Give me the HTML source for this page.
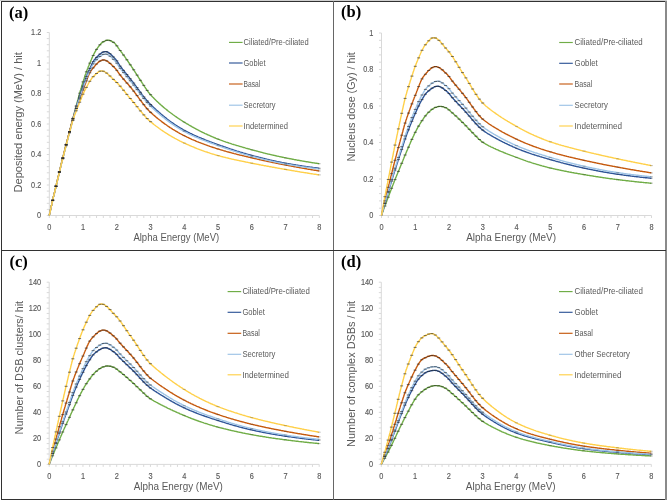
<!DOCTYPE html>
<html><head><meta charset="utf-8"><style>
html,body{margin:0;padding:0;background:#fff;}
svg{display:block;}
.t{font-family:"Liberation Sans",sans-serif;font-size:8.7px;fill:#595959;stroke:#595959;stroke-width:0.15px;}
.l{font-family:"Liberation Sans",sans-serif;font-size:9.2px;fill:#595959;}
.yt{font-family:"Liberation Sans",sans-serif;font-size:11.4px;fill:#595959;}
.xt{font-family:"Liberation Sans",sans-serif;font-size:11px;fill:#595959;}
.pl{font-family:"Liberation Serif",serif;font-weight:bold;font-size:16.5px;fill:#000;}
</style></head><body>
<svg width="667" height="501" viewBox="0 0 667 501">
<defs><filter id="bl" x="0" y="0" width="1" height="1"><feGaussianBlur stdDeviation="0.35"/></filter></defs>
<rect width="667" height="501" fill="#fff"/>
<g filter="url(#bl)">
<path d="M49.30 32.50V215.50H319.30" stroke="#D9D9D9" stroke-width="1" fill="none"/>
<path d="M46.80 215.50H49.30M46.80 209.40H49.30M46.80 203.30H49.30M46.80 197.20H49.30M46.80 191.10H49.30M46.80 185.00H49.30M46.80 178.90H49.30M46.80 172.80H49.30M46.80 166.70H49.30M46.80 160.60H49.30M46.80 154.50H49.30M46.80 148.40H49.30M46.80 142.30H49.30M46.80 136.20H49.30M46.80 130.10H49.30M46.80 124.00H49.30M46.80 117.90H49.30M46.80 111.80H49.30M46.80 105.70H49.30M46.80 99.60H49.30M46.80 93.50H49.30M46.80 87.40H49.30M46.80 81.30H49.30M46.80 75.20H49.30M46.80 69.10H49.30M46.80 63.00H49.30M46.80 56.90H49.30M46.80 50.80H49.30M46.80 44.70H49.30M46.80 38.60H49.30M46.80 32.50H49.30M49.30 215.50V218.00M56.05 215.50V218.00M62.80 215.50V218.00M69.55 215.50V218.00M76.30 215.50V218.00M83.05 215.50V218.00M89.80 215.50V218.00M96.55 215.50V218.00M103.30 215.50V218.00M110.05 215.50V218.00M116.80 215.50V218.00M123.55 215.50V218.00M130.30 215.50V218.00M137.05 215.50V218.00M143.80 215.50V218.00M150.55 215.50V218.00M157.30 215.50V218.00M164.05 215.50V218.00M170.80 215.50V218.00M177.55 215.50V218.00M184.30 215.50V218.00M191.05 215.50V218.00M197.80 215.50V218.00M204.55 215.50V218.00M211.30 215.50V218.00M218.05 215.50V218.00M224.80 215.50V218.00M231.55 215.50V218.00M238.30 215.50V218.00M245.05 215.50V218.00M251.80 215.50V218.00M258.55 215.50V218.00M265.30 215.50V218.00M272.05 215.50V218.00M278.80 215.50V218.00M285.55 215.50V218.00M292.30 215.50V218.00M299.05 215.50V218.00M305.80 215.50V218.00M312.55 215.50V218.00M319.30 215.50V218.00" stroke="#D9D9D9" stroke-width="1" fill="none"/>
<text x="37.10" y="218.30" class="t" textLength="4.1" lengthAdjust="spacingAndGlyphs">0</text>
<text x="31.10" y="187.80" class="t" textLength="10.1" lengthAdjust="spacingAndGlyphs">0.2</text>
<text x="31.10" y="157.30" class="t" textLength="10.1" lengthAdjust="spacingAndGlyphs">0.4</text>
<text x="31.10" y="126.80" class="t" textLength="10.1" lengthAdjust="spacingAndGlyphs">0.6</text>
<text x="31.10" y="96.30" class="t" textLength="10.1" lengthAdjust="spacingAndGlyphs">0.8</text>
<text x="37.10" y="65.80" class="t" textLength="4.1" lengthAdjust="spacingAndGlyphs">1</text>
<text x="31.10" y="35.30" class="t" textLength="10.1" lengthAdjust="spacingAndGlyphs">1.2</text>
<text x="47.25" y="229.80" class="t" textLength="4.1" lengthAdjust="spacingAndGlyphs">0</text>
<text x="81.00" y="229.80" class="t" textLength="4.1" lengthAdjust="spacingAndGlyphs">1</text>
<text x="114.75" y="229.80" class="t" textLength="4.1" lengthAdjust="spacingAndGlyphs">2</text>
<text x="148.50" y="229.80" class="t" textLength="4.1" lengthAdjust="spacingAndGlyphs">3</text>
<text x="182.25" y="229.80" class="t" textLength="4.1" lengthAdjust="spacingAndGlyphs">4</text>
<text x="216.00" y="229.80" class="t" textLength="4.1" lengthAdjust="spacingAndGlyphs">5</text>
<text x="249.75" y="229.80" class="t" textLength="4.1" lengthAdjust="spacingAndGlyphs">6</text>
<text x="283.50" y="229.80" class="t" textLength="4.1" lengthAdjust="spacingAndGlyphs">7</text>
<text x="317.25" y="229.80" class="t" textLength="4.1" lengthAdjust="spacingAndGlyphs">8</text>
<polyline points="49.3,215.5 49.6,213.9 50.0,212.4 50.3,210.8 50.6,209.3 51.0,207.7 51.3,206.2 51.7,204.7 52.0,203.2 52.3,201.7 52.7,200.2 53.0,198.8 53.3,197.3 53.7,195.9 54.0,194.5 54.4,193.1 54.7,191.7 55.0,190.3 55.4,188.9 55.7,187.5 56.0,186.1 56.4,184.7 56.7,183.2 57.1,181.8 57.4,180.4 57.7,179.0 58.1,177.5 58.4,176.1 58.8,174.7 59.1,173.2 59.4,171.8 59.8,170.4 60.1,169.0 60.4,167.6 60.8,166.2 61.1,164.8 61.4,163.4 61.8,162.0 62.1,160.6 62.5,159.2 62.8,157.9 63.1,156.5 63.5,155.2 63.8,153.8 64.1,152.5 64.5,151.2 64.8,149.9 65.2,148.5 65.5,147.2 65.8,145.9 66.2,144.6 66.5,143.3 66.8,142.0 67.2,140.8 67.5,139.5 67.9,138.2 68.2,136.9 68.5,135.6 68.9,134.3 69.2,132.9 69.5,131.6 69.9,130.3 70.2,129.0 70.6,127.6 70.9,126.3 71.2,125.0 71.6,123.6 71.9,122.3 72.2,121.0 72.6,119.7 72.9,118.4 73.3,117.1 73.6,115.8 73.9,114.5 74.3,113.3 74.6,112.0 74.9,110.8 75.3,109.5 75.6,108.3 76.0,107.0 76.3,105.8 76.6,104.5 77.0,103.2 77.3,101.9 77.6,100.6 78.0,99.4 78.3,98.1 78.7,96.8 79.0,95.6 79.3,94.4 79.7,93.2 80.0,92.0 80.3,90.8 80.7,89.7 81.0,88.5 81.4,87.4 81.7,86.3 82.0,85.2 82.4,84.1 82.7,83.0 83.0,81.9 83.4,80.8 83.7,79.7 84.1,78.7 84.4,77.6 84.7,76.6 85.1,75.6 85.4,74.6 85.8,73.7 86.1,72.7 86.4,71.8 86.8,70.9 87.1,70.0 87.4,69.1 87.8,68.3 88.1,67.4 88.4,66.6 88.8,65.7 89.1,64.9 89.5,64.0 89.8,63.2 90.1,62.4 90.5,61.6 90.8,60.8 91.2,60.0 91.5,59.2 91.8,58.4 92.2,57.7 92.5,56.9 92.8,56.2 93.2,55.5 93.5,54.8 93.8,54.1 94.2,53.4 94.5,52.8 94.9,52.2 95.2,51.6 95.5,51.0 95.9,50.5 96.2,49.9 96.6,49.4 96.9,48.9 97.2,48.4 97.6,48.0 97.9,47.5 98.2,47.0 98.6,46.6 98.9,46.1 99.2,45.7 99.6,45.2 99.9,44.8 100.3,44.4 100.6,44.1 100.9,43.7 101.3,43.4 101.6,43.0 101.9,42.7 102.3,42.5 102.6,42.2 103.0,42.0 103.3,41.8 103.6,41.6 104.0,41.4 104.3,41.3 104.7,41.1 105.0,40.9 105.3,40.8 105.7,40.6 106.0,40.5 106.3,40.4 106.7,40.3 107.0,40.2 107.3,40.2 107.7,40.1 108.0,40.1 108.4,40.1 108.7,40.2 109.0,40.3 109.4,40.3 109.7,40.4 110.0,40.6 110.4,40.7 110.7,40.8 111.1,41.0 111.4,41.1 111.7,41.3 112.1,41.5 112.4,41.7 112.8,41.9 113.1,42.1 113.4,42.3 113.8,42.5 114.1,42.7 114.4,43.0 114.8,43.3 115.1,43.7 115.5,44.1 115.8,44.5 116.1,44.9 116.5,45.3 116.8,45.8 117.1,46.2 117.5,46.7 117.8,47.2 118.1,47.7 118.5,48.2 118.8,48.6 119.2,49.1 119.5,49.6 119.8,50.0 120.2,50.5 120.5,50.9 120.8,51.4 121.2,51.8 121.5,52.3 121.9,52.7 122.2,53.2 122.5,53.6 122.9,54.1 123.2,54.6 123.5,55.0 123.9,55.5 124.2,56.0 124.6,56.5 124.9,56.9 125.2,57.4 125.6,57.9 125.9,58.4 126.2,58.9 126.6,59.3 126.9,59.8 127.3,60.3 127.6,60.8 127.9,61.3 128.3,61.8 128.6,62.3 128.9,62.8 129.3,63.3 129.6,63.8 130.0,64.3 130.3,64.8 130.6,65.2 131.0,65.7 131.3,66.2 131.6,66.7 132.0,67.3 132.3,67.8 132.7,68.3 133.0,68.8 133.3,69.3 133.7,69.8 134.0,70.4 134.3,70.9 134.7,71.4 135.0,71.9 135.4,72.5 135.7,73.0 136.0,73.5 136.4,74.1 136.7,74.6 137.1,75.1 137.4,75.6 137.7,76.2 138.1,76.7 138.4,77.2 138.7,77.7 139.1,78.3 139.4,78.8 139.8,79.3 140.1,79.8 140.4,80.3 140.8,80.8 141.1,81.3 141.4,81.8 141.8,82.3 142.1,82.8 142.4,83.3 142.8,83.9 143.1,84.4 143.5,84.9 143.8,85.4 144.1,85.9 144.5,86.5 144.8,87.0 145.1,87.5 145.5,88.0 145.8,88.5 146.2,89.0 146.5,89.5 146.8,90.0 147.2,90.4 147.5,90.9 147.8,91.4 148.2,91.8 148.5,92.3 148.9,92.7 149.2,93.1 149.5,93.6 149.9,94.0 150.2,94.3 150.6,94.7 151.2,95.5 151.9,96.2 152.6,96.9 153.2,97.6 153.9,98.3 154.6,99.0 155.3,99.6 155.9,100.3 156.6,101.0 157.3,101.6 158.0,102.3 158.7,102.9 159.3,103.5 160.0,104.1 160.7,104.7 161.3,105.3 162.0,105.9 162.7,106.5 163.4,107.1 164.1,107.7 164.7,108.2 165.4,108.8 166.1,109.3 166.8,109.9 167.4,110.4 168.1,111.0 168.8,111.5 169.4,112.0 170.1,112.5 170.8,113.0 171.5,113.5 172.2,114.0 172.8,114.5 173.5,115.0 174.2,115.5 174.9,116.0 175.5,116.4 176.2,116.9 176.9,117.4 177.6,117.8 178.2,118.3 178.9,118.7 179.6,119.2 180.2,119.6 180.9,120.0 181.6,120.5 182.3,120.9 182.9,121.3 183.6,121.7 184.3,122.2 185.0,122.6 185.6,123.0 186.3,123.4 187.0,123.8 187.7,124.2 188.4,124.6 189.0,125.0 189.7,125.4 190.4,125.8 191.1,126.2 191.7,126.6 192.4,127.0 193.1,127.3 193.8,127.7 194.4,128.1 195.1,128.4 195.8,128.8 196.4,129.2 197.1,129.5 197.8,129.9 198.5,130.2 199.1,130.6 199.8,130.9 200.5,131.3 201.2,131.6 201.8,132.0 202.5,132.3 203.2,132.6 203.9,132.9 204.6,133.3 205.2,133.6 205.9,133.9 206.6,134.2 207.2,134.5 207.9,134.8 208.6,135.1 209.3,135.4 209.9,135.7 210.6,136.0 211.3,136.3 212.0,136.6 212.6,136.9 213.3,137.2 214.0,137.5 214.7,137.8 215.4,138.0 216.0,138.3 216.7,138.6 217.4,138.8 218.1,139.1 218.7,139.4 219.4,139.6 220.1,139.9 220.8,140.1 221.4,140.4 222.1,140.6 222.8,140.9 223.4,141.1 224.1,141.4 224.8,141.6 225.5,141.8 226.1,142.1 226.8,142.3 227.5,142.5 228.2,142.7 228.9,143.0 229.5,143.2 230.2,143.4 230.9,143.6 231.6,143.9 232.2,144.1 232.9,144.3 233.6,144.5 234.2,144.7 234.9,144.9 235.6,145.1 236.3,145.3 236.9,145.5 237.6,145.7 238.3,145.9 239.0,146.1 239.7,146.3 240.3,146.5 241.0,146.7 241.7,146.9 242.4,147.1 243.0,147.3 243.7,147.5 244.4,147.7 245.1,147.9 245.7,148.1 246.4,148.3 247.1,148.5 247.8,148.7 248.4,148.8 249.1,149.0 249.8,149.2 250.4,149.4 251.1,149.6 251.8,149.8 252.5,150.0 253.1,150.1 253.8,150.3 254.5,150.5 255.2,150.7 255.9,150.9 256.5,151.0 257.2,151.2 257.9,151.4 258.6,151.6 259.2,151.8 259.9,151.9 260.6,152.1 261.2,152.3 261.9,152.4 262.6,152.6 263.3,152.8 263.9,153.0 264.6,153.1 265.3,153.3 266.0,153.5 266.6,153.6 267.3,153.8 268.0,154.0 268.7,154.1 269.3,154.3 270.0,154.4 270.7,154.6 271.4,154.8 272.1,154.9 272.7,155.1 273.4,155.2 274.1,155.4 274.8,155.5 275.4,155.7 276.1,155.8 276.8,156.0 277.4,156.1 278.1,156.3 278.8,156.4 279.5,156.6 280.1,156.7 280.8,156.9 281.5,157.0 282.2,157.2 282.9,157.3 283.5,157.4 284.2,157.6 284.9,157.7 285.6,157.9 286.2,158.0 286.9,158.1 287.6,158.3 288.2,158.4 288.9,158.5 289.6,158.7 290.3,158.8 290.9,158.9 291.6,159.0 292.3,159.2 293.0,159.3 293.6,159.4 294.3,159.6 295.0,159.7 295.7,159.8 296.4,159.9 297.0,160.1 297.7,160.2 298.4,160.3 299.1,160.4 299.7,160.5 300.4,160.7 301.1,160.8 301.8,160.9 302.4,161.0 303.1,161.1 303.8,161.2 304.4,161.4 305.1,161.5 305.8,161.6 306.5,161.7 307.2,161.8 307.8,161.9 308.5,162.0 309.2,162.1 309.9,162.2 310.5,162.4 311.2,162.5 311.9,162.6 312.6,162.7 313.2,162.8 313.9,162.9 314.6,163.0 315.3,163.1 315.9,163.2 316.6,163.3 317.3,163.4 318.0,163.5 318.6,163.6 319.3,163.7" fill="none" stroke="#70AD47" stroke-width="1.4" stroke-linejoin="round"/>
<polyline points="49.3,215.5 49.6,213.9 50.0,212.4 50.3,210.8 50.6,209.3 51.0,207.7 51.3,206.2 51.7,204.7 52.0,203.2 52.3,201.7 52.7,200.2 53.0,198.8 53.3,197.3 53.7,195.9 54.0,194.5 54.4,193.1 54.7,191.7 55.0,190.3 55.4,188.9 55.7,187.5 56.0,186.1 56.4,184.7 56.7,183.2 57.1,181.8 57.4,180.4 57.7,179.0 58.1,177.5 58.4,176.1 58.8,174.7 59.1,173.2 59.4,171.8 59.8,170.4 60.1,169.0 60.4,167.6 60.8,166.2 61.1,164.8 61.4,163.4 61.8,162.0 62.1,160.6 62.5,159.2 62.8,157.9 63.1,156.5 63.5,155.2 63.8,153.8 64.1,152.5 64.5,151.2 64.8,149.8 65.2,148.5 65.5,147.2 65.8,145.9 66.2,144.6 66.5,143.3 66.8,142.0 67.2,140.7 67.5,139.4 67.9,138.1 68.2,136.8 68.5,135.5 68.9,134.2 69.2,132.9 69.5,131.6 69.9,130.3 70.2,129.0 70.6,127.6 70.9,126.3 71.2,125.0 71.6,123.7 71.9,122.3 72.2,121.0 72.6,119.8 72.9,118.5 73.3,117.3 73.6,116.1 73.9,114.9 74.3,113.7 74.6,112.5 74.9,111.3 75.3,110.2 75.6,109.1 76.0,107.9 76.3,106.8 76.6,105.7 77.0,104.6 77.3,103.5 77.6,102.4 78.0,101.3 78.3,100.3 78.7,99.2 79.0,98.1 79.3,97.1 79.7,96.0 80.0,95.0 80.3,94.0 80.7,93.0 81.0,92.0 81.4,91.0 81.7,90.0 82.0,89.0 82.4,88.0 82.7,87.0 83.0,86.1 83.4,85.1 83.7,84.1 84.1,83.1 84.4,82.2 84.7,81.2 85.1,80.3 85.4,79.3 85.8,78.4 86.1,77.5 86.4,76.6 86.8,75.7 87.1,74.8 87.4,74.0 87.8,73.2 88.1,72.3 88.4,71.5 88.8,70.8 89.1,70.0 89.5,69.3 89.8,68.5 90.1,67.8 90.5,67.0 90.8,66.3 91.2,65.6 91.5,64.9 91.8,64.2 92.2,63.5 92.5,62.9 92.8,62.2 93.2,61.6 93.5,61.1 93.8,60.5 94.2,60.0 94.5,59.6 94.9,59.2 95.2,58.8 95.5,58.5 95.9,58.1 96.2,57.7 96.6,57.4 96.9,57.0 97.2,56.7 97.6,56.3 97.9,56.0 98.2,55.6 98.6,55.3 98.9,55.0 99.2,54.7 99.6,54.4 99.9,54.1 100.3,53.8 100.6,53.6 100.9,53.3 101.3,53.1 101.6,52.9 101.9,52.7 102.3,52.5 102.6,52.3 103.0,52.1 103.3,52.0 103.6,51.9 104.0,51.8 104.3,51.7 104.7,51.6 105.0,51.6 105.3,51.6 105.7,51.6 106.0,51.6 106.3,51.7 106.7,51.8 107.0,51.9 107.3,52.0 107.7,52.2 108.0,52.3 108.4,52.5 108.7,52.7 109.0,53.0 109.4,53.2 109.7,53.5 110.0,53.7 110.4,54.0 110.7,54.3 111.1,54.6 111.4,54.9 111.7,55.3 112.1,55.6 112.4,55.9 112.8,56.3 113.1,56.6 113.4,57.0 113.8,57.3 114.1,57.7 114.4,58.0 114.8,58.3 115.1,58.7 115.5,59.1 115.8,59.5 116.1,59.9 116.5,60.4 116.8,60.9 117.1,61.4 117.5,61.9 117.8,62.4 118.1,63.0 118.5,63.5 118.8,64.0 119.2,64.6 119.5,65.1 119.8,65.6 120.2,66.1 120.5,66.5 120.8,67.0 121.2,67.4 121.5,67.8 121.9,68.3 122.2,68.7 122.5,69.2 122.9,69.6 123.2,70.0 123.5,70.4 123.9,70.9 124.2,71.3 124.6,71.7 124.9,72.1 125.2,72.5 125.6,73.0 125.9,73.4 126.2,73.8 126.6,74.2 126.9,74.6 127.3,75.0 127.6,75.4 127.9,75.9 128.3,76.3 128.6,76.7 128.9,77.1 129.3,77.5 129.6,77.9 130.0,78.4 130.3,78.8 130.6,79.2 131.0,79.6 131.3,80.1 131.6,80.5 132.0,80.9 132.3,81.4 132.7,81.8 133.0,82.2 133.3,82.7 133.7,83.1 134.0,83.6 134.3,84.0 134.7,84.5 135.0,84.9 135.4,85.4 135.7,85.9 136.0,86.3 136.4,86.8 136.7,87.2 137.1,87.7 137.4,88.2 137.7,88.6 138.1,89.1 138.4,89.5 138.7,90.0 139.1,90.5 139.4,90.9 139.8,91.4 140.1,91.8 140.4,92.3 140.8,92.8 141.1,93.2 141.4,93.7 141.8,94.1 142.1,94.6 142.4,95.0 142.8,95.4 143.1,95.9 143.5,96.3 143.8,96.8 144.1,97.2 144.5,97.6 144.8,98.0 145.1,98.4 145.5,98.9 145.8,99.3 146.2,99.7 146.5,100.1 146.8,100.5 147.2,100.9 147.5,101.3 147.8,101.6 148.2,102.0 148.5,102.4 148.9,102.8 149.2,103.1 149.5,103.5 149.9,103.8 150.2,104.1 150.6,104.5 151.2,105.1 151.9,105.8 152.6,106.4 153.2,107.1 153.9,107.7 154.6,108.3 155.3,109.0 155.9,109.6 156.6,110.2 157.3,110.8 158.0,111.4 158.7,112.0 159.3,112.6 160.0,113.1 160.7,113.7 161.3,114.3 162.0,114.9 162.7,115.4 163.4,116.0 164.1,116.5 164.7,117.1 165.4,117.6 166.1,118.1 166.8,118.7 167.4,119.2 168.1,119.7 168.8,120.2 169.4,120.7 170.1,121.2 170.8,121.7 171.5,122.2 172.2,122.7 172.8,123.1 173.5,123.6 174.2,124.1 174.9,124.5 175.5,125.0 176.2,125.4 176.9,125.8 177.6,126.3 178.2,126.7 178.9,127.1 179.6,127.5 180.2,127.9 180.9,128.3 181.6,128.7 182.3,129.1 182.9,129.5 183.6,129.9 184.3,130.3 185.0,130.6 185.6,131.0 186.3,131.3 187.0,131.7 187.7,132.0 188.4,132.4 189.0,132.7 189.7,133.1 190.4,133.4 191.1,133.7 191.7,134.0 192.4,134.3 193.1,134.7 193.8,135.0 194.4,135.3 195.1,135.6 195.8,135.9 196.4,136.2 197.1,136.5 197.8,136.8 198.5,137.1 199.1,137.3 199.8,137.6 200.5,137.9 201.2,138.2 201.8,138.5 202.5,138.7 203.2,139.0 203.9,139.3 204.6,139.5 205.2,139.8 205.9,140.1 206.6,140.3 207.2,140.6 207.9,140.8 208.6,141.1 209.3,141.3 209.9,141.6 210.6,141.9 211.3,142.1 212.0,142.4 212.6,142.6 213.3,142.9 214.0,143.1 214.7,143.4 215.4,143.6 216.0,143.8 216.7,144.1 217.4,144.3 218.1,144.6 218.7,144.8 219.4,145.1 220.1,145.3 220.8,145.6 221.4,145.8 222.1,146.0 222.8,146.3 223.4,146.5 224.1,146.8 224.8,147.0 225.5,147.2 226.1,147.5 226.8,147.7 227.5,147.9 228.2,148.2 228.9,148.4 229.5,148.6 230.2,148.9 230.9,149.1 231.6,149.3 232.2,149.5 232.9,149.8 233.6,150.0 234.2,150.2 234.9,150.4 235.6,150.6 236.3,150.8 236.9,151.1 237.6,151.3 238.3,151.5 239.0,151.7 239.7,151.9 240.3,152.1 241.0,152.3 241.7,152.5 242.4,152.7 243.0,152.9 243.7,153.1 244.4,153.3 245.1,153.5 245.7,153.7 246.4,153.9 247.1,154.1 247.8,154.3 248.4,154.5 249.1,154.7 249.8,154.9 250.4,155.0 251.1,155.2 251.8,155.4 252.5,155.6 253.1,155.8 253.8,156.0 254.5,156.1 255.2,156.3 255.9,156.5 256.5,156.7 257.2,156.8 257.9,157.0 258.6,157.2 259.2,157.4 259.9,157.5 260.6,157.7 261.2,157.9 261.9,158.0 262.6,158.2 263.3,158.4 263.9,158.5 264.6,158.7 265.3,158.9 266.0,159.0 266.6,159.2 267.3,159.4 268.0,159.5 268.7,159.7 269.3,159.8 270.0,160.0 270.7,160.1 271.4,160.3 272.1,160.4 272.7,160.6 273.4,160.7 274.1,160.9 274.8,161.0 275.4,161.2 276.1,161.3 276.8,161.5 277.4,161.6 278.1,161.8 278.8,161.9 279.5,162.0 280.1,162.2 280.8,162.3 281.5,162.4 282.2,162.6 282.9,162.7 283.5,162.8 284.2,162.9 284.9,163.1 285.6,163.2 286.2,163.3 286.9,163.4 287.6,163.6 288.2,163.7 288.9,163.8 289.6,163.9 290.3,164.0 290.9,164.1 291.6,164.3 292.3,164.4 293.0,164.5 293.6,164.6 294.3,164.7 295.0,164.8 295.7,164.9 296.4,165.1 297.0,165.2 297.7,165.3 298.4,165.4 299.1,165.5 299.7,165.6 300.4,165.7 301.1,165.8 301.8,165.9 302.4,166.0 303.1,166.1 303.8,166.2 304.4,166.3 305.1,166.4 305.8,166.5 306.5,166.6 307.2,166.7 307.8,166.8 308.5,166.9 309.2,167.0 309.9,167.1 310.5,167.2 311.2,167.3 311.9,167.3 312.6,167.4 313.2,167.5 313.9,167.6 314.6,167.7 315.3,167.8 315.9,167.8 316.6,167.9 317.3,168.0 318.0,168.1 318.6,168.2 319.3,168.2" fill="none" stroke="#2F5597" stroke-width="1.4" stroke-linejoin="round"/>
<polyline points="49.3,215.5 49.6,213.9 50.0,212.4 50.3,210.8 50.6,209.3 51.0,207.7 51.3,206.2 51.7,204.7 52.0,203.2 52.3,201.7 52.7,200.2 53.0,198.8 53.3,197.3 53.7,195.9 54.0,194.5 54.4,193.1 54.7,191.7 55.0,190.3 55.4,188.9 55.7,187.5 56.0,186.1 56.4,184.7 56.7,183.2 57.1,181.8 57.4,180.4 57.7,179.0 58.1,177.5 58.4,176.1 58.8,174.7 59.1,173.2 59.4,171.8 59.8,170.4 60.1,169.0 60.4,167.6 60.8,166.2 61.1,164.8 61.4,163.4 61.8,162.0 62.1,160.6 62.5,159.2 62.8,157.9 63.1,156.5 63.5,155.1 63.8,153.8 64.1,152.5 64.5,151.1 64.8,149.8 65.2,148.5 65.5,147.2 65.8,145.9 66.2,144.6 66.5,143.3 66.8,142.0 67.2,140.7 67.5,139.4 67.9,138.1 68.2,136.8 68.5,135.5 68.9,134.2 69.2,132.9 69.5,131.6 69.9,130.3 70.2,129.0 70.6,127.7 70.9,126.4 71.2,125.1 71.6,123.8 71.9,122.6 72.2,121.3 72.6,120.1 72.9,119.0 73.3,117.8 73.6,116.7 73.9,115.7 74.3,114.6 74.6,113.6 74.9,112.5 75.3,111.5 75.6,110.5 76.0,109.5 76.3,108.5 76.6,107.5 77.0,106.6 77.3,105.6 77.6,104.6 78.0,103.7 78.3,102.7 78.7,101.7 79.0,100.8 79.3,99.9 79.7,98.9 80.0,98.0 80.3,97.1 80.7,96.2 81.0,95.3 81.4,94.4 81.7,93.5 82.0,92.6 82.4,91.7 82.7,90.9 83.0,90.0 83.4,89.1 83.7,88.2 84.1,87.3 84.4,86.4 84.7,85.5 85.1,84.6 85.4,83.7 85.8,82.7 86.1,81.8 86.4,80.9 86.8,80.0 87.1,79.1 87.4,78.2 87.8,77.4 88.1,76.5 88.4,75.7 88.8,74.9 89.1,74.2 89.5,73.5 89.8,72.8 90.1,72.1 90.5,71.5 90.8,71.0 91.2,70.5 91.5,70.0 91.8,69.6 92.2,69.2 92.5,68.7 92.8,68.3 93.2,67.9 93.5,67.5 93.8,67.1 94.2,66.7 94.5,66.3 94.9,65.9 95.2,65.5 95.5,65.1 95.9,64.7 96.2,64.4 96.6,64.0 96.9,63.7 97.2,63.3 97.6,63.0 97.9,62.7 98.2,62.4 98.6,62.1 98.9,61.9 99.2,61.6 99.6,61.4 99.9,61.1 100.3,60.9 100.6,60.8 100.9,60.6 101.3,60.4 101.6,60.3 101.9,60.2 102.3,60.1 102.6,60.0 103.0,60.0 103.3,60.0 103.6,60.0 104.0,60.0 104.3,60.0 104.7,60.1 105.0,60.2 105.3,60.3 105.7,60.4 106.0,60.5 106.3,60.7 106.7,60.9 107.0,61.1 107.3,61.3 107.7,61.5 108.0,61.7 108.4,62.0 108.7,62.2 109.0,62.5 109.4,62.8 109.7,63.1 110.0,63.4 110.4,63.7 110.7,64.0 111.1,64.3 111.4,64.6 111.7,64.9 112.1,65.3 112.4,65.6 112.8,65.9 113.1,66.3 113.4,66.6 113.8,67.0 114.1,67.3 114.4,67.6 114.8,68.0 115.1,68.3 115.5,68.6 115.8,69.0 116.1,69.4 116.5,69.9 116.8,70.3 117.1,70.8 117.5,71.3 117.8,71.7 118.1,72.2 118.5,72.7 118.8,73.2 119.2,73.7 119.5,74.2 119.8,74.6 120.2,75.0 120.5,75.5 120.8,75.9 121.2,76.3 121.5,76.7 121.9,77.1 122.2,77.5 122.5,77.9 122.9,78.3 123.2,78.7 123.5,79.1 123.9,79.5 124.2,79.9 124.6,80.3 124.9,80.7 125.2,81.1 125.6,81.4 125.9,81.8 126.2,82.2 126.6,82.6 126.9,83.0 127.3,83.4 127.6,83.8 127.9,84.1 128.3,84.5 128.6,84.9 128.9,85.3 129.3,85.7 129.6,86.1 130.0,86.5 130.3,86.9 130.6,87.3 131.0,87.7 131.3,88.1 131.6,88.5 132.0,88.9 132.3,89.4 132.7,89.8 133.0,90.2 133.3,90.7 133.7,91.1 134.0,91.5 134.3,92.0 134.7,92.4 135.0,92.9 135.4,93.3 135.7,93.8 136.0,94.3 136.4,94.7 136.7,95.2 137.1,95.6 137.4,96.1 137.7,96.5 138.1,97.0 138.4,97.5 138.7,97.9 139.1,98.4 139.4,98.9 139.8,99.3 140.1,99.8 140.4,100.2 140.8,100.7 141.1,101.1 141.4,101.6 141.8,102.0 142.1,102.5 142.4,102.9 142.8,103.4 143.1,103.8 143.5,104.3 143.8,104.7 144.1,105.1 144.5,105.5 144.8,106.0 145.1,106.4 145.5,106.8 145.8,107.2 146.2,107.6 146.5,108.0 146.8,108.4 147.2,108.8 147.5,109.2 147.8,109.5 148.2,109.9 148.5,110.3 148.9,110.6 149.2,111.0 149.5,111.3 149.9,111.6 150.2,111.9 150.6,112.3 151.2,112.9 151.9,113.5 152.6,114.1 153.2,114.7 153.9,115.3 154.6,115.9 155.3,116.4 155.9,117.0 156.6,117.6 157.3,118.1 158.0,118.7 158.7,119.2 159.3,119.8 160.0,120.3 160.7,120.8 161.3,121.3 162.0,121.9 162.7,122.4 163.4,122.9 164.1,123.4 164.7,123.9 165.4,124.3 166.1,124.8 166.8,125.3 167.4,125.8 168.1,126.2 168.8,126.7 169.4,127.1 170.1,127.6 170.8,128.0 171.5,128.4 172.2,128.9 172.8,129.3 173.5,129.7 174.2,130.1 174.9,130.5 175.5,130.9 176.2,131.3 176.9,131.7 177.6,132.1 178.2,132.5 178.9,132.9 179.6,133.3 180.2,133.6 180.9,134.0 181.6,134.4 182.3,134.7 182.9,135.1 183.6,135.4 184.3,135.7 185.0,136.1 185.6,136.4 186.3,136.7 187.0,137.1 187.7,137.4 188.4,137.7 189.0,138.0 189.7,138.3 190.4,138.6 191.1,139.0 191.7,139.3 192.4,139.6 193.1,139.8 193.8,140.1 194.4,140.4 195.1,140.7 195.8,141.0 196.4,141.3 197.1,141.6 197.8,141.8 198.5,142.1 199.1,142.4 199.8,142.6 200.5,142.9 201.2,143.2 201.8,143.4 202.5,143.7 203.2,143.9 203.9,144.2 204.6,144.4 205.2,144.7 205.9,144.9 206.6,145.2 207.2,145.4 207.9,145.7 208.6,145.9 209.3,146.1 209.9,146.4 210.6,146.6 211.3,146.8 212.0,147.0 212.6,147.3 213.3,147.5 214.0,147.7 214.7,147.9 215.4,148.1 216.0,148.4 216.7,148.6 217.4,148.8 218.1,149.0 218.7,149.2 219.4,149.4 220.1,149.6 220.8,149.8 221.4,150.0 222.1,150.2 222.8,150.4 223.4,150.6 224.1,150.8 224.8,151.0 225.5,151.2 226.1,151.4 226.8,151.6 227.5,151.8 228.2,152.0 228.9,152.2 229.5,152.3 230.2,152.5 230.9,152.7 231.6,152.9 232.2,153.1 232.9,153.2 233.6,153.4 234.2,153.6 234.9,153.8 235.6,153.9 236.3,154.1 236.9,154.3 237.6,154.5 238.3,154.6 239.0,154.8 239.7,155.0 240.3,155.1 241.0,155.3 241.7,155.4 242.4,155.6 243.0,155.8 243.7,155.9 244.4,156.1 245.1,156.3 245.7,156.4 246.4,156.6 247.1,156.7 247.8,156.9 248.4,157.1 249.1,157.2 249.8,157.4 250.4,157.5 251.1,157.7 251.8,157.9 252.5,158.0 253.1,158.2 253.8,158.3 254.5,158.5 255.2,158.6 255.9,158.8 256.5,158.9 257.2,159.1 257.9,159.3 258.6,159.4 259.2,159.6 259.9,159.7 260.6,159.9 261.2,160.0 261.9,160.2 262.6,160.3 263.3,160.5 263.9,160.6 264.6,160.7 265.3,160.9 266.0,161.0 266.6,161.2 267.3,161.3 268.0,161.5 268.7,161.6 269.3,161.8 270.0,161.9 270.7,162.0 271.4,162.2 272.1,162.3 272.7,162.5 273.4,162.6 274.1,162.7 274.8,162.9 275.4,163.0 276.1,163.2 276.8,163.3 277.4,163.4 278.1,163.6 278.8,163.7 279.5,163.8 280.1,164.0 280.8,164.1 281.5,164.2 282.2,164.4 282.9,164.5 283.5,164.6 284.2,164.8 284.9,164.9 285.6,165.0 286.2,165.2 286.9,165.3 287.6,165.4 288.2,165.5 288.9,165.7 289.6,165.8 290.3,165.9 290.9,166.0 291.6,166.2 292.3,166.3 293.0,166.4 293.6,166.6 294.3,166.7 295.0,166.8 295.7,166.9 296.4,167.1 297.0,167.2 297.7,167.3 298.4,167.4 299.1,167.5 299.7,167.7 300.4,167.8 301.1,167.9 301.8,168.0 302.4,168.1 303.1,168.3 303.8,168.4 304.4,168.5 305.1,168.6 305.8,168.7 306.5,168.8 307.2,169.0 307.8,169.1 308.5,169.2 309.2,169.3 309.9,169.4 310.5,169.5 311.2,169.7 311.9,169.8 312.6,169.9 313.2,170.0 313.9,170.1 314.6,170.2 315.3,170.3 315.9,170.4 316.6,170.5 317.3,170.6 318.0,170.8 318.6,170.9 319.3,171.0" fill="none" stroke="#C55A11" stroke-width="1.4" stroke-linejoin="round"/>
<polyline points="49.3,215.5 49.6,214.0 50.0,212.4 50.3,210.9 50.6,209.4 51.0,207.9 51.3,206.4 51.7,204.9 52.0,203.4 52.3,201.9 52.7,200.5 53.0,199.0 53.3,197.6 53.7,196.2 54.0,194.8 54.4,193.4 54.7,192.0 55.0,190.7 55.4,189.3 55.7,187.9 56.0,186.5 56.4,185.1 56.7,183.7 57.1,182.3 57.4,180.9 57.7,179.5 58.1,178.1 58.4,176.7 58.8,175.3 59.1,173.9 59.4,172.5 59.8,171.1 60.1,169.7 60.4,168.3 60.8,166.9 61.1,165.5 61.4,164.1 61.8,162.8 62.1,161.4 62.5,160.1 62.8,158.7 63.1,157.4 63.5,156.1 63.8,154.7 64.1,153.4 64.5,152.1 64.8,150.8 65.2,149.5 65.5,148.2 65.8,147.0 66.2,145.7 66.5,144.4 66.8,143.1 67.2,141.9 67.5,140.6 67.9,139.3 68.2,138.0 68.5,136.7 68.9,135.5 69.2,134.2 69.5,132.9 69.9,131.6 70.2,130.3 70.6,129.0 70.9,127.6 71.2,126.3 71.6,125.0 71.9,123.7 72.2,122.5 72.6,121.2 72.9,120.0 73.3,118.8 73.6,117.6 73.9,116.4 74.3,115.2 74.6,114.0 74.9,112.9 75.3,111.8 75.6,110.7 76.0,109.5 76.3,108.4 76.6,107.4 77.0,106.3 77.3,105.2 77.6,104.1 78.0,103.1 78.3,102.0 78.7,100.9 79.0,99.9 79.3,98.9 79.7,97.8 80.0,96.8 80.3,95.8 80.7,94.8 81.0,93.8 81.4,92.8 81.7,91.9 82.0,90.9 82.4,89.9 82.7,89.0 83.0,88.0 83.4,87.0 83.7,86.1 84.1,85.1 84.4,84.2 84.7,83.2 85.1,82.3 85.4,81.4 85.8,80.5 86.1,79.6 86.4,78.7 86.8,77.8 87.1,77.0 87.4,76.1 87.8,75.3 88.1,74.5 88.4,73.7 88.8,72.9 89.1,72.2 89.5,71.5 89.8,70.7 90.1,70.0 90.5,69.3 90.8,68.6 91.2,67.8 91.5,67.1 91.8,66.5 92.2,65.8 92.5,65.1 92.8,64.5 93.2,63.9 93.5,63.4 93.8,62.9 94.2,62.4 94.5,61.9 94.9,61.5 95.2,61.2 95.5,60.8 95.9,60.4 96.2,60.1 96.6,59.7 96.9,59.4 97.2,59.0 97.6,58.7 97.9,58.4 98.2,58.0 98.6,57.7 98.9,57.4 99.2,57.1 99.6,56.8 99.9,56.5 100.3,56.3 100.6,56.0 100.9,55.8 101.3,55.5 101.6,55.3 101.9,55.1 102.3,54.9 102.6,54.7 103.0,54.6 103.3,54.4 103.6,54.3 104.0,54.2 104.3,54.1 104.7,54.1 105.0,54.0 105.3,54.0 105.7,54.0 106.0,54.1 106.3,54.1 106.7,54.2 107.0,54.3 107.3,54.5 107.7,54.6 108.0,54.8 108.4,55.0 108.7,55.2 109.0,55.4 109.4,55.6 109.7,55.9 110.0,56.2 110.4,56.4 110.7,56.7 111.1,57.0 111.4,57.3 111.7,57.7 112.1,58.0 112.4,58.3 112.8,58.7 113.1,59.0 113.4,59.3 113.8,59.7 114.1,60.0 114.4,60.4 114.8,60.7 115.1,61.0 115.5,61.4 115.8,61.8 116.1,62.2 116.5,62.7 116.8,63.2 117.1,63.7 117.5,64.2 117.8,64.7 118.1,65.3 118.5,65.8 118.8,66.3 119.2,66.8 119.5,67.3 119.8,67.8 120.2,68.3 120.5,68.7 120.8,69.2 121.2,69.6 121.5,70.1 121.9,70.5 122.2,70.9 122.5,71.4 122.9,71.8 123.2,72.2 123.5,72.6 123.9,73.0 124.2,73.5 124.6,73.9 124.9,74.3 125.2,74.7 125.6,75.1 125.9,75.5 126.2,75.9 126.6,76.3 126.9,76.7 127.3,77.1 127.6,77.5 127.9,78.0 128.3,78.4 128.6,78.8 128.9,79.2 129.3,79.6 129.6,80.0 130.0,80.4 130.3,80.8 130.6,81.2 131.0,81.7 131.3,82.1 131.6,82.5 132.0,82.9 132.3,83.4 132.7,83.8 133.0,84.2 133.3,84.7 133.7,85.1 134.0,85.6 134.3,86.0 134.7,86.5 135.0,86.9 135.4,87.4 135.7,87.8 136.0,88.3 136.4,88.7 136.7,89.2 137.1,89.6 137.4,90.1 137.7,90.5 138.1,91.0 138.4,91.4 138.7,91.9 139.1,92.3 139.4,92.8 139.8,93.2 140.1,93.7 140.4,94.1 140.8,94.6 141.1,95.0 141.4,95.5 141.8,95.9 142.1,96.4 142.4,96.8 142.8,97.2 143.1,97.7 143.5,98.1 143.8,98.5 144.1,99.0 144.5,99.4 144.8,99.8 145.1,100.2 145.5,100.6 145.8,101.0 146.2,101.4 146.5,101.8 146.8,102.2 147.2,102.6 147.5,103.0 147.8,103.3 148.2,103.7 148.5,104.1 148.9,104.4 149.2,104.8 149.5,105.1 149.9,105.5 150.2,105.8 150.6,106.1 151.2,106.8 151.9,107.4 152.6,108.1 153.2,108.7 153.9,109.3 154.6,109.9 155.3,110.5 155.9,111.2 156.6,111.8 157.3,112.4 158.0,112.9 158.7,113.5 159.3,114.1 160.0,114.7 160.7,115.3 161.3,115.8 162.0,116.4 162.7,116.9 163.4,117.5 164.1,118.0 164.7,118.5 165.4,119.1 166.1,119.6 166.8,120.1 167.4,120.6 168.1,121.1 168.8,121.6 169.4,122.1 170.1,122.6 170.8,123.1 171.5,123.6 172.2,124.0 172.8,124.5 173.5,125.0 174.2,125.4 174.9,125.9 175.5,126.3 176.2,126.8 176.9,127.2 177.6,127.6 178.2,128.0 178.9,128.4 179.6,128.8 180.2,129.2 180.9,129.6 181.6,130.0 182.3,130.4 182.9,130.8 183.6,131.2 184.3,131.5 185.0,131.9 185.6,132.2 186.3,132.6 187.0,132.9 187.7,133.3 188.4,133.6 189.0,134.0 189.7,134.3 190.4,134.6 191.1,134.9 191.7,135.3 192.4,135.6 193.1,135.9 193.8,136.2 194.4,136.5 195.1,136.8 195.8,137.1 196.4,137.4 197.1,137.7 197.8,137.9 198.5,138.2 199.1,138.5 199.8,138.8 200.5,139.1 201.2,139.3 201.8,139.6 202.5,139.9 203.2,140.1 203.9,140.4 204.6,140.7 205.2,140.9 205.9,141.2 206.6,141.4 207.2,141.7 207.9,142.0 208.6,142.2 209.3,142.5 209.9,142.7 210.6,143.0 211.3,143.2 212.0,143.5 212.6,143.7 213.3,143.9 214.0,144.2 214.7,144.4 215.4,144.7 216.0,144.9 216.7,145.2 217.4,145.4 218.1,145.7 218.7,145.9 219.4,146.1 220.1,146.4 220.8,146.6 221.4,146.9 222.1,147.1 222.8,147.3 223.4,147.6 224.1,147.8 224.8,148.0 225.5,148.3 226.1,148.5 226.8,148.7 227.5,149.0 228.2,149.2 228.9,149.4 229.5,149.6 230.2,149.9 230.9,150.1 231.6,150.3 232.2,150.5 232.9,150.7 233.6,151.0 234.2,151.2 234.9,151.4 235.6,151.6 236.3,151.8 236.9,152.0 237.6,152.2 238.3,152.4 239.0,152.7 239.7,152.9 240.3,153.1 241.0,153.3 241.7,153.5 242.4,153.7 243.0,153.9 243.7,154.1 244.4,154.3 245.1,154.5 245.7,154.6 246.4,154.8 247.1,155.0 247.8,155.2 248.4,155.4 249.1,155.6 249.8,155.8 250.4,156.0 251.1,156.1 251.8,156.3 252.5,156.5 253.1,156.7 253.8,156.8 254.5,157.0 255.2,157.2 255.9,157.4 256.5,157.5 257.2,157.7 257.9,157.9 258.6,158.1 259.2,158.2 259.9,158.4 260.6,158.6 261.2,158.7 261.9,158.9 262.6,159.1 263.3,159.2 263.9,159.4 264.6,159.6 265.3,159.7 266.0,159.9 266.6,160.0 267.3,160.2 268.0,160.4 268.7,160.5 269.3,160.7 270.0,160.8 270.7,161.0 271.4,161.1 272.1,161.3 272.7,161.4 273.4,161.6 274.1,161.7 274.8,161.9 275.4,162.0 276.1,162.1 276.8,162.3 277.4,162.4 278.1,162.6 278.8,162.7 279.5,162.8 280.1,163.0 280.8,163.1 281.5,163.2 282.2,163.4 282.9,163.5 283.5,163.6 284.2,163.7 284.9,163.9 285.6,164.0 286.2,164.1 286.9,164.2 287.6,164.3 288.2,164.5 288.9,164.6 289.6,164.7 290.3,164.8 290.9,164.9 291.6,165.0 292.3,165.1 293.0,165.3 293.6,165.4 294.3,165.5 295.0,165.6 295.7,165.7 296.4,165.8 297.0,165.9 297.7,166.0 298.4,166.1 299.1,166.2 299.7,166.3 300.4,166.5 301.1,166.6 301.8,166.7 302.4,166.8 303.1,166.9 303.8,167.0 304.4,167.1 305.1,167.2 305.8,167.2 306.5,167.3 307.2,167.4 307.8,167.5 308.5,167.6 309.2,167.7 309.9,167.8 310.5,167.9 311.2,168.0 311.9,168.1 312.6,168.1 313.2,168.2 313.9,168.3 314.6,168.4 315.3,168.5 315.9,168.6 316.6,168.6 317.3,168.7 318.0,168.8 318.6,168.9 319.3,168.9" fill="none" stroke="#9DC3E6" stroke-width="1.4" stroke-linejoin="round"/>
<polyline points="49.3,215.5 49.6,213.9 50.0,212.4 50.3,210.8 50.6,209.3 51.0,207.7 51.3,206.2 51.7,204.7 52.0,203.2 52.3,201.7 52.7,200.2 53.0,198.8 53.3,197.4 53.7,196.0 54.0,194.6 54.4,193.2 54.7,191.8 55.0,190.4 55.4,189.0 55.7,187.6 56.0,186.2 56.4,184.8 56.7,183.4 57.1,182.0 57.4,180.6 57.7,179.2 58.1,177.8 58.4,176.4 58.8,174.9 59.1,173.5 59.4,172.1 59.8,170.7 60.1,169.3 60.4,167.9 60.8,166.5 61.1,165.1 61.4,163.8 61.8,162.4 62.1,161.0 62.5,159.7 62.8,158.3 63.1,157.0 63.5,155.6 63.8,154.3 64.1,153.0 64.5,151.6 64.8,150.3 65.2,149.0 65.5,147.7 65.8,146.4 66.2,145.1 66.5,143.8 66.8,142.5 67.2,141.2 67.5,140.0 67.9,138.7 68.2,137.4 68.5,136.1 68.9,134.9 69.2,133.6 69.5,132.4 69.9,131.1 70.2,129.9 70.6,128.6 70.9,127.4 71.2,126.1 71.6,124.9 71.9,123.7 72.2,122.6 72.6,121.4 72.9,120.3 73.3,119.3 73.6,118.3 73.9,117.3 74.3,116.3 74.6,115.3 74.9,114.4 75.3,113.5 75.6,112.6 76.0,111.7 76.3,110.8 76.6,109.9 77.0,109.1 77.3,108.2 77.6,107.3 78.0,106.5 78.3,105.6 78.7,104.7 79.0,103.9 79.3,103.0 79.7,102.2 80.0,101.3 80.3,100.5 80.7,99.7 81.0,98.9 81.4,98.1 81.7,97.3 82.0,96.5 82.4,95.7 82.7,94.9 83.0,94.2 83.4,93.5 83.7,92.7 84.1,92.0 84.4,91.3 84.7,90.7 85.1,90.0 85.4,89.3 85.8,88.7 86.1,88.0 86.4,87.4 86.8,86.7 87.1,86.1 87.4,85.5 87.8,84.8 88.1,84.2 88.4,83.6 88.8,83.0 89.1,82.4 89.5,81.8 89.8,81.3 90.1,80.7 90.5,80.2 90.8,79.7 91.2,79.2 91.5,78.7 91.8,78.3 92.2,77.8 92.5,77.4 92.8,77.1 93.2,76.7 93.5,76.4 93.8,76.1 94.2,75.7 94.5,75.4 94.9,75.1 95.2,74.7 95.5,74.4 95.9,74.1 96.2,73.8 96.6,73.5 96.9,73.2 97.2,72.9 97.6,72.6 97.9,72.4 98.2,72.1 98.6,71.9 98.9,71.7 99.2,71.5 99.6,71.4 99.9,71.2 100.3,71.1 100.6,71.0 100.9,71.0 101.3,70.9 101.6,70.9 101.9,70.9 102.3,71.0 102.6,71.0 103.0,71.1 103.3,71.2 103.6,71.3 104.0,71.5 104.3,71.6 104.7,71.8 105.0,72.0 105.3,72.2 105.7,72.4 106.0,72.6 106.3,72.8 106.7,73.1 107.0,73.3 107.3,73.6 107.7,73.9 108.0,74.2 108.4,74.5 108.7,74.8 109.0,75.1 109.4,75.4 109.7,75.7 110.0,76.0 110.4,76.4 110.7,76.7 111.1,77.0 111.4,77.4 111.7,77.7 112.1,78.0 112.4,78.4 112.8,78.7 113.1,79.0 113.4,79.4 113.8,79.7 114.1,80.0 114.4,80.3 114.8,80.6 115.1,80.9 115.5,81.2 115.8,81.6 116.1,81.9 116.5,82.2 116.8,82.5 117.1,82.9 117.5,83.2 117.8,83.6 118.1,83.9 118.5,84.3 118.8,84.7 119.2,85.0 119.5,85.4 119.8,85.8 120.2,86.2 120.5,86.6 120.8,87.0 121.2,87.4 121.5,87.8 121.9,88.2 122.2,88.6 122.5,89.0 122.9,89.4 123.2,89.8 123.5,90.2 123.9,90.7 124.2,91.1 124.6,91.5 124.9,91.9 125.2,92.3 125.6,92.7 125.9,93.2 126.2,93.6 126.6,94.0 126.9,94.4 127.3,94.8 127.6,95.3 127.9,95.7 128.3,96.1 128.6,96.5 128.9,96.9 129.3,97.3 129.6,97.7 130.0,98.1 130.3,98.5 130.6,98.9 131.0,99.3 131.3,99.7 131.6,100.1 132.0,100.5 132.3,100.9 132.7,101.3 133.0,101.7 133.3,102.1 133.7,102.5 134.0,102.9 134.3,103.3 134.7,103.7 135.0,104.2 135.4,104.6 135.7,105.0 136.0,105.4 136.4,105.8 136.7,106.2 137.1,106.7 137.4,107.1 137.7,107.5 138.1,107.9 138.4,108.4 138.7,108.8 139.1,109.2 139.4,109.6 139.8,110.0 140.1,110.4 140.4,110.9 140.8,111.3 141.1,111.7 141.4,112.1 141.8,112.5 142.1,112.9 142.4,113.3 142.8,113.7 143.1,114.1 143.5,114.5 143.8,114.9 144.1,115.3 144.5,115.7 144.8,116.0 145.1,116.4 145.5,116.8 145.8,117.1 146.2,117.5 146.5,117.9 146.8,118.2 147.2,118.6 147.5,118.9 147.8,119.2 148.2,119.6 148.5,119.9 148.9,120.2 149.2,120.5 149.5,120.8 149.9,121.1 150.2,121.4 150.6,121.7 151.2,122.3 151.9,122.8 152.6,123.4 153.2,123.9 153.9,124.5 154.6,125.0 155.3,125.5 155.9,126.0 156.6,126.5 157.3,127.0 158.0,127.5 158.7,128.0 159.3,128.5 160.0,129.0 160.7,129.5 161.3,130.0 162.0,130.4 162.7,130.9 163.4,131.3 164.1,131.8 164.7,132.2 165.4,132.7 166.1,133.1 166.8,133.5 167.4,133.9 168.1,134.4 168.8,134.8 169.4,135.2 170.1,135.6 170.8,136.0 171.5,136.4 172.2,136.8 172.8,137.2 173.5,137.5 174.2,137.9 174.9,138.3 175.5,138.6 176.2,139.0 176.9,139.4 177.6,139.7 178.2,140.1 178.9,140.4 179.6,140.8 180.2,141.1 180.9,141.4 181.6,141.8 182.3,142.1 182.9,142.4 183.6,142.7 184.3,143.1 185.0,143.4 185.6,143.7 186.3,144.0 187.0,144.3 187.7,144.6 188.4,144.9 189.0,145.2 189.7,145.5 190.4,145.8 191.1,146.1 191.7,146.4 192.4,146.6 193.1,146.9 193.8,147.2 194.4,147.5 195.1,147.8 195.8,148.0 196.4,148.3 197.1,148.6 197.8,148.8 198.5,149.1 199.1,149.3 199.8,149.6 200.5,149.9 201.2,150.1 201.8,150.3 202.5,150.6 203.2,150.8 203.9,151.1 204.6,151.3 205.2,151.6 205.9,151.8 206.6,152.0 207.2,152.2 207.9,152.5 208.6,152.7 209.3,152.9 209.9,153.1 210.6,153.3 211.3,153.6 212.0,153.8 212.6,154.0 213.3,154.2 214.0,154.4 214.7,154.6 215.4,154.8 216.0,155.0 216.7,155.2 217.4,155.4 218.1,155.6 218.7,155.8 219.4,155.9 220.1,156.1 220.8,156.3 221.4,156.5 222.1,156.7 222.8,156.8 223.4,157.0 224.1,157.2 224.8,157.4 225.5,157.5 226.1,157.7 226.8,157.9 227.5,158.0 228.2,158.2 228.9,158.3 229.5,158.5 230.2,158.6 230.9,158.8 231.6,159.0 232.2,159.1 232.9,159.3 233.6,159.4 234.2,159.6 234.9,159.7 235.6,159.9 236.3,160.0 236.9,160.1 237.6,160.3 238.3,160.4 239.0,160.6 239.7,160.7 240.3,160.9 241.0,161.0 241.7,161.1 242.4,161.3 243.0,161.4 243.7,161.5 244.4,161.7 245.1,161.8 245.7,162.0 246.4,162.1 247.1,162.2 247.8,162.4 248.4,162.5 249.1,162.6 249.8,162.8 250.4,162.9 251.1,163.1 251.8,163.2 252.5,163.3 253.1,163.5 253.8,163.6 254.5,163.7 255.2,163.9 255.9,164.0 256.5,164.1 257.2,164.3 257.9,164.4 258.6,164.5 259.2,164.7 259.9,164.8 260.6,164.9 261.2,165.1 261.9,165.2 262.6,165.3 263.3,165.4 263.9,165.6 264.6,165.7 265.3,165.8 266.0,165.9 266.6,166.1 267.3,166.2 268.0,166.3 268.7,166.4 269.3,166.6 270.0,166.7 270.7,166.8 271.4,166.9 272.1,167.1 272.7,167.2 273.4,167.3 274.1,167.4 274.8,167.5 275.4,167.7 276.1,167.8 276.8,167.9 277.4,168.0 278.1,168.1 278.8,168.3 279.5,168.4 280.1,168.5 280.8,168.6 281.5,168.7 282.2,168.9 282.9,169.0 283.5,169.1 284.2,169.2 284.9,169.3 285.6,169.4 286.2,169.6 286.9,169.7 287.6,169.8 288.2,169.9 288.9,170.0 289.6,170.1 290.3,170.3 290.9,170.4 291.6,170.5 292.3,170.6 293.0,170.7 293.6,170.8 294.3,170.9 295.0,171.1 295.7,171.2 296.4,171.3 297.0,171.4 297.7,171.5 298.4,171.6 299.1,171.7 299.7,171.8 300.4,172.0 301.1,172.1 301.8,172.2 302.4,172.3 303.1,172.4 303.8,172.5 304.4,172.6 305.1,172.7 305.8,172.8 306.5,172.9 307.2,173.0 307.8,173.2 308.5,173.3 309.2,173.4 309.9,173.5 310.5,173.6 311.2,173.7 311.9,173.8 312.6,173.9 313.2,174.0 313.9,174.1 314.6,174.2 315.3,174.3 315.9,174.4 316.6,174.5 317.3,174.6 318.0,174.7 318.6,174.8 319.3,174.9" fill="none" stroke="#FFD04A" stroke-width="1.4" stroke-linejoin="round"/>
<path d="M51.2 200.2h3M54.5 186.1h3M57.9 171.8h3M61.3 157.9h3M64.7 144.6h3M68.0 131.6h3M71.4 118.4h3M74.8 105.8h3M78.2 93.2h3M81.5 81.9h3M84.9 71.8h3M88.3 63.2h3M91.7 55.5h3M95.0 49.4h3M98.4 44.8h3M101.8 41.8h3M105.2 40.3h3M108.5 40.6h3M111.9 42.3h3M115.3 45.8h3M118.7 50.5h3M122.0 55.0h3M125.4 59.8h3M128.8 64.8h3M132.2 69.8h3M135.6 75.1h3M138.9 80.3h3M142.3 85.4h3M145.7 90.4h3M149.1 94.7h3M51.2 200.2h3M54.5 186.1h3M57.9 171.8h3M61.3 157.9h3M64.7 144.6h3M68.0 131.6h3M71.4 118.5h3M74.8 106.8h3M78.2 96.0h3M81.5 86.1h3M84.9 76.6h3M88.3 68.5h3M91.7 61.6h3M95.0 57.4h3M98.4 54.1h3M101.8 52.0h3M105.2 51.8h3M108.5 53.7h3M111.9 57.0h3M115.3 60.9h3M118.7 66.1h3M122.0 70.4h3M125.4 74.6h3M128.8 78.8h3M132.2 83.1h3M135.6 87.7h3M138.9 92.3h3M142.3 96.8h3M145.7 100.9h3M149.1 104.5h3M51.2 200.2h3M54.5 186.1h3M57.9 171.8h3M61.3 157.9h3M64.7 144.6h3M68.0 131.6h3M71.4 119.0h3M74.8 108.5h3M78.2 98.9h3M81.5 90.0h3M84.9 80.9h3M88.3 72.8h3M91.7 67.9h3M95.0 64.0h3M98.4 61.1h3M101.8 60.0h3M105.2 60.9h3M108.5 63.4h3M111.9 66.6h3M115.3 70.3h3M118.7 75.0h3M122.0 79.1h3M125.4 83.0h3M128.8 86.9h3M132.2 91.1h3M135.6 95.6h3M138.9 100.2h3M142.3 104.7h3M145.7 108.8h3M149.1 112.3h3M51.2 200.5h3M54.5 186.5h3M57.9 172.5h3M61.3 158.7h3M64.7 145.7h3M68.0 132.9h3M71.4 120.0h3M74.8 108.4h3M78.2 97.8h3M81.5 88.0h3M84.9 78.7h3M88.3 70.7h3M91.7 63.9h3M95.0 59.7h3M98.4 56.5h3M101.8 54.4h3M105.2 54.2h3M108.5 56.2h3M111.9 59.3h3M115.3 63.2h3M118.7 68.3h3M122.0 72.6h3M125.4 76.7h3M128.8 80.8h3M132.2 85.1h3M135.6 89.6h3M138.9 94.1h3M142.3 98.5h3M145.7 102.6h3M149.1 106.1h3M51.2 200.2h3M54.5 186.2h3M57.9 172.1h3M61.3 158.3h3M64.7 145.1h3M68.0 132.4h3M71.4 120.3h3M74.8 110.8h3M78.2 102.2h3M81.5 94.2h3M84.9 87.4h3M88.3 81.3h3M91.7 76.7h3M95.0 73.5h3M98.4 71.2h3M101.8 71.2h3M105.2 73.1h3M108.5 76.0h3M111.9 79.4h3M115.3 82.5h3M118.7 86.2h3M122.0 90.2h3M125.4 94.4h3M128.8 98.5h3M132.2 102.5h3M135.6 106.7h3M138.9 110.9h3M142.3 114.9h3M145.7 118.6h3M149.1 121.7h3" stroke="#222" stroke-opacity="0.62" stroke-width="1" fill="none"/>
<path d="M182.8 122.2h3M216.6 139.1h3M250.3 149.8h3M284.1 157.9h3M317.8 163.7h3M182.8 130.3h3M216.6 144.6h3M250.3 155.4h3M284.1 163.2h3M317.8 168.2h3M182.8 135.7h3M216.6 149.0h3M250.3 157.9h3M284.1 165.0h3M317.8 171.0h3M182.8 131.5h3M216.6 145.7h3M250.3 156.3h3M284.1 164.0h3M317.8 168.9h3M182.8 143.1h3M216.6 155.6h3M250.3 163.2h3M284.1 169.4h3M317.8 174.9h3" stroke="#222" stroke-opacity="0.25" stroke-width="1" fill="none"/>
<path d="M229.00 42.40H242.60" stroke="#70AD47" stroke-width="1.15"/>
<text x="243.60" y="45.20" class="l" textLength="65.2" lengthAdjust="spacingAndGlyphs">Ciliated/Pre-ciliated</text>
<path d="M229.00 63.00H242.60" stroke="#2F5597" stroke-width="1.15"/>
<text x="243.60" y="65.80" class="l" textLength="21.9" lengthAdjust="spacingAndGlyphs">Goblet</text>
<path d="M229.00 84.00H242.60" stroke="#C55A11" stroke-width="1.15"/>
<text x="243.60" y="86.80" class="l" textLength="16.7" lengthAdjust="spacingAndGlyphs">Basal</text>
<path d="M229.00 105.20H242.60" stroke="#9DC3E6" stroke-width="1.15"/>
<text x="243.60" y="108.00" class="l" textLength="31.9" lengthAdjust="spacingAndGlyphs">Secretory</text>
<path d="M229.00 126.00H242.60" stroke="#FFD04A" stroke-width="1.15"/>
<text x="243.60" y="128.80" class="l" textLength="44.3" lengthAdjust="spacingAndGlyphs">Indetermined</text>
<text transform="translate(22.00,192.40) rotate(-90)" x="0" y="0" class="yt" textLength="140.2" lengthAdjust="spacingAndGlyphs">Deposited energy (MeV) / hit</text>
<text x="133.40" y="240.60" class="xt" textLength="85.8" lengthAdjust="spacingAndGlyphs">Alpha Energy (MeV)</text>
<text x="9.00" y="17.50" class="pl">(a)</text>
<path d="M381.50 33.00V215.50H651.50" stroke="#D9D9D9" stroke-width="1" fill="none"/>
<path d="M379.00 215.50H381.50M379.00 208.20H381.50M379.00 200.90H381.50M379.00 193.60H381.50M379.00 186.30H381.50M379.00 179.00H381.50M379.00 171.70H381.50M379.00 164.40H381.50M379.00 157.10H381.50M379.00 149.80H381.50M379.00 142.50H381.50M379.00 135.20H381.50M379.00 127.90H381.50M379.00 120.60H381.50M379.00 113.30H381.50M379.00 106.00H381.50M379.00 98.70H381.50M379.00 91.40H381.50M379.00 84.10H381.50M379.00 76.80H381.50M379.00 69.50H381.50M379.00 62.20H381.50M379.00 54.90H381.50M379.00 47.60H381.50M379.00 40.30H381.50M379.00 33.00H381.50M381.50 215.50V218.00M388.25 215.50V218.00M395.00 215.50V218.00M401.75 215.50V218.00M408.50 215.50V218.00M415.25 215.50V218.00M422.00 215.50V218.00M428.75 215.50V218.00M435.50 215.50V218.00M442.25 215.50V218.00M449.00 215.50V218.00M455.75 215.50V218.00M462.50 215.50V218.00M469.25 215.50V218.00M476.00 215.50V218.00M482.75 215.50V218.00M489.50 215.50V218.00M496.25 215.50V218.00M503.00 215.50V218.00M509.75 215.50V218.00M516.50 215.50V218.00M523.25 215.50V218.00M530.00 215.50V218.00M536.75 215.50V218.00M543.50 215.50V218.00M550.25 215.50V218.00M557.00 215.50V218.00M563.75 215.50V218.00M570.50 215.50V218.00M577.25 215.50V218.00M584.00 215.50V218.00M590.75 215.50V218.00M597.50 215.50V218.00M604.25 215.50V218.00M611.00 215.50V218.00M617.75 215.50V218.00M624.50 215.50V218.00M631.25 215.50V218.00M638.00 215.50V218.00M644.75 215.50V218.00M651.50 215.50V218.00" stroke="#D9D9D9" stroke-width="1" fill="none"/>
<text x="369.30" y="218.30" class="t" textLength="4.1" lengthAdjust="spacingAndGlyphs">0</text>
<text x="363.30" y="181.80" class="t" textLength="10.1" lengthAdjust="spacingAndGlyphs">0.2</text>
<text x="363.30" y="145.30" class="t" textLength="10.1" lengthAdjust="spacingAndGlyphs">0.4</text>
<text x="363.30" y="108.80" class="t" textLength="10.1" lengthAdjust="spacingAndGlyphs">0.6</text>
<text x="363.30" y="72.30" class="t" textLength="10.1" lengthAdjust="spacingAndGlyphs">0.8</text>
<text x="369.30" y="35.80" class="t" textLength="4.1" lengthAdjust="spacingAndGlyphs">1</text>
<text x="379.45" y="229.80" class="t" textLength="4.1" lengthAdjust="spacingAndGlyphs">0</text>
<text x="413.20" y="229.80" class="t" textLength="4.1" lengthAdjust="spacingAndGlyphs">1</text>
<text x="446.95" y="229.80" class="t" textLength="4.1" lengthAdjust="spacingAndGlyphs">2</text>
<text x="480.70" y="229.80" class="t" textLength="4.1" lengthAdjust="spacingAndGlyphs">3</text>
<text x="514.45" y="229.80" class="t" textLength="4.1" lengthAdjust="spacingAndGlyphs">4</text>
<text x="548.20" y="229.80" class="t" textLength="4.1" lengthAdjust="spacingAndGlyphs">5</text>
<text x="581.95" y="229.80" class="t" textLength="4.1" lengthAdjust="spacingAndGlyphs">6</text>
<text x="615.70" y="229.80" class="t" textLength="4.1" lengthAdjust="spacingAndGlyphs">7</text>
<text x="649.45" y="229.80" class="t" textLength="4.1" lengthAdjust="spacingAndGlyphs">8</text>
<polyline points="381.5,215.5 381.8,214.5 382.2,213.5 382.5,212.6 382.9,211.6 383.2,210.7 383.5,209.7 383.9,208.8 384.2,207.9 384.5,206.9 384.9,206.0 385.2,205.1 385.6,204.2 385.9,203.3 386.2,202.4 386.6,201.6 386.9,200.7 387.2,199.8 387.6,198.9 387.9,198.1 388.2,197.2 388.6,196.3 388.9,195.4 389.3,194.5 389.6,193.6 389.9,192.8 390.3,191.9 390.6,191.0 390.9,190.1 391.3,189.2 391.6,188.3 392.0,187.4 392.3,186.6 392.6,185.7 393.0,184.8 393.3,183.9 393.6,183.1 394.0,182.2 394.3,181.3 394.7,180.5 395.0,179.6 395.3,178.8 395.7,177.9 396.0,177.1 396.4,176.3 396.7,175.5 397.0,174.7 397.4,173.8 397.7,173.0 398.0,172.2 398.4,171.4 398.7,170.6 399.1,169.8 399.4,169.0 399.7,168.2 400.1,167.4 400.4,166.6 400.7,165.8 401.1,164.9 401.4,164.1 401.8,163.3 402.1,162.5 402.4,161.7 402.8,160.8 403.1,160.0 403.4,159.2 403.8,158.3 404.1,157.5 404.4,156.7 404.8,155.9 405.1,155.0 405.5,154.3 405.8,153.5 406.1,152.7 406.5,151.9 406.8,151.1 407.1,150.3 407.5,149.6 407.8,148.8 408.2,148.0 408.5,147.2 408.8,146.4 409.2,145.6 409.5,144.8 409.9,144.0 410.2,143.2 410.5,142.4 410.9,141.7 411.2,140.9 411.5,140.1 411.9,139.4 412.2,138.6 412.6,137.9 412.9,137.2 413.2,136.5 413.6,135.8 413.9,135.1 414.2,134.4 414.6,133.7 414.9,133.0 415.2,132.3 415.6,131.7 415.9,131.0 416.3,130.4 416.6,129.7 416.9,129.1 417.3,128.5 417.6,127.8 417.9,127.2 418.3,126.7 418.6,126.1 419.0,125.5 419.3,125.0 419.6,124.4 420.0,123.9 420.3,123.4 420.6,122.8 421.0,122.3 421.3,121.8 421.7,121.2 422.0,120.7 422.3,120.2 422.7,119.7 423.0,119.2 423.4,118.7 423.7,118.2 424.0,117.7 424.4,117.3 424.7,116.8 425.0,116.4 425.4,115.9 425.7,115.5 426.1,115.1 426.4,114.7 426.7,114.3 427.1,113.9 427.4,113.5 427.7,113.1 428.1,112.8 428.4,112.5 428.8,112.2 429.1,111.8 429.4,111.5 429.8,111.2 430.1,110.9 430.4,110.7 430.8,110.4 431.1,110.1 431.4,109.8 431.8,109.6 432.1,109.3 432.5,109.0 432.8,108.8 433.1,108.6 433.5,108.4 433.8,108.2 434.1,108.0 434.5,107.8 434.8,107.7 435.2,107.5 435.5,107.4 435.8,107.3 436.2,107.2 436.5,107.1 436.9,107.0 437.2,106.9 437.5,106.8 437.9,106.7 438.2,106.6 438.5,106.5 438.9,106.5 439.2,106.4 439.6,106.4 439.9,106.4 440.2,106.4 440.6,106.4 440.9,106.4 441.2,106.4 441.6,106.5 441.9,106.6 442.2,106.6 442.6,106.7 442.9,106.8 443.3,106.9 443.6,107.0 443.9,107.1 444.3,107.2 444.6,107.3 444.9,107.5 445.3,107.6 445.6,107.7 446.0,107.8 446.3,108.0 446.6,108.2 447.0,108.4 447.3,108.6 447.6,108.8 448.0,109.1 448.3,109.3 448.7,109.6 449.0,109.9 449.3,110.2 449.7,110.5 450.0,110.8 450.4,111.1 450.7,111.4 451.0,111.7 451.4,112.0 451.7,112.3 452.0,112.6 452.4,112.9 452.7,113.2 453.1,113.5 453.4,113.8 453.7,114.1 454.1,114.4 454.4,114.7 454.7,115.0 455.1,115.3 455.4,115.6 455.8,115.9 456.1,116.2 456.4,116.5 456.8,116.8 457.1,117.1 457.4,117.5 457.8,117.8 458.1,118.1 458.4,118.4 458.8,118.8 459.1,119.1 459.5,119.4 459.8,119.7 460.1,120.1 460.5,120.4 460.8,120.7 461.1,121.1 461.5,121.4 461.8,121.7 462.2,122.1 462.5,122.4 462.8,122.7 463.2,123.0 463.5,123.4 463.9,123.7 464.2,124.1 464.5,124.4 464.9,124.7 465.2,125.1 465.5,125.4 465.9,125.8 466.2,126.1 466.6,126.5 466.9,126.8 467.2,127.2 467.6,127.5 467.9,127.9 468.2,128.2 468.6,128.6 468.9,128.9 469.2,129.3 469.6,129.6 469.9,130.0 470.3,130.4 470.6,130.7 470.9,131.1 471.3,131.4 471.6,131.8 471.9,132.1 472.3,132.4 472.6,132.8 473.0,133.1 473.3,133.5 473.6,133.8 474.0,134.2 474.3,134.5 474.6,134.9 475.0,135.2 475.3,135.5 475.7,135.9 476.0,136.2 476.3,136.6 476.7,136.9 477.0,137.3 477.4,137.6 477.7,137.9 478.0,138.3 478.4,138.6 478.7,138.9 479.0,139.2 479.4,139.5 479.7,139.8 480.1,140.1 480.4,140.4 480.7,140.7 481.1,141.0 481.4,141.2 481.7,141.5 482.1,141.8 482.4,142.0 482.8,142.2 483.4,142.7 484.1,143.1 484.8,143.5 485.4,143.9 486.1,144.3 486.8,144.7 487.5,145.0 488.1,145.4 488.8,145.8 489.5,146.1 490.2,146.4 490.9,146.8 491.5,147.1 492.2,147.4 492.9,147.7 493.6,148.1 494.2,148.4 494.9,148.7 495.6,149.0 496.2,149.3 496.9,149.6 497.6,149.9 498.3,150.2 498.9,150.5 499.6,150.8 500.3,151.1 501.0,151.4 501.6,151.6 502.3,151.9 503.0,152.2 503.7,152.5 504.4,152.8 505.0,153.0 505.7,153.3 506.4,153.6 507.1,153.8 507.7,154.1 508.4,154.3 509.1,154.6 509.8,154.9 510.4,155.1 511.1,155.4 511.8,155.6 512.5,155.9 513.1,156.1 513.8,156.4 514.5,156.6 515.1,156.9 515.8,157.2 516.5,157.4 517.2,157.7 517.9,157.9 518.5,158.2 519.2,158.4 519.9,158.7 520.5,158.9 521.2,159.2 521.9,159.4 522.6,159.7 523.2,159.9 523.9,160.2 524.6,160.4 525.3,160.6 526.0,160.9 526.6,161.1 527.3,161.3 528.0,161.6 528.6,161.8 529.3,162.0 530.0,162.2 530.7,162.4 531.4,162.7 532.0,162.9 532.7,163.1 533.4,163.3 534.0,163.5 534.7,163.7 535.4,163.9 536.1,164.1 536.8,164.3 537.4,164.5 538.1,164.7 538.8,164.9 539.5,165.1 540.1,165.3 540.8,165.5 541.5,165.7 542.1,165.9 542.8,166.1 543.5,166.2 544.2,166.4 544.9,166.6 545.5,166.8 546.2,166.9 546.9,167.1 547.5,167.3 548.2,167.5 548.9,167.6 549.6,167.8 550.2,168.0 550.9,168.1 551.6,168.3 552.3,168.4 553.0,168.6 553.6,168.7 554.3,168.9 555.0,169.1 555.6,169.2 556.3,169.4 557.0,169.5 557.7,169.7 558.4,169.8 559.0,169.9 559.7,170.1 560.4,170.2 561.0,170.4 561.7,170.5 562.4,170.6 563.1,170.8 563.8,170.9 564.4,171.1 565.1,171.2 565.8,171.3 566.5,171.4 567.1,171.6 567.8,171.7 568.5,171.8 569.1,172.0 569.8,172.1 570.5,172.2 571.2,172.3 571.9,172.5 572.5,172.6 573.2,172.7 573.9,172.8 574.5,173.0 575.2,173.1 575.9,173.2 576.6,173.3 577.2,173.4 577.9,173.6 578.6,173.7 579.3,173.8 580.0,173.9 580.6,174.0 581.3,174.1 582.0,174.3 582.6,174.4 583.3,174.5 584.0,174.6 584.7,174.7 585.4,174.8 586.0,174.9 586.7,175.1 587.4,175.2 588.0,175.3 588.7,175.4 589.4,175.5 590.1,175.6 590.8,175.7 591.4,175.8 592.1,175.9 592.8,176.0 593.5,176.2 594.1,176.3 594.8,176.4 595.5,176.5 596.1,176.6 596.8,176.7 597.5,176.8 598.2,176.9 598.9,177.0 599.5,177.1 600.2,177.2 600.9,177.3 601.5,177.4 602.2,177.5 602.9,177.6 603.6,177.7 604.2,177.8 604.9,177.9 605.6,178.0 606.3,178.1 607.0,178.2 607.6,178.3 608.3,178.4 609.0,178.5 609.6,178.6 610.3,178.7 611.0,178.8 611.7,178.8 612.4,178.9 613.0,179.0 613.7,179.1 614.4,179.2 615.0,179.3 615.7,179.4 616.4,179.5 617.1,179.5 617.8,179.6 618.4,179.7 619.1,179.8 619.8,179.9 620.5,180.0 621.1,180.0 621.8,180.1 622.5,180.2 623.1,180.3 623.8,180.4 624.5,180.4 625.2,180.5 625.9,180.6 626.5,180.7 627.2,180.8 627.9,180.8 628.5,180.9 629.2,181.0 629.9,181.1 630.6,181.1 631.2,181.2 631.9,181.3 632.6,181.4 633.3,181.4 634.0,181.5 634.6,181.6 635.3,181.7 636.0,181.7 636.6,181.8 637.3,181.9 638.0,182.0 638.7,182.0 639.4,182.1 640.0,182.2 640.7,182.2 641.4,182.3 642.0,182.4 642.7,182.4 643.4,182.5 644.1,182.6 644.8,182.6 645.4,182.7 646.1,182.8 646.8,182.8 647.5,182.9 648.1,182.9 648.8,183.0 649.5,183.1 650.2,183.1 650.8,183.2 651.5,183.2" fill="none" stroke="#70AD47" stroke-width="1.4" stroke-linejoin="round"/>
<polyline points="381.5,215.5 381.8,214.3 382.2,213.0 382.5,211.8 382.9,210.6 383.2,209.4 383.5,208.2 383.9,207.0 384.2,205.8 384.5,204.6 384.9,203.5 385.2,202.3 385.6,201.2 385.9,200.1 386.2,198.9 386.6,197.8 386.9,196.7 387.2,195.6 387.6,194.5 387.9,193.4 388.2,192.3 388.6,191.2 388.9,190.1 389.3,188.9 389.6,187.8 389.9,186.7 390.3,185.6 390.6,184.4 390.9,183.3 391.3,182.2 391.6,181.1 392.0,179.9 392.3,178.8 392.6,177.7 393.0,176.6 393.3,175.5 393.6,174.4 394.0,173.3 394.3,172.2 394.7,171.1 395.0,170.0 395.3,169.0 395.7,167.9 396.0,166.9 396.4,165.8 396.7,164.8 397.0,163.7 397.4,162.7 397.7,161.7 398.0,160.6 398.4,159.6 398.7,158.6 399.1,157.6 399.4,156.5 399.7,155.5 400.1,154.5 400.4,153.5 400.7,152.4 401.1,151.4 401.4,150.4 401.8,149.4 402.1,148.3 402.4,147.3 402.8,146.2 403.1,145.2 403.4,144.1 403.8,143.1 404.1,142.0 404.4,141.0 404.8,140.0 405.1,139.0 405.5,138.0 405.8,137.1 406.1,136.1 406.5,135.2 406.8,134.3 407.1,133.3 407.5,132.4 407.8,131.6 408.2,130.7 408.5,129.8 408.8,128.9 409.2,128.0 409.5,127.2 409.9,126.3 410.2,125.5 410.5,124.6 410.9,123.8 411.2,122.9 411.5,122.1 411.9,121.3 412.2,120.5 412.6,119.7 412.9,118.9 413.2,118.1 413.6,117.3 413.9,116.5 414.2,115.7 414.6,115.0 414.9,114.2 415.2,113.4 415.6,112.7 415.9,111.9 416.3,111.1 416.6,110.4 416.9,109.6 417.3,108.9 417.6,108.1 417.9,107.4 418.3,106.7 418.6,106.0 419.0,105.3 419.3,104.6 419.6,103.9 420.0,103.2 420.3,102.6 420.6,102.0 421.0,101.4 421.3,100.8 421.7,100.2 422.0,99.6 422.3,99.0 422.7,98.4 423.0,97.8 423.4,97.3 423.7,96.7 424.0,96.2 424.4,95.6 424.7,95.1 425.0,94.6 425.4,94.2 425.7,93.7 426.1,93.3 426.4,92.9 426.7,92.5 427.1,92.2 427.4,91.9 427.7,91.6 428.1,91.4 428.4,91.1 428.8,90.8 429.1,90.5 429.4,90.2 429.8,90.0 430.1,89.7 430.4,89.4 430.8,89.2 431.1,88.9 431.4,88.7 431.8,88.5 432.1,88.2 432.5,88.0 432.8,87.8 433.1,87.6 433.5,87.4 433.8,87.2 434.1,87.1 434.5,86.9 434.8,86.8 435.2,86.7 435.5,86.5 435.8,86.4 436.2,86.4 436.5,86.3 436.9,86.3 437.2,86.2 437.5,86.2 437.9,86.2 438.2,86.2 438.5,86.3 438.9,86.4 439.2,86.5 439.6,86.6 439.9,86.7 440.2,86.8 440.6,87.0 440.9,87.1 441.2,87.3 441.6,87.5 441.9,87.7 442.2,87.9 442.6,88.2 442.9,88.4 443.3,88.6 443.6,88.9 443.9,89.1 444.3,89.4 444.6,89.7 444.9,89.9 445.3,90.2 445.6,90.5 446.0,90.7 446.3,91.0 446.6,91.3 447.0,91.6 447.3,91.8 447.6,92.1 448.0,92.4 448.3,92.8 448.7,93.2 449.0,93.5 449.3,94.0 449.7,94.4 450.0,94.8 450.4,95.2 450.7,95.7 451.0,96.1 451.4,96.5 451.7,96.9 452.0,97.3 452.4,97.7 452.7,98.1 453.1,98.5 453.4,98.8 453.7,99.2 454.1,99.6 454.4,99.9 454.7,100.3 455.1,100.7 455.4,101.0 455.8,101.4 456.1,101.7 456.4,102.1 456.8,102.4 457.1,102.8 457.4,103.2 457.8,103.5 458.1,103.9 458.4,104.2 458.8,104.6 459.1,104.9 459.5,105.3 459.8,105.6 460.1,106.0 460.5,106.3 460.8,106.7 461.1,107.0 461.5,107.4 461.8,107.8 462.2,108.1 462.5,108.5 462.8,108.8 463.2,109.2 463.5,109.6 463.9,109.9 464.2,110.3 464.5,110.7 464.9,111.0 465.2,111.4 465.5,111.8 465.9,112.2 466.2,112.5 466.6,112.9 466.9,113.3 467.2,113.7 467.6,114.1 467.9,114.5 468.2,114.8 468.6,115.2 468.9,115.6 469.2,116.0 469.6,116.4 469.9,116.8 470.3,117.2 470.6,117.6 470.9,118.0 471.3,118.4 471.6,118.8 471.9,119.2 472.3,119.6 472.6,120.0 473.0,120.4 473.3,120.8 473.6,121.2 474.0,121.5 474.3,121.9 474.6,122.3 475.0,122.7 475.3,123.1 475.7,123.4 476.0,123.8 476.3,124.2 476.7,124.5 477.0,124.9 477.4,125.2 477.7,125.6 478.0,125.9 478.4,126.3 478.7,126.6 479.0,126.9 479.4,127.3 479.7,127.6 480.1,127.9 480.4,128.2 480.7,128.5 481.1,128.8 481.4,129.1 481.7,129.3 482.1,129.6 482.4,129.9 482.8,130.1 483.4,130.6 484.1,131.1 484.8,131.6 485.4,132.1 486.1,132.5 486.8,133.0 487.5,133.4 488.1,133.8 488.8,134.2 489.5,134.6 490.2,135.0 490.9,135.4 491.5,135.8 492.2,136.2 492.9,136.6 493.6,137.0 494.2,137.4 494.9,137.7 495.6,138.1 496.2,138.5 496.9,138.8 497.6,139.2 498.3,139.6 498.9,139.9 499.6,140.3 500.3,140.7 501.0,141.0 501.6,141.4 502.3,141.7 503.0,142.1 503.7,142.4 504.4,142.7 505.0,143.1 505.7,143.4 506.4,143.7 507.1,144.0 507.7,144.4 508.4,144.7 509.1,145.0 509.8,145.3 510.4,145.6 511.1,145.9 511.8,146.2 512.5,146.5 513.1,146.8 513.8,147.1 514.5,147.4 515.1,147.7 515.8,148.0 516.5,148.3 517.2,148.6 517.9,148.8 518.5,149.1 519.2,149.4 519.9,149.7 520.5,149.9 521.2,150.2 521.9,150.5 522.6,150.7 523.2,151.0 523.9,151.2 524.6,151.5 525.3,151.7 526.0,152.0 526.6,152.2 527.3,152.5 528.0,152.7 528.6,152.9 529.3,153.2 530.0,153.4 530.7,153.6 531.4,153.9 532.0,154.1 532.7,154.3 533.4,154.5 534.0,154.7 534.7,155.0 535.4,155.2 536.1,155.4 536.8,155.6 537.4,155.8 538.1,156.0 538.8,156.2 539.5,156.4 540.1,156.6 540.8,156.8 541.5,157.0 542.1,157.2 542.8,157.4 543.5,157.6 544.2,157.8 544.9,158.0 545.5,158.2 546.2,158.4 546.9,158.6 547.5,158.8 548.2,159.0 548.9,159.2 549.6,159.4 550.2,159.6 550.9,159.8 551.6,160.0 552.3,160.2 553.0,160.3 553.6,160.5 554.3,160.7 555.0,160.9 555.6,161.1 556.3,161.3 557.0,161.5 557.7,161.7 558.4,161.9 559.0,162.0 559.7,162.2 560.4,162.4 561.0,162.6 561.7,162.8 562.4,162.9 563.1,163.1 563.8,163.3 564.4,163.5 565.1,163.6 565.8,163.8 566.5,164.0 567.1,164.2 567.8,164.3 568.5,164.5 569.1,164.7 569.8,164.8 570.5,165.0 571.2,165.2 571.9,165.3 572.5,165.5 573.2,165.7 573.9,165.8 574.5,166.0 575.2,166.2 575.9,166.3 576.6,166.5 577.2,166.6 577.9,166.8 578.6,166.9 579.3,167.1 580.0,167.2 580.6,167.4 581.3,167.5 582.0,167.7 582.6,167.8 583.3,168.0 584.0,168.1 584.7,168.3 585.4,168.4 586.0,168.5 586.7,168.7 587.4,168.8 588.0,169.0 588.7,169.1 589.4,169.2 590.1,169.4 590.8,169.5 591.4,169.6 592.1,169.8 592.8,169.9 593.5,170.1 594.1,170.2 594.8,170.3 595.5,170.4 596.1,170.6 596.8,170.7 597.5,170.8 598.2,171.0 598.9,171.1 599.5,171.2 600.2,171.3 600.9,171.5 601.5,171.6 602.2,171.7 602.9,171.8 603.6,172.0 604.2,172.1 604.9,172.2 605.6,172.3 606.3,172.4 607.0,172.5 607.6,172.7 608.3,172.8 609.0,172.9 609.6,173.0 610.3,173.1 611.0,173.2 611.7,173.3 612.4,173.4 613.0,173.5 613.7,173.6 614.4,173.8 615.0,173.9 615.7,174.0 616.4,174.1 617.1,174.2 617.8,174.2 618.4,174.3 619.1,174.4 619.8,174.5 620.5,174.6 621.1,174.7 621.8,174.8 622.5,174.9 623.1,175.0 623.8,175.1 624.5,175.2 625.2,175.3 625.9,175.4 626.5,175.5 627.2,175.5 627.9,175.6 628.5,175.7 629.2,175.8 629.9,175.9 630.6,176.0 631.2,176.1 631.9,176.1 632.6,176.2 633.3,176.3 634.0,176.4 634.6,176.5 635.3,176.6 636.0,176.6 636.6,176.7 637.3,176.8 638.0,176.9 638.7,176.9 639.4,177.0 640.0,177.1 640.7,177.2 641.4,177.2 642.0,177.3 642.7,177.4 643.4,177.5 644.1,177.5 644.8,177.6 645.4,177.7 646.1,177.7 646.8,177.8 647.5,177.9 648.1,177.9 648.8,178.0 649.5,178.0 650.2,178.1 650.8,178.2 651.5,178.2" fill="none" stroke="#2F5597" stroke-width="1.4" stroke-linejoin="round"/>
<polyline points="381.5,215.5 381.8,214.0 382.2,212.5 382.5,211.0 382.9,209.5 383.2,208.1 383.5,206.6 383.9,205.2 384.2,203.7 384.5,202.3 384.9,200.9 385.2,199.5 385.6,198.1 385.9,196.8 386.2,195.4 386.6,194.0 386.9,192.7 387.2,191.4 387.6,190.0 387.9,188.7 388.2,187.3 388.6,186.0 388.9,184.6 389.3,183.2 389.6,181.9 389.9,180.5 390.3,179.1 390.6,177.8 390.9,176.4 391.3,175.0 391.6,173.7 392.0,172.3 392.3,171.0 392.6,169.6 393.0,168.3 393.3,166.9 393.6,165.6 394.0,164.3 394.3,162.9 394.7,161.6 395.0,160.3 395.3,159.0 395.7,157.7 396.0,156.4 396.4,155.2 396.7,153.9 397.0,152.6 397.4,151.3 397.7,150.1 398.0,148.8 398.4,147.6 398.7,146.3 399.1,145.1 399.4,143.8 399.7,142.6 400.1,141.4 400.4,140.1 400.7,138.9 401.1,137.7 401.4,136.4 401.8,135.2 402.1,134.0 402.4,132.7 402.8,131.5 403.1,130.2 403.4,129.0 403.8,127.7 404.1,126.5 404.4,125.4 404.8,124.2 405.1,123.1 405.5,122.0 405.8,120.9 406.1,119.9 406.5,118.9 406.8,117.9 407.1,116.9 407.5,115.9 407.8,115.0 408.2,114.0 408.5,113.1 408.8,112.1 409.2,111.2 409.5,110.3 409.9,109.3 410.2,108.4 410.5,107.5 410.9,106.6 411.2,105.7 411.5,104.8 411.9,103.9 412.2,103.0 412.6,102.1 412.9,101.3 413.2,100.4 413.6,99.5 413.9,98.7 414.2,97.8 414.6,97.0 414.9,96.2 415.2,95.3 415.6,94.5 415.9,93.7 416.3,92.8 416.6,91.9 416.9,91.0 417.3,90.2 417.6,89.3 417.9,88.4 418.3,87.5 418.6,86.6 419.0,85.8 419.3,84.9 419.6,84.1 420.0,83.2 420.3,82.5 420.6,81.7 421.0,80.9 421.3,80.2 421.7,79.5 422.0,78.9 422.3,78.2 422.7,77.7 423.0,77.1 423.4,76.7 423.7,76.2 424.0,75.8 424.4,75.4 424.7,75.0 425.0,74.6 425.4,74.2 425.7,73.8 426.1,73.4 426.4,73.0 426.7,72.6 427.1,72.2 427.4,71.9 427.7,71.5 428.1,71.1 428.4,70.8 428.8,70.5 429.1,70.1 429.4,69.8 429.8,69.5 430.1,69.2 430.4,68.9 430.8,68.7 431.1,68.4 431.4,68.2 431.8,67.9 432.1,67.7 432.5,67.5 432.8,67.3 433.1,67.2 433.5,67.0 433.8,66.9 434.1,66.8 434.5,66.7 434.8,66.7 435.2,66.6 435.5,66.6 435.8,66.6 436.2,66.6 436.5,66.6 436.9,66.7 437.2,66.8 437.5,66.9 437.9,67.0 438.2,67.1 438.5,67.3 438.9,67.5 439.2,67.6 439.6,67.8 439.9,68.1 440.2,68.3 440.6,68.5 440.9,68.8 441.2,69.0 441.6,69.3 441.9,69.6 442.2,69.8 442.6,70.1 442.9,70.4 443.3,70.7 443.6,71.0 443.9,71.4 444.3,71.7 444.6,72.0 444.9,72.3 445.3,72.6 445.6,73.0 446.0,73.3 446.3,73.6 446.6,73.9 447.0,74.2 447.3,74.6 447.6,74.9 448.0,75.3 448.3,75.7 448.7,76.1 449.0,76.5 449.3,77.0 449.7,77.4 450.0,77.9 450.4,78.4 450.7,78.8 451.0,79.3 451.4,79.8 451.7,80.2 452.0,80.7 452.4,81.1 452.7,81.5 453.1,82.0 453.4,82.4 453.7,82.8 454.1,83.2 454.4,83.6 454.7,84.0 455.1,84.4 455.4,84.8 455.8,85.2 456.1,85.6 456.4,86.0 456.8,86.4 457.1,86.8 457.4,87.2 457.8,87.6 458.1,88.0 458.4,88.4 458.8,88.8 459.1,89.2 459.5,89.6 459.8,90.0 460.1,90.4 460.5,90.8 460.8,91.2 461.1,91.6 461.5,92.1 461.8,92.5 462.2,92.9 462.5,93.3 462.8,93.7 463.2,94.1 463.5,94.5 463.9,95.0 464.2,95.4 464.5,95.8 464.9,96.3 465.2,96.7 465.5,97.2 465.9,97.6 466.2,98.0 466.6,98.5 466.9,99.0 467.2,99.4 467.6,99.9 467.9,100.3 468.2,100.8 468.6,101.3 468.9,101.8 469.2,102.2 469.6,102.7 469.9,103.2 470.3,103.7 470.6,104.2 470.9,104.6 471.3,105.1 471.6,105.6 471.9,106.1 472.3,106.5 472.6,107.0 473.0,107.5 473.3,108.0 473.6,108.4 474.0,108.9 474.3,109.4 474.6,109.8 475.0,110.3 475.3,110.7 475.7,111.2 476.0,111.6 476.3,112.1 476.7,112.5 477.0,112.9 477.4,113.4 477.7,113.8 478.0,114.2 478.4,114.6 478.7,115.0 479.0,115.4 479.4,115.8 479.7,116.1 480.1,116.5 480.4,116.9 480.7,117.2 481.1,117.6 481.4,117.9 481.7,118.2 482.1,118.5 482.4,118.8 482.8,119.1 483.4,119.7 484.1,120.3 484.8,120.8 485.4,121.3 486.1,121.8 486.8,122.3 487.5,122.8 488.1,123.3 488.8,123.8 489.5,124.2 490.2,124.7 490.9,125.1 491.5,125.5 492.2,126.0 492.9,126.4 493.6,126.8 494.2,127.2 494.9,127.6 495.6,128.0 496.2,128.4 496.9,128.8 497.6,129.2 498.3,129.6 498.9,130.0 499.6,130.4 500.3,130.8 501.0,131.2 501.6,131.6 502.3,132.0 503.0,132.4 503.7,132.7 504.4,133.1 505.0,133.5 505.7,133.8 506.4,134.2 507.1,134.5 507.7,134.8 508.4,135.2 509.1,135.5 509.8,135.9 510.4,136.2 511.1,136.5 511.8,136.9 512.5,137.2 513.1,137.5 513.8,137.8 514.5,138.2 515.1,138.5 515.8,138.8 516.5,139.1 517.2,139.5 517.9,139.8 518.5,140.1 519.2,140.4 519.9,140.7 520.5,141.0 521.2,141.3 521.9,141.6 522.6,141.9 523.2,142.2 523.9,142.5 524.6,142.8 525.3,143.1 526.0,143.4 526.6,143.6 527.3,143.9 528.0,144.2 528.6,144.4 529.3,144.7 530.0,145.0 530.7,145.2 531.4,145.5 532.0,145.7 532.7,146.0 533.4,146.3 534.0,146.5 534.7,146.7 535.4,147.0 536.1,147.2 536.8,147.5 537.4,147.7 538.1,147.9 538.8,148.2 539.5,148.4 540.1,148.6 540.8,148.9 541.5,149.1 542.1,149.3 542.8,149.5 543.5,149.7 544.2,150.0 544.9,150.2 545.5,150.4 546.2,150.6 546.9,150.8 547.5,151.0 548.2,151.2 548.9,151.4 549.6,151.6 550.2,151.8 550.9,152.0 551.6,152.2 552.3,152.4 553.0,152.6 553.6,152.8 554.3,153.0 555.0,153.2 555.6,153.4 556.3,153.6 557.0,153.8 557.7,154.0 558.4,154.1 559.0,154.3 559.7,154.5 560.4,154.7 561.0,154.9 561.7,155.0 562.4,155.2 563.1,155.4 563.8,155.6 564.4,155.7 565.1,155.9 565.8,156.1 566.5,156.2 567.1,156.4 567.8,156.6 568.5,156.7 569.1,156.9 569.8,157.1 570.5,157.2 571.2,157.4 571.9,157.5 572.5,157.7 573.2,157.9 573.9,158.0 574.5,158.2 575.2,158.3 575.9,158.5 576.6,158.6 577.2,158.8 577.9,158.9 578.6,159.1 579.3,159.2 580.0,159.4 580.6,159.6 581.3,159.7 582.0,159.9 582.6,160.0 583.3,160.2 584.0,160.3 584.7,160.5 585.4,160.6 586.0,160.8 586.7,160.9 587.4,161.1 588.0,161.2 588.7,161.4 589.4,161.5 590.1,161.7 590.8,161.8 591.4,161.9 592.1,162.1 592.8,162.2 593.5,162.4 594.1,162.5 594.8,162.7 595.5,162.8 596.1,162.9 596.8,163.1 597.5,163.2 598.2,163.4 598.9,163.5 599.5,163.6 600.2,163.8 600.9,163.9 601.5,164.0 602.2,164.2 602.9,164.3 603.6,164.5 604.2,164.6 604.9,164.7 605.6,164.9 606.3,165.0 607.0,165.1 607.6,165.3 608.3,165.4 609.0,165.5 609.6,165.6 610.3,165.8 611.0,165.9 611.7,166.0 612.4,166.2 613.0,166.3 613.7,166.4 614.4,166.5 615.0,166.7 615.7,166.8 616.4,166.9 617.1,167.0 617.8,167.2 618.4,167.3 619.1,167.4 619.8,167.5 620.5,167.7 621.1,167.8 621.8,167.9 622.5,168.0 623.1,168.2 623.8,168.3 624.5,168.4 625.2,168.5 625.9,168.6 626.5,168.8 627.2,168.9 627.9,169.0 628.5,169.1 629.2,169.2 629.9,169.4 630.6,169.5 631.2,169.6 631.9,169.7 632.6,169.8 633.3,169.9 634.0,170.0 634.6,170.2 635.3,170.3 636.0,170.4 636.6,170.5 637.3,170.6 638.0,170.7 638.7,170.8 639.4,170.9 640.0,171.1 640.7,171.2 641.4,171.3 642.0,171.4 642.7,171.5 643.4,171.6 644.1,171.7 644.8,171.8 645.4,171.9 646.1,172.0 646.8,172.1 647.5,172.2 648.1,172.4 648.8,172.5 649.5,172.6 650.2,172.7 650.8,172.8 651.5,172.9" fill="none" stroke="#C55A11" stroke-width="1.4" stroke-linejoin="round"/>
<polyline points="381.5,215.5 381.8,214.2 382.2,212.9 382.5,211.7 382.9,210.4 383.2,209.1 383.5,207.9 383.9,206.7 384.2,205.4 384.5,204.2 384.9,203.0 385.2,201.8 385.6,200.6 385.9,199.4 386.2,198.3 386.6,197.1 386.9,196.0 387.2,194.8 387.6,193.7 387.9,192.5 388.2,191.4 388.6,190.2 388.9,189.0 389.3,187.9 389.6,186.7 389.9,185.5 390.3,184.4 390.6,183.2 390.9,182.0 391.3,180.9 391.6,179.7 392.0,178.5 392.3,177.4 392.6,176.2 393.0,175.1 393.3,173.9 393.6,172.8 394.0,171.6 394.3,170.5 394.7,169.4 395.0,168.2 395.3,167.1 395.7,166.0 396.0,164.9 396.4,163.8 396.7,162.8 397.0,161.7 397.4,160.6 397.7,159.5 398.0,158.5 398.4,157.4 398.7,156.3 399.1,155.3 399.4,154.2 399.7,153.1 400.1,152.1 400.4,151.0 400.7,150.0 401.1,148.9 401.4,147.8 401.8,146.7 402.1,145.7 402.4,144.6 402.8,143.5 403.1,142.4 403.4,141.3 403.8,140.2 404.1,139.1 404.4,138.1 404.8,137.0 405.1,136.0 405.5,135.0 405.8,134.0 406.1,133.0 406.5,132.0 406.8,131.1 407.1,130.1 407.5,129.2 407.8,128.2 408.2,127.3 408.5,126.4 408.8,125.5 409.2,124.6 409.5,123.7 409.9,122.8 410.2,121.9 410.5,121.0 410.9,120.2 411.2,119.3 411.5,118.4 411.9,117.6 412.2,116.7 412.6,115.9 412.9,115.1 413.2,114.2 413.6,113.4 413.9,112.6 414.2,111.8 414.6,111.0 414.9,110.2 415.2,109.4 415.6,108.6 415.9,107.8 416.3,107.0 416.6,106.2 416.9,105.4 417.3,104.7 417.6,103.9 417.9,103.1 418.3,102.4 418.6,101.6 419.0,100.9 419.3,100.2 419.6,99.5 420.0,98.8 420.3,98.1 420.6,97.5 421.0,96.9 421.3,96.2 421.7,95.6 422.0,95.0 422.3,94.4 422.7,93.8 423.0,93.2 423.4,92.6 423.7,92.0 424.0,91.5 424.4,90.9 424.7,90.4 425.0,89.9 425.4,89.4 425.7,88.9 426.1,88.5 426.4,88.1 426.7,87.7 427.1,87.4 427.4,87.1 427.7,86.8 428.1,86.5 428.4,86.2 428.8,85.9 429.1,85.6 429.4,85.3 429.8,85.0 430.1,84.7 430.4,84.5 430.8,84.2 431.1,83.9 431.4,83.7 431.8,83.4 432.1,83.2 432.5,83.0 432.8,82.8 433.1,82.6 433.5,82.4 433.8,82.2 434.1,82.0 434.5,81.8 434.8,81.7 435.2,81.6 435.5,81.5 435.8,81.4 436.2,81.3 436.5,81.2 436.9,81.2 437.2,81.1 437.5,81.1 437.9,81.1 438.2,81.1 438.5,81.2 438.9,81.3 439.2,81.4 439.6,81.5 439.9,81.6 440.2,81.7 440.6,81.9 440.9,82.1 441.2,82.3 441.6,82.5 441.9,82.7 442.2,82.9 442.6,83.1 442.9,83.4 443.3,83.6 443.6,83.9 443.9,84.1 444.3,84.4 444.6,84.7 444.9,85.0 445.3,85.3 445.6,85.5 446.0,85.8 446.3,86.1 446.6,86.4 447.0,86.7 447.3,86.9 447.6,87.3 448.0,87.6 448.3,87.9 448.7,88.3 449.0,88.7 449.3,89.2 449.7,89.6 450.0,90.0 450.4,90.5 450.7,90.9 451.0,91.4 451.4,91.8 451.7,92.2 452.0,92.7 452.4,93.1 452.7,93.5 453.1,93.8 453.4,94.2 453.7,94.6 454.1,95.0 454.4,95.4 454.7,95.7 455.1,96.1 455.4,96.5 455.8,96.9 456.1,97.2 456.4,97.6 456.8,98.0 457.1,98.4 457.4,98.7 457.8,99.1 458.1,99.5 458.4,99.8 458.8,100.2 459.1,100.6 459.5,100.9 459.8,101.3 460.1,101.7 460.5,102.0 460.8,102.4 461.1,102.8 461.5,103.1 461.8,103.5 462.2,103.9 462.5,104.3 462.8,104.6 463.2,105.0 463.5,105.4 463.9,105.8 464.2,106.1 464.5,106.5 464.9,106.9 465.2,107.3 465.5,107.7 465.9,108.1 466.2,108.5 466.6,108.9 466.9,109.3 467.2,109.7 467.6,110.1 467.9,110.5 468.2,110.9 468.6,111.3 468.9,111.7 469.2,112.1 469.6,112.5 469.9,112.9 470.3,113.3 470.6,113.8 470.9,114.2 471.3,114.6 471.6,115.0 471.9,115.4 472.3,115.8 472.6,116.2 473.0,116.6 473.3,117.0 473.6,117.4 474.0,117.8 474.3,118.2 474.6,118.6 475.0,119.0 475.3,119.4 475.7,119.8 476.0,120.2 476.3,120.6 476.7,120.9 477.0,121.3 477.4,121.7 477.7,122.0 478.0,122.4 478.4,122.7 478.7,123.1 479.0,123.4 479.4,123.8 479.7,124.1 480.1,124.4 480.4,124.7 480.7,125.1 481.1,125.4 481.4,125.7 481.7,125.9 482.1,126.2 482.4,126.5 482.8,126.8 483.4,127.3 484.1,127.8 484.8,128.3 485.4,128.8 486.1,129.2 486.8,129.7 487.5,130.1 488.1,130.6 488.8,131.0 489.5,131.5 490.2,131.9 490.9,132.3 491.5,132.7 492.2,133.1 492.9,133.5 493.6,133.9 494.2,134.3 494.9,134.7 495.6,135.0 496.2,135.4 496.9,135.8 497.6,136.2 498.3,136.6 498.9,136.9 499.6,137.3 500.3,137.7 501.0,138.1 501.6,138.4 502.3,138.8 503.0,139.2 503.7,139.5 504.4,139.9 505.0,140.2 505.7,140.6 506.4,140.9 507.1,141.2 507.7,141.6 508.4,141.9 509.1,142.2 509.8,142.5 510.4,142.8 511.1,143.2 511.8,143.5 512.5,143.8 513.1,144.1 513.8,144.4 514.5,144.7 515.1,145.0 515.8,145.3 516.5,145.6 517.2,145.9 517.9,146.2 518.5,146.5 519.2,146.8 519.9,147.1 520.5,147.4 521.2,147.6 521.9,147.9 522.6,148.2 523.2,148.4 523.9,148.7 524.6,149.0 525.3,149.2 526.0,149.5 526.6,149.7 527.3,150.0 528.0,150.2 528.6,150.5 529.3,150.7 530.0,151.0 530.7,151.2 531.4,151.4 532.0,151.7 532.7,151.9 533.4,152.1 534.0,152.3 534.7,152.6 535.4,152.8 536.1,153.0 536.8,153.2 537.4,153.4 538.1,153.7 538.8,153.9 539.5,154.1 540.1,154.3 540.8,154.5 541.5,154.7 542.1,154.9 542.8,155.1 543.5,155.3 544.2,155.5 544.9,155.7 545.5,156.0 546.2,156.2 546.9,156.4 547.5,156.6 548.2,156.8 548.9,157.0 549.6,157.2 550.2,157.4 550.9,157.6 551.6,157.8 552.3,158.0 553.0,158.2 553.6,158.4 554.3,158.6 555.0,158.8 555.6,159.0 556.3,159.2 557.0,159.3 557.7,159.5 558.4,159.7 559.0,159.9 559.7,160.1 560.4,160.3 561.0,160.5 561.7,160.7 562.4,160.9 563.1,161.1 563.8,161.2 564.4,161.4 565.1,161.6 565.8,161.8 566.5,162.0 567.1,162.1 567.8,162.3 568.5,162.5 569.1,162.7 569.8,162.8 570.5,163.0 571.2,163.2 571.9,163.4 572.5,163.5 573.2,163.7 573.9,163.9 574.5,164.0 575.2,164.2 575.9,164.4 576.6,164.5 577.2,164.7 577.9,164.9 578.6,165.0 579.3,165.2 580.0,165.3 580.6,165.5 581.3,165.6 582.0,165.8 582.6,165.9 583.3,166.1 584.0,166.2 584.7,166.4 585.4,166.5 586.0,166.7 586.7,166.8 587.4,167.0 588.0,167.1 588.7,167.3 589.4,167.4 590.1,167.6 590.8,167.7 591.4,167.8 592.1,168.0 592.8,168.1 593.5,168.3 594.1,168.4 594.8,168.5 595.5,168.7 596.1,168.8 596.8,168.9 597.5,169.1 598.2,169.2 598.9,169.3 599.5,169.5 600.2,169.6 600.9,169.7 601.5,169.9 602.2,170.0 602.9,170.1 603.6,170.2 604.2,170.4 604.9,170.5 605.6,170.6 606.3,170.7 607.0,170.9 607.6,171.0 608.3,171.1 609.0,171.2 609.6,171.3 610.3,171.4 611.0,171.6 611.7,171.7 612.4,171.8 613.0,171.9 613.7,172.0 614.4,172.1 615.0,172.2 615.7,172.3 616.4,172.4 617.1,172.5 617.8,172.6 618.4,172.7 619.1,172.8 619.8,172.9 620.5,173.0 621.1,173.1 621.8,173.2 622.5,173.3 623.1,173.4 623.8,173.5 624.5,173.6 625.2,173.7 625.9,173.8 626.5,173.9 627.2,174.0 627.9,174.1 628.5,174.1 629.2,174.2 629.9,174.3 630.6,174.4 631.2,174.5 631.9,174.6 632.6,174.7 633.3,174.8 634.0,174.9 634.6,174.9 635.3,175.0 636.0,175.1 636.6,175.2 637.3,175.3 638.0,175.3 638.7,175.4 639.4,175.5 640.0,175.6 640.7,175.7 641.4,175.7 642.0,175.8 642.7,175.9 643.4,176.0 644.1,176.0 644.8,176.1 645.4,176.2 646.1,176.2 646.8,176.3 647.5,176.4 648.1,176.4 648.8,176.5 649.5,176.6 650.2,176.6 650.8,176.7 651.5,176.7" fill="none" stroke="#9DC3E6" stroke-width="1.4" stroke-linejoin="round"/>
<polyline points="381.5,215.5 381.8,213.6 382.2,211.6 382.5,209.7 382.9,207.8 383.2,205.9 383.5,204.1 383.9,202.2 384.2,200.4 384.5,198.5 384.9,196.7 385.2,195.0 385.6,193.2 385.9,191.5 386.2,189.7 386.6,188.0 386.9,186.3 387.2,184.6 387.6,182.9 387.9,181.2 388.2,179.5 388.6,177.8 388.9,176.0 389.3,174.3 389.6,172.6 389.9,170.8 390.3,169.1 390.6,167.3 390.9,165.6 391.3,163.9 391.6,162.1 392.0,160.4 392.3,158.7 392.6,157.0 393.0,155.3 393.3,153.5 393.6,151.8 394.0,150.2 394.3,148.5 394.7,146.8 395.0,145.1 395.3,143.5 395.7,141.9 396.0,140.2 396.4,138.6 396.7,136.9 397.0,135.3 397.4,133.7 397.7,132.1 398.0,130.5 398.4,128.9 398.7,127.3 399.1,125.7 399.4,124.1 399.7,122.6 400.1,121.0 400.4,119.4 400.7,117.9 401.1,116.3 401.4,114.8 401.8,113.3 402.1,111.7 402.4,110.2 402.8,108.6 403.1,107.1 403.4,105.6 403.8,104.1 404.1,102.6 404.4,101.2 404.8,99.8 405.1,98.4 405.5,97.1 405.8,95.9 406.1,94.7 406.5,93.5 406.8,92.3 407.1,91.1 407.5,90.0 407.8,88.9 408.2,87.8 408.5,86.7 408.8,85.6 409.2,84.5 409.5,83.5 409.9,82.4 410.2,81.3 410.5,80.3 410.9,79.2 411.2,78.2 411.5,77.1 411.9,76.1 412.2,75.1 412.6,74.0 412.9,73.0 413.2,72.0 413.6,71.0 413.9,70.0 414.2,69.1 414.6,68.1 414.9,67.2 415.2,66.3 415.6,65.4 415.9,64.5 416.3,63.6 416.6,62.7 416.9,61.9 417.3,61.1 417.6,60.3 417.9,59.5 418.3,58.7 418.6,57.9 419.0,57.1 419.3,56.3 419.6,55.5 420.0,54.7 420.3,54.0 420.6,53.2 421.0,52.5 421.3,51.7 421.7,51.0 422.0,50.3 422.3,49.7 422.7,49.0 423.0,48.4 423.4,47.8 423.7,47.2 424.0,46.7 424.4,46.1 424.7,45.7 425.0,45.2 425.4,44.8 425.7,44.4 426.1,44.0 426.4,43.5 426.7,43.1 427.1,42.7 427.4,42.3 427.7,41.9 428.1,41.5 428.4,41.1 428.8,40.8 429.1,40.4 429.4,40.1 429.8,39.7 430.1,39.4 430.4,39.1 430.8,38.9 431.1,38.6 431.4,38.4 431.8,38.2 432.1,38.0 432.5,37.9 432.8,37.8 433.1,37.7 433.5,37.7 433.8,37.6 434.1,37.7 434.5,37.7 434.8,37.8 435.2,37.9 435.5,38.0 435.8,38.1 436.2,38.3 436.5,38.5 436.9,38.7 437.2,38.9 437.5,39.2 437.9,39.4 438.2,39.7 438.5,40.0 438.9,40.3 439.2,40.6 439.6,40.9 439.9,41.3 440.2,41.6 440.6,42.0 440.9,42.4 441.2,42.8 441.6,43.1 441.9,43.5 442.2,43.9 442.6,44.3 442.9,44.7 443.3,45.2 443.6,45.6 443.9,46.0 444.3,46.4 444.6,46.8 444.9,47.2 445.3,47.6 445.6,48.0 446.0,48.4 446.3,48.8 446.6,49.2 447.0,49.6 447.3,50.0 447.6,50.3 448.0,50.7 448.3,51.1 448.7,51.5 449.0,51.9 449.3,52.3 449.7,52.8 450.0,53.2 450.4,53.7 450.7,54.1 451.0,54.6 451.4,55.1 451.7,55.5 452.0,56.0 452.4,56.5 452.7,57.0 453.1,57.5 453.4,58.0 453.7,58.6 454.1,59.1 454.4,59.6 454.7,60.1 455.1,60.7 455.4,61.2 455.8,61.8 456.1,62.3 456.4,62.9 456.8,63.4 457.1,63.9 457.4,64.5 457.8,65.1 458.1,65.6 458.4,66.2 458.8,66.7 459.1,67.3 459.5,67.8 459.8,68.4 460.1,68.9 460.5,69.4 460.8,70.0 461.1,70.5 461.5,71.1 461.8,71.6 462.2,72.1 462.5,72.6 462.8,73.2 463.2,73.7 463.5,74.2 463.9,74.7 464.2,75.2 464.5,75.8 464.9,76.3 465.2,76.8 465.5,77.3 465.9,77.9 466.2,78.4 466.6,78.9 466.9,79.5 467.2,80.0 467.6,80.6 467.9,81.1 468.2,81.7 468.6,82.2 468.9,82.8 469.2,83.4 469.6,83.9 469.9,84.5 470.3,85.1 470.6,85.6 470.9,86.2 471.3,86.7 471.6,87.3 471.9,87.8 472.3,88.4 472.6,89.0 473.0,89.5 473.3,90.1 473.6,90.6 474.0,91.1 474.3,91.7 474.6,92.2 475.0,92.7 475.3,93.3 475.7,93.8 476.0,94.3 476.3,94.8 476.7,95.3 477.0,95.8 477.4,96.3 477.7,96.8 478.0,97.3 478.4,97.7 478.7,98.2 479.0,98.6 479.4,99.1 479.7,99.5 480.1,99.9 480.4,100.4 480.7,100.8 481.1,101.2 481.4,101.6 481.7,101.9 482.1,102.3 482.4,102.7 482.8,103.0 483.4,103.7 484.1,104.3 484.8,105.0 485.4,105.6 486.1,106.2 486.8,106.7 487.5,107.3 488.1,107.9 488.8,108.4 489.5,108.9 490.2,109.5 490.9,110.0 491.5,110.5 492.2,111.0 492.9,111.5 493.6,112.0 494.2,112.4 494.9,112.9 495.6,113.4 496.2,113.9 496.9,114.3 497.6,114.8 498.3,115.2 498.9,115.7 499.6,116.2 500.3,116.6 501.0,117.1 501.6,117.5 502.3,118.0 503.0,118.4 503.7,118.8 504.4,119.3 505.0,119.7 505.7,120.1 506.4,120.5 507.1,120.9 507.7,121.3 508.4,121.7 509.1,122.1 509.8,122.5 510.4,122.9 511.1,123.3 511.8,123.7 512.5,124.1 513.1,124.5 513.8,124.8 514.5,125.2 515.1,125.6 515.8,126.0 516.5,126.4 517.2,126.8 517.9,127.2 518.5,127.5 519.2,127.9 519.9,128.3 520.5,128.7 521.2,129.0 521.9,129.4 522.6,129.7 523.2,130.1 523.9,130.4 524.6,130.8 525.3,131.1 526.0,131.5 526.6,131.8 527.3,132.2 528.0,132.5 528.6,132.8 529.3,133.2 530.0,133.5 530.7,133.8 531.4,134.1 532.0,134.4 532.7,134.7 533.4,135.0 534.0,135.4 534.7,135.7 535.4,136.0 536.1,136.2 536.8,136.5 537.4,136.8 538.1,137.1 538.8,137.4 539.5,137.7 540.1,138.0 540.8,138.2 541.5,138.5 542.1,138.8 542.8,139.0 543.5,139.3 544.2,139.6 544.9,139.8 545.5,140.1 546.2,140.3 546.9,140.6 547.5,140.8 548.2,141.1 548.9,141.3 549.6,141.5 550.2,141.8 550.9,142.0 551.6,142.2 552.3,142.5 553.0,142.7 553.6,142.9 554.3,143.1 555.0,143.3 555.6,143.5 556.3,143.8 557.0,144.0 557.7,144.2 558.4,144.4 559.0,144.6 559.7,144.8 560.4,145.0 561.0,145.2 561.7,145.4 562.4,145.6 563.1,145.7 563.8,145.9 564.4,146.1 565.1,146.3 565.8,146.5 566.5,146.7 567.1,146.9 567.8,147.0 568.5,147.2 569.1,147.4 569.8,147.6 570.5,147.7 571.2,147.9 571.9,148.1 572.5,148.3 573.2,148.4 573.9,148.6 574.5,148.8 575.2,149.0 575.9,149.1 576.6,149.3 577.2,149.5 577.9,149.6 578.6,149.8 579.3,150.0 580.0,150.1 580.6,150.3 581.3,150.5 582.0,150.6 582.6,150.8 583.3,151.0 584.0,151.1 584.7,151.3 585.4,151.5 586.0,151.7 586.7,151.8 587.4,152.0 588.0,152.1 588.7,152.3 589.4,152.5 590.1,152.6 590.8,152.8 591.4,153.0 592.1,153.1 592.8,153.3 593.5,153.4 594.1,153.6 594.8,153.8 595.5,153.9 596.1,154.1 596.8,154.2 597.5,154.4 598.2,154.5 598.9,154.7 599.5,154.8 600.2,155.0 600.9,155.2 601.5,155.3 602.2,155.5 602.9,155.6 603.6,155.8 604.2,155.9 604.9,156.1 605.6,156.2 606.3,156.4 607.0,156.5 607.6,156.7 608.3,156.8 609.0,157.0 609.6,157.1 610.3,157.2 611.0,157.4 611.7,157.5 612.4,157.7 613.0,157.8 613.7,158.0 614.4,158.1 615.0,158.3 615.7,158.4 616.4,158.6 617.1,158.7 617.8,158.8 618.4,159.0 619.1,159.1 619.8,159.3 620.5,159.4 621.1,159.6 621.8,159.7 622.5,159.8 623.1,160.0 623.8,160.1 624.5,160.3 625.2,160.4 625.9,160.5 626.5,160.7 627.2,160.8 627.9,161.0 628.5,161.1 629.2,161.2 629.9,161.4 630.6,161.5 631.2,161.7 631.9,161.8 632.6,161.9 633.3,162.1 634.0,162.2 634.6,162.3 635.3,162.5 636.0,162.6 636.6,162.7 637.3,162.9 638.0,163.0 638.7,163.1 639.4,163.3 640.0,163.4 640.7,163.5 641.4,163.7 642.0,163.8 642.7,163.9 643.4,164.1 644.1,164.2 644.8,164.3 645.4,164.4 646.1,164.6 646.8,164.7 647.5,164.8 648.1,165.0 648.8,165.1 649.5,165.2 650.2,165.3 650.8,165.5 651.5,165.6" fill="none" stroke="#FFD04A" stroke-width="1.4" stroke-linejoin="round"/>
<path d="M383.4 206.0h3M386.8 197.2h3M390.1 188.3h3M393.5 179.6h3M396.9 171.4h3M400.2 163.3h3M403.6 155.0h3M407.0 147.2h3M410.4 139.4h3M413.8 132.3h3M417.1 126.1h3M420.5 120.7h3M423.9 115.9h3M427.2 112.2h3M430.6 109.3h3M434.0 107.4h3M437.4 106.5h3M440.8 106.6h3M444.1 107.7h3M447.5 109.9h3M450.9 112.9h3M454.2 115.9h3M457.6 119.1h3M461.0 122.4h3M464.4 125.8h3M467.8 129.3h3M471.1 132.8h3M474.5 136.2h3M477.9 139.5h3M481.2 142.2h3M383.4 203.5h3M386.8 192.3h3M390.1 181.1h3M393.5 170.0h3M396.9 159.6h3M400.2 149.4h3M403.6 139.0h3M407.0 129.8h3M410.4 121.3h3M413.8 113.4h3M417.1 106.0h3M420.5 99.6h3M423.9 94.2h3M427.2 90.8h3M430.6 88.2h3M434.0 86.5h3M437.4 86.4h3M440.8 87.9h3M444.1 90.5h3M447.5 93.5h3M450.9 97.7h3M454.2 101.4h3M457.6 104.9h3M461.0 108.5h3M464.4 112.2h3M467.8 116.0h3M471.1 120.0h3M474.5 123.8h3M477.9 127.3h3M481.2 130.1h3M383.4 200.9h3M386.8 187.3h3M390.1 173.7h3M393.5 160.3h3M396.9 147.6h3M400.2 135.2h3M403.6 123.1h3M407.0 113.1h3M410.4 103.9h3M413.8 95.3h3M417.1 86.6h3M420.5 78.9h3M423.9 74.2h3M427.2 70.5h3M430.6 67.7h3M434.0 66.6h3M437.4 67.5h3M440.8 69.8h3M444.1 73.0h3M447.5 76.5h3M450.9 81.1h3M454.2 85.2h3M457.6 89.2h3M461.0 93.3h3M464.4 97.6h3M467.8 102.2h3M471.1 107.0h3M474.5 111.6h3M477.9 115.8h3M481.2 119.1h3M383.4 203.0h3M386.8 191.4h3M390.1 179.7h3M393.5 168.2h3M396.9 157.4h3M400.2 146.7h3M403.6 136.0h3M407.0 126.4h3M410.4 117.6h3M413.8 109.4h3M417.1 101.6h3M420.5 95.0h3M423.9 89.4h3M427.2 85.9h3M430.6 83.2h3M434.0 81.5h3M437.4 81.3h3M440.8 82.9h3M444.1 85.5h3M447.5 88.7h3M450.9 93.1h3M454.2 96.9h3M457.6 100.6h3M461.0 104.3h3M464.4 108.1h3M467.8 112.1h3M471.1 116.2h3M474.5 120.2h3M477.9 123.8h3M481.2 126.8h3M383.4 196.7h3M386.8 179.5h3M390.1 162.1h3M393.5 145.1h3M396.9 128.9h3M400.2 113.3h3M403.6 98.4h3M407.0 86.7h3M410.4 76.1h3M413.8 66.3h3M417.1 57.9h3M420.5 50.3h3M423.9 44.8h3M427.2 40.8h3M430.6 38.0h3M434.0 38.0h3M437.4 40.3h3M440.8 43.9h3M444.1 48.0h3M447.5 51.9h3M450.9 56.5h3M454.2 61.8h3M457.6 67.3h3M461.0 72.6h3M464.4 77.9h3M467.8 83.4h3M471.1 89.0h3M474.5 94.3h3M477.9 99.1h3M481.2 103.0h3" stroke="#222" stroke-opacity="0.62" stroke-width="1" fill="none"/>
<path d="M515.0 157.4h3M548.8 168.0h3M582.5 174.6h3M616.2 179.6h3M650.0 183.2h3M515.0 148.3h3M548.8 159.6h3M582.5 168.1h3M616.2 174.2h3M650.0 178.2h3M515.0 139.1h3M548.8 151.8h3M582.5 160.3h3M616.2 167.2h3M650.0 172.9h3M515.0 145.6h3M548.8 157.4h3M582.5 166.2h3M616.2 172.6h3M650.0 176.7h3M515.0 126.4h3M548.8 141.8h3M582.5 151.1h3M616.2 158.8h3M650.0 165.6h3" stroke="#222" stroke-opacity="0.25" stroke-width="1" fill="none"/>
<path d="M559.20 42.50H572.80" stroke="#70AD47" stroke-width="1.15"/>
<text x="574.60" y="45.30" class="l" textLength="68.1" lengthAdjust="spacingAndGlyphs">Ciliated/Pre-ciliated</text>
<path d="M559.20 63.30H572.80" stroke="#2F5597" stroke-width="1.15"/>
<text x="574.60" y="66.10" class="l" textLength="23.1" lengthAdjust="spacingAndGlyphs">Goblet</text>
<path d="M559.20 84.00H572.80" stroke="#C55A11" stroke-width="1.15"/>
<text x="574.60" y="86.80" class="l" textLength="17.6" lengthAdjust="spacingAndGlyphs">Basal</text>
<path d="M559.20 105.30H572.80" stroke="#9DC3E6" stroke-width="1.15"/>
<text x="574.60" y="108.10" class="l" textLength="33.2" lengthAdjust="spacingAndGlyphs">Secretory</text>
<path d="M559.20 126.00H572.80" stroke="#FFD04A" stroke-width="1.15"/>
<text x="574.60" y="128.80" class="l" textLength="47.5" lengthAdjust="spacingAndGlyphs">Indetermined</text>
<text transform="translate(354.80,161.50) rotate(-90)" x="0" y="0" class="yt" textLength="109.3" lengthAdjust="spacingAndGlyphs">Nucleus dose (Gy) / hit</text>
<text x="466.20" y="240.80" class="xt" textLength="89.9" lengthAdjust="spacingAndGlyphs">Alpha Energy (MeV)</text>
<text x="341.10" y="17.30" class="pl">(b)</text>
<path d="M49.20 282.20V464.40H319.20" stroke="#D9D9D9" stroke-width="1" fill="none"/>
<path d="M46.70 464.40H49.20M46.70 459.19H49.20M46.70 453.99H49.20M46.70 448.78H49.20M46.70 443.58H49.20M46.70 438.37H49.20M46.70 433.17H49.20M46.70 427.96H49.20M46.70 422.76H49.20M46.70 417.55H49.20M46.70 412.34H49.20M46.70 407.14H49.20M46.70 401.93H49.20M46.70 396.73H49.20M46.70 391.52H49.20M46.70 386.32H49.20M46.70 381.11H49.20M46.70 375.90H49.20M46.70 370.70H49.20M46.70 365.49H49.20M46.70 360.29H49.20M46.70 355.08H49.20M46.70 349.88H49.20M46.70 344.67H49.20M46.70 339.47H49.20M46.70 334.26H49.20M46.70 329.05H49.20M46.70 323.85H49.20M46.70 318.64H49.20M46.70 313.44H49.20M46.70 308.23H49.20M46.70 303.03H49.20M46.70 297.82H49.20M46.70 292.62H49.20M46.70 287.41H49.20M46.70 282.20H49.20M49.20 464.40V466.90M55.95 464.40V466.90M62.70 464.40V466.90M69.45 464.40V466.90M76.20 464.40V466.90M82.95 464.40V466.90M89.70 464.40V466.90M96.45 464.40V466.90M103.20 464.40V466.90M109.95 464.40V466.90M116.70 464.40V466.90M123.45 464.40V466.90M130.20 464.40V466.90M136.95 464.40V466.90M143.70 464.40V466.90M150.45 464.40V466.90M157.20 464.40V466.90M163.95 464.40V466.90M170.70 464.40V466.90M177.45 464.40V466.90M184.20 464.40V466.90M190.95 464.40V466.90M197.70 464.40V466.90M204.45 464.40V466.90M211.20 464.40V466.90M217.95 464.40V466.90M224.70 464.40V466.90M231.45 464.40V466.90M238.20 464.40V466.90M244.95 464.40V466.90M251.70 464.40V466.90M258.45 464.40V466.90M265.20 464.40V466.90M271.95 464.40V466.90M278.70 464.40V466.90M285.45 464.40V466.90M292.20 464.40V466.90M298.95 464.40V466.90M305.70 464.40V466.90M312.45 464.40V466.90M319.20 464.40V466.90" stroke="#D9D9D9" stroke-width="1" fill="none"/>
<text x="37.00" y="467.20" class="t" textLength="4.1" lengthAdjust="spacingAndGlyphs">0</text>
<text x="32.90" y="441.17" class="t" textLength="8.2" lengthAdjust="spacingAndGlyphs">20</text>
<text x="32.90" y="415.14" class="t" textLength="8.2" lengthAdjust="spacingAndGlyphs">40</text>
<text x="32.90" y="389.12" class="t" textLength="8.2" lengthAdjust="spacingAndGlyphs">60</text>
<text x="32.90" y="363.09" class="t" textLength="8.2" lengthAdjust="spacingAndGlyphs">80</text>
<text x="28.80" y="337.06" class="t" textLength="12.3" lengthAdjust="spacingAndGlyphs">100</text>
<text x="28.80" y="311.03" class="t" textLength="12.3" lengthAdjust="spacingAndGlyphs">120</text>
<text x="28.80" y="285.00" class="t" textLength="12.3" lengthAdjust="spacingAndGlyphs">140</text>
<text x="47.15" y="478.70" class="t" textLength="4.1" lengthAdjust="spacingAndGlyphs">0</text>
<text x="80.90" y="478.70" class="t" textLength="4.1" lengthAdjust="spacingAndGlyphs">1</text>
<text x="114.65" y="478.70" class="t" textLength="4.1" lengthAdjust="spacingAndGlyphs">2</text>
<text x="148.40" y="478.70" class="t" textLength="4.1" lengthAdjust="spacingAndGlyphs">3</text>
<text x="182.15" y="478.70" class="t" textLength="4.1" lengthAdjust="spacingAndGlyphs">4</text>
<text x="215.90" y="478.70" class="t" textLength="4.1" lengthAdjust="spacingAndGlyphs">5</text>
<text x="249.65" y="478.70" class="t" textLength="4.1" lengthAdjust="spacingAndGlyphs">6</text>
<text x="283.40" y="478.70" class="t" textLength="4.1" lengthAdjust="spacingAndGlyphs">7</text>
<text x="317.15" y="478.70" class="t" textLength="4.1" lengthAdjust="spacingAndGlyphs">8</text>
<polyline points="49.2,464.4 49.5,463.5 49.9,462.6 50.2,461.8 50.6,460.9 50.9,460.0 51.2,459.2 51.6,458.3 51.9,457.5 52.2,456.7 52.6,455.8 52.9,455.0 53.2,454.2 53.6,453.4 53.9,452.6 54.3,451.8 54.6,451.0 54.9,450.2 55.3,449.5 55.6,448.7 56.0,447.9 56.3,447.1 56.6,446.3 57.0,445.5 57.3,444.7 57.6,443.9 58.0,443.1 58.3,442.3 58.7,441.5 59.0,440.7 59.3,439.9 59.7,439.1 60.0,438.3 60.3,437.5 60.7,436.7 61.0,435.9 61.4,435.1 61.7,434.4 62.0,433.6 62.4,432.8 62.7,432.0 63.0,431.3 63.4,430.5 63.7,429.8 64.0,429.0 64.4,428.3 64.7,427.6 65.1,426.8 65.4,426.1 65.7,425.4 66.1,424.6 66.4,423.9 66.8,423.2 67.1,422.4 67.4,421.7 67.8,421.0 68.1,420.3 68.4,419.5 68.8,418.8 69.1,418.1 69.5,417.3 69.8,416.6 70.1,415.8 70.5,415.1 70.8,414.3 71.1,413.6 71.5,412.8 71.8,412.1 72.2,411.3 72.5,410.6 72.8,409.9 73.2,409.1 73.5,408.4 73.8,407.7 74.2,407.0 74.5,406.3 74.8,405.6 75.2,404.9 75.5,404.2 75.9,403.5 76.2,402.8 76.5,402.1 76.9,401.4 77.2,400.6 77.5,399.9 77.9,399.2 78.2,398.5 78.6,397.8 78.9,397.1 79.2,396.4 79.6,395.7 79.9,395.1 80.2,394.4 80.6,393.8 80.9,393.1 81.3,392.5 81.6,391.9 81.9,391.2 82.3,390.6 82.6,390.0 83.0,389.4 83.3,388.8 83.6,388.2 84.0,387.6 84.3,387.0 84.6,386.4 85.0,385.9 85.3,385.3 85.7,384.8 86.0,384.3 86.3,383.7 86.7,383.2 87.0,382.7 87.3,382.2 87.7,381.8 88.0,381.3 88.3,380.8 88.7,380.3 89.0,379.8 89.4,379.4 89.7,378.9 90.0,378.4 90.4,378.0 90.7,377.5 91.1,377.1 91.4,376.6 91.7,376.2 92.1,375.8 92.4,375.4 92.7,375.0 93.1,374.6 93.4,374.2 93.8,373.8 94.1,373.4 94.4,373.1 94.8,372.7 95.1,372.4 95.4,372.1 95.8,371.8 96.1,371.5 96.5,371.2 96.8,370.9 97.1,370.6 97.5,370.4 97.8,370.1 98.1,369.8 98.5,369.6 98.8,369.3 99.2,369.1 99.5,368.8 99.8,368.6 100.2,368.4 100.5,368.2 100.8,368.0 101.2,367.8 101.5,367.6 101.8,367.4 102.2,367.3 102.5,367.1 102.9,367.0 103.2,366.9 103.5,366.8 103.9,366.7 104.2,366.6 104.6,366.5 104.9,366.4 105.2,366.3 105.6,366.2 105.9,366.2 106.2,366.1 106.6,366.0 106.9,366.0 107.2,366.0 107.6,366.0 107.9,366.0 108.3,366.0 108.6,366.0 108.9,366.0 109.3,366.1 109.6,366.1 110.0,366.2 110.3,366.3 110.6,366.3 111.0,366.4 111.3,366.5 111.6,366.6 112.0,366.7 112.3,366.8 112.7,366.9 113.0,367.0 113.3,367.2 113.7,367.3 114.0,367.4 114.3,367.6 114.7,367.8 115.0,367.9 115.4,368.2 115.7,368.4 116.0,368.6 116.4,368.9 116.7,369.1 117.0,369.4 117.4,369.6 117.7,369.9 118.0,370.2 118.4,370.5 118.7,370.8 119.1,371.0 119.4,371.3 119.7,371.6 120.1,371.8 120.4,372.1 120.8,372.4 121.1,372.6 121.4,372.9 121.8,373.2 122.1,373.4 122.4,373.7 122.8,374.0 123.1,374.3 123.5,374.5 123.8,374.8 124.1,375.1 124.5,375.4 124.8,375.7 125.1,376.0 125.5,376.3 125.8,376.5 126.2,376.8 126.5,377.1 126.8,377.4 127.2,377.7 127.5,378.0 127.8,378.3 128.2,378.6 128.5,378.9 128.8,379.2 129.2,379.5 129.5,379.8 129.9,380.1 130.2,380.4 130.5,380.7 130.9,381.0 131.2,381.3 131.6,381.6 131.9,381.9 132.2,382.2 132.6,382.5 132.9,382.8 133.2,383.1 133.6,383.5 133.9,383.8 134.2,384.1 134.6,384.4 134.9,384.7 135.3,385.0 135.6,385.4 135.9,385.7 136.3,386.0 136.6,386.3 136.9,386.7 137.3,387.0 137.6,387.3 138.0,387.6 138.3,388.0 138.6,388.3 139.0,388.6 139.3,388.9 139.7,389.3 140.0,389.6 140.3,389.9 140.7,390.2 141.0,390.6 141.3,390.9 141.7,391.2 142.0,391.5 142.4,391.8 142.7,392.2 143.0,392.5 143.4,392.8 143.7,393.1 144.0,393.5 144.4,393.8 144.7,394.1 145.1,394.4 145.4,394.7 145.7,395.1 146.1,395.4 146.4,395.7 146.7,396.0 147.1,396.3 147.4,396.5 147.8,396.8 148.1,397.1 148.4,397.4 148.8,397.6 149.1,397.9 149.4,398.1 149.8,398.4 150.1,398.6 150.4,398.8 151.1,399.2 151.8,399.7 152.5,400.1 153.2,400.5 153.8,400.9 154.5,401.3 155.2,401.6 155.9,402.0 156.5,402.4 157.2,402.7 157.9,403.1 158.6,403.5 159.2,403.8 159.9,404.2 160.6,404.5 161.2,404.9 161.9,405.2 162.6,405.6 163.3,405.9 163.9,406.2 164.6,406.6 165.3,406.9 166.0,407.2 166.7,407.6 167.3,407.9 168.0,408.3 168.7,408.6 169.4,408.9 170.0,409.2 170.7,409.6 171.4,409.9 172.1,410.2 172.7,410.5 173.4,410.8 174.1,411.1 174.8,411.4 175.4,411.7 176.1,412.0 176.8,412.3 177.4,412.6 178.1,412.9 178.8,413.2 179.5,413.5 180.1,413.8 180.8,414.1 181.5,414.4 182.2,414.7 182.9,415.0 183.5,415.2 184.2,415.5 184.9,415.8 185.6,416.1 186.2,416.4 186.9,416.6 187.6,416.9 188.2,417.2 188.9,417.5 189.6,417.7 190.3,418.0 190.9,418.3 191.6,418.5 192.3,418.8 193.0,419.0 193.7,419.3 194.3,419.5 195.0,419.8 195.7,420.0 196.4,420.3 197.0,420.5 197.7,420.8 198.4,421.0 199.1,421.3 199.7,421.5 200.4,421.7 201.1,422.0 201.8,422.2 202.4,422.4 203.1,422.6 203.8,422.9 204.4,423.1 205.1,423.3 205.8,423.5 206.5,423.7 207.1,423.9 207.8,424.2 208.5,424.4 209.2,424.6 209.9,424.8 210.5,425.0 211.2,425.2 211.9,425.4 212.6,425.6 213.2,425.8 213.9,426.0 214.6,426.2 215.2,426.4 215.9,426.6 216.6,426.7 217.3,426.9 217.9,427.1 218.6,427.3 219.3,427.5 220.0,427.6 220.6,427.8 221.3,428.0 222.0,428.2 222.7,428.3 223.4,428.5 224.0,428.7 224.7,428.9 225.4,429.0 226.1,429.2 226.7,429.4 227.4,429.5 228.1,429.7 228.8,429.8 229.4,430.0 230.1,430.2 230.8,430.3 231.4,430.5 232.1,430.6 232.8,430.8 233.5,430.9 234.2,431.1 234.8,431.2 235.5,431.4 236.2,431.5 236.9,431.7 237.5,431.8 238.2,432.0 238.9,432.1 239.6,432.3 240.2,432.4 240.9,432.5 241.6,432.7 242.2,432.8 242.9,433.0 243.6,433.1 244.3,433.2 245.0,433.4 245.6,433.5 246.3,433.6 247.0,433.8 247.6,433.9 248.3,434.0 249.0,434.1 249.7,434.3 250.4,434.4 251.0,434.5 251.7,434.6 252.4,434.8 253.1,434.9 253.7,435.0 254.4,435.1 255.1,435.3 255.8,435.4 256.4,435.5 257.1,435.6 257.8,435.7 258.4,435.8 259.1,436.0 259.8,436.1 260.5,436.2 261.2,436.3 261.8,436.4 262.5,436.5 263.2,436.6 263.8,436.7 264.5,436.8 265.2,436.9 265.9,437.1 266.6,437.2 267.2,437.3 267.9,437.4 268.6,437.5 269.2,437.6 269.9,437.7 270.6,437.8 271.3,437.9 271.9,438.0 272.6,438.1 273.3,438.2 274.0,438.3 274.6,438.4 275.3,438.5 276.0,438.6 276.7,438.7 277.4,438.8 278.0,438.9 278.7,438.9 279.4,439.0 280.1,439.1 280.7,439.2 281.4,439.3 282.1,439.4 282.8,439.5 283.4,439.6 284.1,439.7 284.8,439.8 285.4,439.8 286.1,439.9 286.8,440.0 287.5,440.1 288.1,440.2 288.8,440.3 289.5,440.4 290.2,440.4 290.9,440.5 291.5,440.6 292.2,440.7 292.9,440.8 293.6,440.9 294.2,440.9 294.9,441.0 295.6,441.1 296.2,441.2 296.9,441.3 297.6,441.3 298.3,441.4 298.9,441.5 299.6,441.6 300.3,441.6 301.0,441.7 301.7,441.8 302.3,441.9 303.0,441.9 303.7,442.0 304.4,442.1 305.0,442.2 305.7,442.2 306.4,442.3 307.1,442.4 307.7,442.5 308.4,442.5 309.1,442.6 309.8,442.7 310.4,442.7 311.1,442.8 311.8,442.9 312.4,442.9 313.1,443.0 313.8,443.1 314.5,443.1 315.2,443.2 315.8,443.3 316.5,443.3 317.2,443.4 317.9,443.5 318.5,443.5 319.2,443.6" fill="none" stroke="#70AD47" stroke-width="1.4" stroke-linejoin="round"/>
<polyline points="49.2,464.4 49.5,463.3 49.9,462.2 50.2,461.1 50.6,460.0 50.9,458.9 51.2,457.8 51.6,456.7 51.9,455.7 52.2,454.6 52.6,453.6 52.9,452.5 53.2,451.5 53.6,450.5 53.9,449.5 54.3,448.5 54.6,447.5 54.9,446.5 55.3,445.5 55.6,444.5 56.0,443.5 56.3,442.5 56.6,441.4 57.0,440.4 57.3,439.4 57.6,438.4 58.0,437.4 58.3,436.4 58.7,435.4 59.0,434.3 59.3,433.3 59.7,432.3 60.0,431.3 60.3,430.3 60.7,429.3 61.0,428.3 61.4,427.3 61.7,426.3 62.0,425.3 62.4,424.4 62.7,423.4 63.0,422.4 63.4,421.5 63.7,420.5 64.0,419.6 64.4,418.6 64.7,417.7 65.1,416.8 65.4,415.8 65.7,414.9 66.1,414.0 66.4,413.1 66.8,412.1 67.1,411.2 67.4,410.3 67.8,409.4 68.1,408.4 68.4,407.5 68.8,406.6 69.1,405.7 69.5,404.7 69.8,403.8 70.1,402.8 70.5,401.9 70.8,401.0 71.1,400.0 71.5,399.1 71.8,398.1 72.2,397.2 72.5,396.3 72.8,395.4 73.2,394.5 73.5,393.7 73.8,392.8 74.2,392.0 74.5,391.1 74.8,390.3 75.2,389.5 75.5,388.7 75.9,387.9 76.2,387.1 76.5,386.3 76.9,385.5 77.2,384.7 77.5,384.0 77.9,383.2 78.2,382.4 78.6,381.7 78.9,380.9 79.2,380.2 79.6,379.4 79.9,378.7 80.2,378.0 80.6,377.2 80.9,376.5 81.3,375.8 81.6,375.1 81.9,374.4 82.3,373.7 82.6,373.0 83.0,372.3 83.3,371.6 83.6,370.9 84.0,370.2 84.3,369.6 84.6,368.9 85.0,368.2 85.3,367.5 85.7,366.9 86.0,366.2 86.3,365.6 86.7,365.0 87.0,364.3 87.3,363.7 87.7,363.1 88.0,362.6 88.3,362.0 88.7,361.4 89.0,360.9 89.4,360.4 89.7,359.8 90.0,359.3 90.4,358.8 90.7,358.3 91.1,357.8 91.4,357.2 91.7,356.8 92.1,356.3 92.4,355.8 92.7,355.4 93.1,354.9 93.4,354.5 93.8,354.2 94.1,353.8 94.4,353.5 94.8,353.2 95.1,352.9 95.4,352.7 95.8,352.4 96.1,352.2 96.5,351.9 96.8,351.7 97.1,351.4 97.5,351.2 97.8,350.9 98.1,350.7 98.5,350.4 98.8,350.2 99.2,350.0 99.5,349.8 99.8,349.6 100.2,349.4 100.5,349.2 100.8,349.0 101.2,348.9 101.5,348.7 101.8,348.5 102.2,348.4 102.5,348.3 102.9,348.2 103.2,348.1 103.5,348.0 103.9,347.9 104.2,347.9 104.6,347.8 104.9,347.8 105.2,347.8 105.6,347.8 105.9,347.8 106.2,347.8 106.6,347.9 106.9,348.0 107.2,348.1 107.6,348.2 107.9,348.3 108.3,348.5 108.6,348.6 108.9,348.8 109.3,348.9 109.6,349.1 110.0,349.3 110.3,349.5 110.6,349.7 111.0,350.0 111.3,350.2 111.6,350.4 112.0,350.6 112.3,350.9 112.7,351.1 113.0,351.4 113.3,351.6 113.7,351.9 114.0,352.1 114.3,352.4 114.7,352.6 115.0,352.8 115.4,353.1 115.7,353.4 116.0,353.7 116.4,354.0 116.7,354.4 117.0,354.8 117.4,355.1 117.7,355.5 118.0,355.9 118.4,356.3 118.7,356.7 119.1,357.1 119.4,357.4 119.7,357.8 120.1,358.2 120.4,358.5 120.8,358.8 121.1,359.2 121.4,359.5 121.8,359.8 122.1,360.1 122.4,360.5 122.8,360.8 123.1,361.1 123.5,361.5 123.8,361.8 124.1,362.1 124.5,362.4 124.8,362.7 125.1,363.1 125.5,363.4 125.8,363.7 126.2,364.0 126.5,364.3 126.8,364.7 127.2,365.0 127.5,365.3 127.8,365.6 128.2,365.9 128.5,366.2 128.8,366.6 129.2,366.9 129.5,367.2 129.9,367.5 130.2,367.9 130.5,368.2 130.9,368.5 131.2,368.8 131.6,369.2 131.9,369.5 132.2,369.8 132.6,370.2 132.9,370.5 133.2,370.8 133.6,371.2 133.9,371.5 134.2,371.9 134.6,372.2 134.9,372.6 135.3,372.9 135.6,373.3 135.9,373.6 136.3,374.0 136.6,374.3 136.9,374.7 137.3,375.1 137.6,375.4 138.0,375.8 138.3,376.2 138.6,376.5 139.0,376.9 139.3,377.3 139.7,377.7 140.0,378.0 140.3,378.4 140.7,378.8 141.0,379.1 141.3,379.5 141.7,379.8 142.0,380.2 142.4,380.6 142.7,380.9 143.0,381.3 143.4,381.6 143.7,382.0 144.0,382.3 144.4,382.7 144.7,383.0 145.1,383.3 145.4,383.7 145.7,384.0 146.1,384.3 146.4,384.6 146.7,384.9 147.1,385.2 147.4,385.5 147.8,385.8 148.1,386.1 148.4,386.4 148.8,386.7 149.1,387.0 149.4,387.2 149.8,387.5 150.1,387.8 150.4,388.0 151.1,388.5 151.8,389.0 152.5,389.4 153.2,389.9 153.8,390.4 154.5,390.8 155.2,391.3 155.9,391.7 156.5,392.1 157.2,392.6 157.9,393.0 158.6,393.4 159.2,393.8 159.9,394.3 160.6,394.7 161.2,395.1 161.9,395.5 162.6,395.9 163.3,396.3 163.9,396.7 164.6,397.1 165.3,397.6 166.0,398.0 166.7,398.4 167.3,398.8 168.0,399.2 168.7,399.6 169.4,400.0 170.0,400.4 170.7,400.8 171.4,401.2 172.1,401.6 172.7,401.9 173.4,402.3 174.1,402.7 174.8,403.1 175.4,403.4 176.1,403.8 176.8,404.1 177.4,404.5 178.1,404.8 178.8,405.2 179.5,405.5 180.1,405.9 180.8,406.2 181.5,406.5 182.2,406.9 182.9,407.2 183.5,407.5 184.2,407.8 184.9,408.1 185.6,408.5 186.2,408.8 186.9,409.1 187.6,409.4 188.2,409.7 188.9,410.0 189.6,410.3 190.3,410.6 190.9,410.8 191.6,411.1 192.3,411.4 193.0,411.7 193.7,412.0 194.3,412.2 195.0,412.5 195.7,412.8 196.4,413.0 197.0,413.3 197.7,413.6 198.4,413.8 199.1,414.1 199.7,414.3 200.4,414.6 201.1,414.8 201.8,415.1 202.4,415.3 203.1,415.5 203.8,415.8 204.4,416.0 205.1,416.3 205.8,416.5 206.5,416.7 207.1,417.0 207.8,417.2 208.5,417.4 209.2,417.7 209.9,417.9 210.5,418.1 211.2,418.3 211.9,418.6 212.6,418.8 213.2,419.0 213.9,419.2 214.6,419.4 215.2,419.7 215.9,419.9 216.6,420.1 217.3,420.3 217.9,420.5 218.6,420.7 219.3,421.0 220.0,421.2 220.6,421.4 221.3,421.6 222.0,421.8 222.7,422.0 223.4,422.2 224.0,422.4 224.7,422.7 225.4,422.9 226.1,423.1 226.7,423.3 227.4,423.5 228.1,423.7 228.8,423.9 229.4,424.1 230.1,424.3 230.8,424.5 231.4,424.7 232.1,424.9 232.8,425.1 233.5,425.3 234.2,425.5 234.8,425.7 235.5,425.8 236.2,426.0 236.9,426.2 237.5,426.4 238.2,426.6 238.9,426.8 239.6,427.0 240.2,427.1 240.9,427.3 241.6,427.5 242.2,427.7 242.9,427.8 243.6,428.0 244.3,428.2 245.0,428.3 245.6,428.5 246.3,428.7 247.0,428.8 247.6,429.0 248.3,429.2 249.0,429.3 249.7,429.5 250.4,429.6 251.0,429.8 251.7,429.9 252.4,430.1 253.1,430.2 253.7,430.4 254.4,430.5 255.1,430.7 255.8,430.8 256.4,431.0 257.1,431.1 257.8,431.2 258.4,431.4 259.1,431.5 259.8,431.7 260.5,431.8 261.2,431.9 261.8,432.1 262.5,432.2 263.2,432.3 263.8,432.5 264.5,432.6 265.2,432.7 265.9,432.9 266.6,433.0 267.2,433.1 267.9,433.2 268.6,433.4 269.2,433.5 269.9,433.6 270.6,433.7 271.3,433.9 271.9,434.0 272.6,434.1 273.3,434.2 274.0,434.3 274.6,434.4 275.3,434.6 276.0,434.7 276.7,434.8 277.4,434.9 278.0,435.0 278.7,435.1 279.4,435.2 280.1,435.3 280.7,435.4 281.4,435.5 282.1,435.6 282.8,435.8 283.4,435.9 284.1,436.0 284.8,436.1 285.4,436.2 286.1,436.3 286.8,436.4 287.5,436.5 288.1,436.6 288.8,436.7 289.5,436.7 290.2,436.8 290.9,436.9 291.5,437.0 292.2,437.1 292.9,437.2 293.6,437.3 294.2,437.4 294.9,437.5 295.6,437.6 296.2,437.7 296.9,437.8 297.6,437.9 298.3,437.9 298.9,438.0 299.6,438.1 300.3,438.2 301.0,438.3 301.7,438.4 302.3,438.5 303.0,438.6 303.7,438.6 304.4,438.7 305.0,438.8 305.7,438.9 306.4,439.0 307.1,439.0 307.7,439.1 308.4,439.2 309.1,439.3 309.8,439.3 310.4,439.4 311.1,439.5 311.8,439.6 312.4,439.6 313.1,439.7 313.8,439.8 314.5,439.9 315.2,439.9 315.8,440.0 316.5,440.1 317.2,440.1 317.9,440.2 318.5,440.3 319.2,440.3" fill="none" stroke="#2F5597" stroke-width="1.4" stroke-linejoin="round"/>
<polyline points="49.2,464.4 49.5,463.0 49.9,461.7 50.2,460.4 50.6,459.0 50.9,457.7 51.2,456.4 51.6,455.1 51.9,453.8 52.2,452.5 52.6,451.2 52.9,450.0 53.2,448.7 53.6,447.5 53.9,446.3 54.3,445.0 54.6,443.8 54.9,442.6 55.3,441.4 55.6,440.2 56.0,439.0 56.3,437.8 56.6,436.5 57.0,435.3 57.3,434.1 57.6,432.8 58.0,431.6 58.3,430.4 58.7,429.1 59.0,427.9 59.3,426.7 59.7,425.5 60.0,424.2 60.3,423.0 60.7,421.8 61.0,420.6 61.4,419.4 61.7,418.2 62.0,417.0 62.4,415.8 62.7,414.6 63.0,413.4 63.4,412.3 63.7,411.1 64.0,410.0 64.4,408.8 64.7,407.7 65.1,406.5 65.4,405.4 65.7,404.3 66.1,403.1 66.4,402.0 66.8,400.9 67.1,399.8 67.4,398.6 67.8,397.5 68.1,396.4 68.4,395.3 68.8,394.2 69.1,393.1 69.5,392.0 69.8,390.8 70.1,389.7 70.5,388.6 70.8,387.5 71.1,386.3 71.5,385.2 71.8,384.1 72.2,383.1 72.5,382.0 72.8,381.0 73.2,380.1 73.5,379.1 73.8,378.2 74.2,377.3 74.5,376.4 74.8,375.5 75.2,374.6 75.5,373.7 75.9,372.9 76.2,372.0 76.5,371.2 76.9,370.3 77.2,369.5 77.5,368.6 77.9,367.8 78.2,367.0 78.6,366.2 78.9,365.3 79.2,364.5 79.6,363.7 79.9,362.9 80.2,362.1 80.6,361.4 80.9,360.6 81.3,359.8 81.6,359.0 81.9,358.3 82.3,357.5 82.6,356.8 83.0,356.0 83.3,355.3 83.6,354.5 84.0,353.7 84.3,352.9 84.6,352.1 85.0,351.3 85.3,350.5 85.7,349.7 86.0,348.9 86.3,348.1 86.7,347.4 87.0,346.6 87.3,345.8 87.7,345.1 88.0,344.4 88.3,343.7 88.7,343.0 89.0,342.4 89.4,341.7 89.7,341.1 90.0,340.6 90.4,340.1 90.7,339.6 91.1,339.2 91.4,338.8 91.7,338.4 92.1,338.0 92.4,337.6 92.7,337.3 93.1,336.9 93.4,336.6 93.8,336.2 94.1,335.9 94.4,335.5 94.8,335.2 95.1,334.8 95.4,334.5 95.8,334.2 96.1,333.9 96.5,333.6 96.8,333.3 97.1,333.0 97.5,332.7 97.8,332.4 98.1,332.2 98.5,331.9 98.8,331.7 99.2,331.5 99.5,331.3 99.8,331.1 100.2,330.9 100.5,330.8 100.8,330.6 101.2,330.5 101.5,330.4 101.8,330.3 102.2,330.2 102.5,330.1 102.9,330.1 103.2,330.1 103.5,330.1 103.9,330.1 104.2,330.1 104.6,330.2 104.9,330.2 105.2,330.3 105.6,330.4 105.9,330.6 106.2,330.7 106.6,330.9 106.9,331.0 107.2,331.2 107.6,331.4 107.9,331.6 108.3,331.8 108.6,332.0 108.9,332.3 109.3,332.5 109.6,332.8 110.0,333.0 110.3,333.3 110.6,333.5 111.0,333.8 111.3,334.1 111.6,334.4 112.0,334.7 112.3,335.0 112.7,335.2 113.0,335.5 113.3,335.8 113.7,336.1 114.0,336.4 114.3,336.7 114.7,337.0 115.0,337.3 115.4,337.6 115.7,337.9 116.0,338.3 116.4,338.6 116.7,339.0 117.0,339.4 117.4,339.8 117.7,340.3 118.0,340.7 118.4,341.1 118.7,341.5 119.1,342.0 119.4,342.4 119.7,342.8 120.1,343.2 120.4,343.6 120.8,343.9 121.1,344.3 121.4,344.7 121.8,345.1 122.1,345.4 122.4,345.8 122.8,346.2 123.1,346.5 123.5,346.9 123.8,347.3 124.1,347.6 124.5,348.0 124.8,348.3 125.1,348.7 125.5,349.1 125.8,349.4 126.2,349.8 126.5,350.1 126.8,350.5 127.2,350.9 127.5,351.2 127.8,351.6 128.2,351.9 128.5,352.3 128.8,352.7 129.2,353.0 129.5,353.4 129.9,353.8 130.2,354.2 130.5,354.5 130.9,354.9 131.2,355.3 131.6,355.7 131.9,356.1 132.2,356.5 132.6,356.8 132.9,357.2 133.2,357.6 133.6,358.0 133.9,358.5 134.2,358.9 134.6,359.3 134.9,359.7 135.3,360.1 135.6,360.5 135.9,361.0 136.3,361.4 136.6,361.8 136.9,362.3 137.3,362.7 137.6,363.2 138.0,363.6 138.3,364.0 138.6,364.5 139.0,364.9 139.3,365.4 139.7,365.8 140.0,366.3 140.3,366.7 140.7,367.2 141.0,367.6 141.3,368.0 141.7,368.5 142.0,368.9 142.4,369.3 142.7,369.8 143.0,370.2 143.4,370.6 143.7,371.0 144.0,371.4 144.4,371.8 144.7,372.3 145.1,372.7 145.4,373.0 145.7,373.4 146.1,373.8 146.4,374.2 146.7,374.6 147.1,374.9 147.4,375.3 147.8,375.6 148.1,376.0 148.4,376.3 148.8,376.6 149.1,377.0 149.4,377.3 149.8,377.6 150.1,377.9 150.4,378.2 151.1,378.7 151.8,379.3 152.5,379.8 153.2,380.3 153.8,380.8 154.5,381.3 155.2,381.8 155.9,382.3 156.5,382.8 157.2,383.3 157.9,383.8 158.6,384.3 159.2,384.7 159.9,385.2 160.6,385.7 161.2,386.1 161.9,386.6 162.6,387.0 163.3,387.5 163.9,387.9 164.6,388.4 165.3,388.8 166.0,389.3 166.7,389.7 167.3,390.2 168.0,390.6 168.7,391.1 169.4,391.5 170.0,392.0 170.7,392.4 171.4,392.8 172.1,393.2 172.7,393.6 173.4,394.1 174.1,394.5 174.8,394.9 175.4,395.3 176.1,395.7 176.8,396.1 177.4,396.4 178.1,396.8 178.8,397.2 179.5,397.6 180.1,398.0 180.8,398.3 181.5,398.7 182.2,399.1 182.9,399.4 183.5,399.8 184.2,400.1 184.9,400.5 185.6,400.9 186.2,401.2 186.9,401.6 187.6,401.9 188.2,402.2 188.9,402.6 189.6,402.9 190.3,403.2 190.9,403.6 191.6,403.9 192.3,404.2 193.0,404.5 193.7,404.8 194.3,405.1 195.0,405.4 195.7,405.7 196.4,406.1 197.0,406.4 197.7,406.6 198.4,406.9 199.1,407.2 199.7,407.5 200.4,407.8 201.1,408.1 201.8,408.4 202.4,408.6 203.1,408.9 203.8,409.2 204.4,409.5 205.1,409.7 205.8,410.0 206.5,410.3 207.1,410.5 207.8,410.8 208.5,411.1 209.2,411.3 209.9,411.6 210.5,411.8 211.2,412.1 211.9,412.3 212.6,412.6 213.2,412.8 213.9,413.0 214.6,413.3 215.2,413.5 215.9,413.8 216.6,414.0 217.3,414.2 217.9,414.5 218.6,414.7 219.3,414.9 220.0,415.2 220.6,415.4 221.3,415.6 222.0,415.8 222.7,416.1 223.4,416.3 224.0,416.5 224.7,416.7 225.4,416.9 226.1,417.1 226.7,417.4 227.4,417.6 228.1,417.8 228.8,418.0 229.4,418.2 230.1,418.4 230.8,418.6 231.4,418.8 232.1,419.0 232.8,419.2 233.5,419.4 234.2,419.6 234.8,419.8 235.5,420.0 236.2,420.2 236.9,420.4 237.5,420.6 238.2,420.7 238.9,420.9 239.6,421.1 240.2,421.3 240.9,421.5 241.6,421.7 242.2,421.8 242.9,422.0 243.6,422.2 244.3,422.4 245.0,422.6 245.6,422.7 246.3,422.9 247.0,423.1 247.6,423.3 248.3,423.4 249.0,423.6 249.7,423.8 250.4,423.9 251.0,424.1 251.7,424.3 252.4,424.4 253.1,424.6 253.7,424.7 254.4,424.9 255.1,425.1 255.8,425.2 256.4,425.4 257.1,425.5 257.8,425.7 258.4,425.8 259.1,426.0 259.8,426.1 260.5,426.3 261.2,426.4 261.8,426.6 262.5,426.7 263.2,426.9 263.8,427.0 264.5,427.2 265.2,427.3 265.9,427.5 266.6,427.6 267.2,427.8 267.9,427.9 268.6,428.0 269.2,428.2 269.9,428.3 270.6,428.4 271.3,428.6 271.9,428.7 272.6,428.9 273.3,429.0 274.0,429.1 274.6,429.3 275.3,429.4 276.0,429.5 276.7,429.7 277.4,429.8 278.0,429.9 278.7,430.0 279.4,430.2 280.1,430.3 280.7,430.4 281.4,430.6 282.1,430.7 282.8,430.8 283.4,430.9 284.1,431.1 284.8,431.2 285.4,431.3 286.1,431.4 286.8,431.6 287.5,431.7 288.1,431.8 288.8,431.9 289.5,432.1 290.2,432.2 290.9,432.3 291.5,432.4 292.2,432.5 292.9,432.7 293.6,432.8 294.2,432.9 294.9,433.0 295.6,433.1 296.2,433.2 296.9,433.4 297.6,433.5 298.3,433.6 298.9,433.7 299.6,433.8 300.3,433.9 301.0,434.0 301.7,434.2 302.3,434.3 303.0,434.4 303.7,434.5 304.4,434.6 305.0,434.7 305.7,434.8 306.4,434.9 307.1,435.0 307.7,435.1 308.4,435.3 309.1,435.4 309.8,435.5 310.4,435.6 311.1,435.7 311.8,435.8 312.4,435.9 313.1,436.0 313.8,436.1 314.5,436.2 315.2,436.3 315.8,436.4 316.5,436.5 317.2,436.6 317.9,436.7 318.5,436.8 319.2,436.9" fill="none" stroke="#C55A11" stroke-width="1.4" stroke-linejoin="round"/>
<polyline points="49.2,464.4 49.5,463.2 49.9,462.1 50.2,460.9 50.6,459.8 50.9,458.7 51.2,457.5 51.6,456.4 51.9,455.3 52.2,454.2 52.6,453.1 52.9,452.0 53.2,451.0 53.6,449.9 53.9,448.9 54.3,447.8 54.6,446.8 54.9,445.8 55.3,444.7 55.6,443.7 56.0,442.6 56.3,441.6 56.6,440.5 57.0,439.5 57.3,438.4 57.6,437.4 58.0,436.3 58.3,435.3 58.7,434.2 59.0,433.2 59.3,432.1 59.7,431.1 60.0,430.0 60.3,429.0 60.7,427.9 61.0,426.9 61.4,425.8 61.7,424.8 62.0,423.8 62.4,422.8 62.7,421.8 63.0,420.8 63.4,419.8 63.7,418.8 64.0,417.8 64.4,416.8 64.7,415.9 65.1,414.9 65.4,413.9 65.7,412.9 66.1,412.0 66.4,411.0 66.8,410.1 67.1,409.1 67.4,408.2 67.8,407.2 68.1,406.2 68.4,405.3 68.8,404.3 69.1,403.3 69.5,402.4 69.8,401.4 70.1,400.4 70.5,399.4 70.8,398.4 71.1,397.5 71.5,396.5 71.8,395.5 72.2,394.6 72.5,393.6 72.8,392.7 73.2,391.8 73.5,390.9 73.8,390.0 74.2,389.1 74.5,388.2 74.8,387.4 75.2,386.5 75.5,385.7 75.9,384.9 76.2,384.0 76.5,383.2 76.9,382.4 77.2,381.6 77.5,380.8 77.9,380.0 78.2,379.2 78.6,378.4 78.9,377.6 79.2,376.8 79.6,376.1 79.9,375.3 80.2,374.5 80.6,373.8 80.9,373.1 81.3,372.3 81.6,371.6 81.9,370.9 82.3,370.1 82.6,369.4 83.0,368.7 83.3,368.0 83.6,367.2 84.0,366.5 84.3,365.8 84.6,365.1 85.0,364.4 85.3,363.7 85.7,363.0 86.0,362.4 86.3,361.7 86.7,361.0 87.0,360.4 87.3,359.8 87.7,359.1 88.0,358.5 88.3,357.9 88.7,357.4 89.0,356.8 89.4,356.3 89.7,355.7 90.0,355.2 90.4,354.6 90.7,354.1 91.1,353.5 91.4,353.0 91.7,352.5 92.1,352.0 92.4,351.5 92.7,351.1 93.1,350.6 93.4,350.2 93.8,349.8 94.1,349.4 94.4,349.1 94.8,348.8 95.1,348.5 95.4,348.3 95.8,348.0 96.1,347.7 96.5,347.5 96.8,347.2 97.1,346.9 97.5,346.7 97.8,346.4 98.1,346.2 98.5,346.0 98.8,345.7 99.2,345.5 99.5,345.3 99.8,345.1 100.2,344.9 100.5,344.7 100.8,344.5 101.2,344.3 101.5,344.1 101.8,344.0 102.2,343.8 102.5,343.7 102.9,343.6 103.2,343.5 103.5,343.4 103.9,343.3 104.2,343.3 104.6,343.2 104.9,343.2 105.2,343.2 105.6,343.2 105.9,343.2 106.2,343.3 106.6,343.3 106.9,343.4 107.2,343.5 107.6,343.6 107.9,343.7 108.3,343.9 108.6,344.0 108.9,344.2 109.3,344.4 109.6,344.6 110.0,344.8 110.3,345.0 110.6,345.2 111.0,345.4 111.3,345.7 111.6,345.9 112.0,346.2 112.3,346.4 112.7,346.7 113.0,346.9 113.3,347.2 113.7,347.4 114.0,347.7 114.3,347.9 114.7,348.2 115.0,348.4 115.4,348.7 115.7,349.0 116.0,349.3 116.4,349.7 116.7,350.1 117.0,350.4 117.4,350.8 117.7,351.2 118.0,351.6 118.4,352.0 118.7,352.4 119.1,352.8 119.4,353.2 119.7,353.6 120.1,354.0 120.4,354.3 120.8,354.7 121.1,355.0 121.4,355.4 121.8,355.7 122.1,356.0 122.4,356.4 122.8,356.7 123.1,357.1 123.5,357.4 123.8,357.7 124.1,358.1 124.5,358.4 124.8,358.7 125.1,359.1 125.5,359.4 125.8,359.7 126.2,360.1 126.5,360.4 126.8,360.7 127.2,361.0 127.5,361.4 127.8,361.7 128.2,362.0 128.5,362.4 128.8,362.7 129.2,363.0 129.5,363.4 129.9,363.7 130.2,364.0 130.5,364.4 130.9,364.7 131.2,365.1 131.6,365.4 131.9,365.7 132.2,366.1 132.6,366.4 132.9,366.8 133.2,367.1 133.6,367.5 133.9,367.8 134.2,368.2 134.6,368.6 134.9,368.9 135.3,369.3 135.6,369.7 135.9,370.0 136.3,370.4 136.6,370.8 136.9,371.2 137.3,371.6 137.6,371.9 138.0,372.3 138.3,372.7 138.6,373.1 139.0,373.5 139.3,373.8 139.7,374.2 140.0,374.6 140.3,375.0 140.7,375.4 141.0,375.8 141.3,376.1 141.7,376.5 142.0,376.9 142.4,377.3 142.7,377.6 143.0,378.0 143.4,378.4 143.7,378.7 144.0,379.1 144.4,379.4 144.7,379.8 145.1,380.1 145.4,380.5 145.7,380.8 146.1,381.1 146.4,381.5 146.7,381.8 147.1,382.1 147.4,382.4 147.8,382.7 148.1,383.0 148.4,383.3 148.8,383.6 149.1,383.9 149.4,384.2 149.8,384.5 150.1,384.7 150.4,385.0 151.1,385.5 151.8,386.0 152.5,386.5 153.2,387.0 153.8,387.4 154.5,387.9 155.2,388.4 155.9,388.8 156.5,389.3 157.2,389.7 157.9,390.2 158.6,390.6 159.2,391.1 159.9,391.5 160.6,391.9 161.2,392.4 161.9,392.8 162.6,393.2 163.3,393.6 163.9,394.1 164.6,394.5 165.3,394.9 166.0,395.3 166.7,395.8 167.3,396.2 168.0,396.6 168.7,397.0 169.4,397.5 170.0,397.9 170.7,398.3 171.4,398.7 172.1,399.1 172.7,399.5 173.4,399.9 174.1,400.3 174.8,400.6 175.4,401.0 176.1,401.4 176.8,401.8 177.4,402.1 178.1,402.5 178.8,402.8 179.5,403.2 180.1,403.6 180.8,403.9 181.5,404.2 182.2,404.6 182.9,404.9 183.5,405.3 184.2,405.6 184.9,405.9 185.6,406.3 186.2,406.6 186.9,406.9 187.6,407.2 188.2,407.5 188.9,407.8 189.6,408.1 190.3,408.4 190.9,408.7 191.6,409.0 192.3,409.3 193.0,409.6 193.7,409.9 194.3,410.2 195.0,410.5 195.7,410.7 196.4,411.0 197.0,411.3 197.7,411.5 198.4,411.8 199.1,412.1 199.7,412.3 200.4,412.6 201.1,412.9 201.8,413.1 202.4,413.4 203.1,413.6 203.8,413.9 204.4,414.1 205.1,414.4 205.8,414.6 206.5,414.9 207.1,415.1 207.8,415.3 208.5,415.6 209.2,415.8 209.9,416.0 210.5,416.3 211.2,416.5 211.9,416.7 212.6,417.0 213.2,417.2 213.9,417.4 214.6,417.7 215.2,417.9 215.9,418.1 216.6,418.4 217.3,418.6 217.9,418.8 218.6,419.0 219.3,419.3 220.0,419.5 220.6,419.7 221.3,419.9 222.0,420.1 222.7,420.4 223.4,420.6 224.0,420.8 224.7,421.0 225.4,421.2 226.1,421.4 226.7,421.7 227.4,421.9 228.1,422.1 228.8,422.3 229.4,422.5 230.1,422.7 230.8,422.9 231.4,423.1 232.1,423.3 232.8,423.5 233.5,423.7 234.2,423.9 234.8,424.1 235.5,424.3 236.2,424.5 236.9,424.7 237.5,424.9 238.2,425.1 238.9,425.3 239.6,425.5 240.2,425.7 240.9,425.8 241.6,426.0 242.2,426.2 242.9,426.4 243.6,426.6 244.3,426.7 245.0,426.9 245.6,427.1 246.3,427.3 247.0,427.4 247.6,427.6 248.3,427.8 249.0,427.9 249.7,428.1 250.4,428.3 251.0,428.4 251.7,428.6 252.4,428.7 253.1,428.9 253.7,429.0 254.4,429.2 255.1,429.3 255.8,429.5 256.4,429.6 257.1,429.8 257.8,429.9 258.4,430.1 259.1,430.2 259.8,430.4 260.5,430.5 261.2,430.7 261.8,430.8 262.5,430.9 263.2,431.1 263.8,431.2 264.5,431.3 265.2,431.5 265.9,431.6 266.6,431.7 267.2,431.9 267.9,432.0 268.6,432.1 269.2,432.3 269.9,432.4 270.6,432.5 271.3,432.6 271.9,432.8 272.6,432.9 273.3,433.0 274.0,433.1 274.6,433.3 275.3,433.4 276.0,433.5 276.7,433.6 277.4,433.7 278.0,433.8 278.7,434.0 279.4,434.1 280.1,434.2 280.7,434.3 281.4,434.4 282.1,434.5 282.8,434.6 283.4,434.7 284.1,434.8 284.8,434.9 285.4,435.0 286.1,435.1 286.8,435.3 287.5,435.4 288.1,435.5 288.8,435.6 289.5,435.7 290.2,435.8 290.9,435.9 291.5,436.0 292.2,436.1 292.9,436.2 293.6,436.2 294.2,436.3 294.9,436.4 295.6,436.5 296.2,436.6 296.9,436.7 297.6,436.8 298.3,436.9 298.9,437.0 299.6,437.1 300.3,437.2 301.0,437.3 301.7,437.4 302.3,437.4 303.0,437.5 303.7,437.6 304.4,437.7 305.0,437.8 305.7,437.9 306.4,438.0 307.1,438.0 307.7,438.1 308.4,438.2 309.1,438.3 309.8,438.4 310.4,438.4 311.1,438.5 311.8,438.6 312.4,438.7 313.1,438.7 313.8,438.8 314.5,438.9 315.2,439.0 315.8,439.0 316.5,439.1 317.2,439.2 317.9,439.3 318.5,439.3 319.2,439.4" fill="none" stroke="#9DC3E6" stroke-width="1.4" stroke-linejoin="round"/>
<polyline points="49.2,464.4 49.5,462.6 49.9,460.9 50.2,459.2 50.6,457.5 50.9,455.8 51.2,454.1 51.6,452.4 51.9,450.7 52.2,449.1 52.6,447.5 52.9,445.9 53.2,444.3 53.6,442.7 53.9,441.2 54.3,439.6 54.6,438.1 54.9,436.5 55.3,435.0 55.6,433.5 56.0,431.9 56.3,430.4 56.6,428.8 57.0,427.2 57.3,425.7 57.6,424.1 58.0,422.5 58.3,421.0 58.7,419.4 59.0,417.8 59.3,416.3 59.7,414.7 60.0,413.2 60.3,411.6 60.7,410.1 61.0,408.5 61.4,407.0 61.7,405.5 62.0,403.9 62.4,402.4 62.7,400.9 63.0,399.4 63.4,398.0 63.7,396.5 64.0,395.0 64.4,393.5 64.7,392.1 65.1,390.6 65.4,389.2 65.7,387.7 66.1,386.3 66.4,384.8 66.8,383.4 67.1,382.0 67.4,380.6 67.8,379.1 68.1,377.7 68.4,376.3 68.8,374.9 69.1,373.5 69.5,372.2 69.8,370.8 70.1,369.4 70.5,368.0 70.8,366.6 71.1,365.2 71.5,363.9 71.8,362.5 72.2,361.3 72.5,360.0 72.8,358.8 73.2,357.6 73.5,356.5 73.8,355.4 74.2,354.3 74.5,353.3 74.8,352.2 75.2,351.2 75.5,350.2 75.9,349.2 76.2,348.2 76.5,347.2 76.9,346.3 77.2,345.3 77.5,344.3 77.9,343.4 78.2,342.4 78.6,341.5 78.9,340.5 79.2,339.6 79.6,338.6 79.9,337.7 80.2,336.8 80.6,335.9 80.9,335.0 81.3,334.1 81.6,333.2 81.9,332.3 82.3,331.5 82.6,330.6 83.0,329.8 83.3,329.0 83.6,328.2 84.0,327.4 84.3,326.6 84.6,325.9 85.0,325.1 85.3,324.4 85.7,323.7 86.0,322.9 86.3,322.2 86.7,321.5 87.0,320.8 87.3,320.1 87.7,319.4 88.0,318.7 88.3,318.0 88.7,317.3 89.0,316.7 89.4,316.0 89.7,315.4 90.0,314.8 90.4,314.2 90.7,313.7 91.1,313.1 91.4,312.6 91.7,312.1 92.1,311.6 92.4,311.2 92.7,310.8 93.1,310.4 93.4,310.0 93.8,309.7 94.1,309.3 94.4,308.9 94.8,308.5 95.1,308.2 95.4,307.8 95.8,307.5 96.1,307.1 96.5,306.8 96.8,306.5 97.1,306.2 97.5,305.9 97.8,305.6 98.1,305.3 98.5,305.1 98.8,304.8 99.2,304.6 99.5,304.5 99.8,304.3 100.2,304.2 100.5,304.1 100.8,304.0 101.2,304.0 101.5,304.0 101.8,304.0 102.2,304.0 102.5,304.1 102.9,304.2 103.2,304.3 103.5,304.4 103.9,304.6 104.2,304.7 104.6,304.9 104.9,305.1 105.2,305.3 105.6,305.6 105.9,305.8 106.2,306.1 106.6,306.4 106.9,306.6 107.2,306.9 107.6,307.2 107.9,307.6 108.3,307.9 108.6,308.2 108.9,308.6 109.3,308.9 109.6,309.3 110.0,309.6 110.3,310.0 110.6,310.4 111.0,310.7 111.3,311.1 111.6,311.5 112.0,311.8 112.3,312.2 112.7,312.6 113.0,313.0 113.3,313.3 113.7,313.7 114.0,314.0 114.3,314.4 114.7,314.7 115.0,315.1 115.4,315.4 115.7,315.8 116.0,316.1 116.4,316.5 116.7,316.8 117.0,317.2 117.4,317.6 117.7,318.0 118.0,318.4 118.4,318.8 118.7,319.3 119.1,319.7 119.4,320.1 119.7,320.6 120.1,321.0 120.4,321.4 120.8,321.9 121.1,322.4 121.4,322.8 121.8,323.3 122.1,323.8 122.4,324.3 122.8,324.7 123.1,325.2 123.5,325.7 123.8,326.2 124.1,326.7 124.5,327.2 124.8,327.7 125.1,328.2 125.5,328.7 125.8,329.2 126.2,329.7 126.5,330.2 126.8,330.7 127.2,331.2 127.5,331.7 127.8,332.2 128.2,332.6 128.5,333.1 128.8,333.6 129.2,334.1 129.5,334.6 129.9,335.1 130.2,335.5 130.5,336.0 130.9,336.5 131.2,336.9 131.6,337.4 131.9,337.9 132.2,338.3 132.6,338.8 132.9,339.3 133.2,339.8 133.6,340.2 133.9,340.7 134.2,341.2 134.6,341.7 134.9,342.2 135.3,342.7 135.6,343.2 135.9,343.7 136.3,344.2 136.6,344.7 136.9,345.3 137.3,345.8 137.6,346.3 138.0,346.8 138.3,347.3 138.6,347.9 139.0,348.4 139.3,348.9 139.7,349.4 140.0,349.9 140.3,350.4 140.7,351.0 141.0,351.5 141.3,352.0 141.7,352.5 142.0,353.0 142.4,353.5 142.7,354.0 143.0,354.5 143.4,355.0 143.7,355.4 144.0,355.9 144.4,356.4 144.7,356.9 145.1,357.3 145.4,357.8 145.7,358.2 146.1,358.7 146.4,359.1 146.7,359.6 147.1,360.0 147.4,360.4 147.8,360.8 148.1,361.2 148.4,361.6 148.8,362.0 149.1,362.3 149.4,362.7 149.8,363.0 150.1,363.4 150.4,363.7 151.1,364.4 151.8,365.0 152.5,365.6 153.2,366.2 153.8,366.8 154.5,367.4 155.2,368.0 155.9,368.6 156.5,369.2 157.2,369.7 157.9,370.3 158.6,370.8 159.2,371.4 159.9,371.9 160.6,372.5 161.2,373.0 161.9,373.5 162.6,374.1 163.3,374.6 163.9,375.1 164.6,375.6 165.3,376.2 166.0,376.7 166.7,377.2 167.3,377.7 168.0,378.3 168.7,378.8 169.4,379.3 170.0,379.8 170.7,380.3 171.4,380.8 172.1,381.3 172.7,381.8 173.4,382.2 174.1,382.7 174.8,383.2 175.4,383.7 176.1,384.1 176.8,384.6 177.4,385.0 178.1,385.5 178.8,385.9 179.5,386.4 180.1,386.8 180.8,387.3 181.5,387.7 182.2,388.1 182.9,388.6 183.5,389.0 184.2,389.4 184.9,389.8 185.6,390.3 186.2,390.7 186.9,391.1 187.6,391.5 188.2,391.9 188.9,392.3 189.6,392.7 190.3,393.1 190.9,393.5 191.6,393.9 192.3,394.3 193.0,394.6 193.7,395.0 194.3,395.4 195.0,395.8 195.7,396.1 196.4,396.5 197.0,396.9 197.7,397.2 198.4,397.6 199.1,397.9 199.7,398.3 200.4,398.6 201.1,399.0 201.8,399.3 202.4,399.7 203.1,400.0 203.8,400.3 204.4,400.6 205.1,401.0 205.8,401.3 206.5,401.6 207.1,401.9 207.8,402.2 208.5,402.5 209.2,402.9 209.9,403.2 210.5,403.5 211.2,403.8 211.9,404.0 212.6,404.3 213.2,404.6 213.9,404.9 214.6,405.2 215.2,405.5 215.9,405.8 216.6,406.0 217.3,406.3 217.9,406.6 218.6,406.8 219.3,407.1 220.0,407.4 220.6,407.6 221.3,407.9 222.0,408.1 222.7,408.4 223.4,408.6 224.0,408.9 224.7,409.1 225.4,409.4 226.1,409.6 226.7,409.8 227.4,410.1 228.1,410.3 228.8,410.6 229.4,410.8 230.1,411.0 230.8,411.2 231.4,411.5 232.1,411.7 232.8,411.9 233.5,412.1 234.2,412.4 234.8,412.6 235.5,412.8 236.2,413.0 236.9,413.2 237.5,413.4 238.2,413.7 238.9,413.9 239.6,414.1 240.2,414.3 240.9,414.5 241.6,414.7 242.2,414.9 242.9,415.1 243.6,415.3 244.3,415.5 245.0,415.7 245.6,415.9 246.3,416.1 247.0,416.3 247.6,416.5 248.3,416.7 249.0,416.8 249.7,417.0 250.4,417.2 251.0,417.4 251.7,417.6 252.4,417.8 253.1,418.0 253.7,418.1 254.4,418.3 255.1,418.5 255.8,418.7 256.4,418.9 257.1,419.0 257.8,419.2 258.4,419.4 259.1,419.6 259.8,419.7 260.5,419.9 261.2,420.1 261.8,420.2 262.5,420.4 263.2,420.6 263.8,420.7 264.5,420.9 265.2,421.1 265.9,421.2 266.6,421.4 267.2,421.5 267.9,421.7 268.6,421.9 269.2,422.0 269.9,422.2 270.6,422.3 271.3,422.5 271.9,422.6 272.6,422.8 273.3,422.9 274.0,423.1 274.6,423.2 275.3,423.4 276.0,423.6 276.7,423.7 277.4,423.9 278.0,424.0 278.7,424.1 279.4,424.3 280.1,424.4 280.7,424.6 281.4,424.7 282.1,424.9 282.8,425.0 283.4,425.2 284.1,425.3 284.8,425.5 285.4,425.6 286.1,425.8 286.8,425.9 287.5,426.0 288.1,426.2 288.8,426.3 289.5,426.5 290.2,426.6 290.9,426.8 291.5,426.9 292.2,427.0 292.9,427.2 293.6,427.3 294.2,427.5 294.9,427.6 295.6,427.7 296.2,427.9 296.9,428.0 297.6,428.1 298.3,428.3 298.9,428.4 299.6,428.5 300.3,428.7 301.0,428.8 301.7,428.9 302.3,429.1 303.0,429.2 303.7,429.3 304.4,429.5 305.0,429.6 305.7,429.7 306.4,429.8 307.1,430.0 307.7,430.1 308.4,430.2 309.1,430.4 309.8,430.5 310.4,430.6 311.1,430.7 311.8,430.9 312.4,431.0 313.1,431.1 313.8,431.2 314.5,431.4 315.2,431.5 315.8,431.6 316.5,431.7 317.2,431.8 317.9,432.0 318.5,432.1 319.2,432.2" fill="none" stroke="#FFD04A" stroke-width="1.4" stroke-linejoin="round"/>
<path d="M51.1 455.8h3M54.5 447.9h3M57.8 439.9h3M61.2 432.0h3M64.6 424.6h3M68.0 417.3h3M71.3 409.9h3M74.7 402.8h3M78.1 395.7h3M81.5 389.4h3M84.8 383.7h3M88.2 378.9h3M91.6 374.6h3M95.0 371.2h3M98.3 368.6h3M101.7 366.9h3M105.1 366.0h3M108.5 366.2h3M111.8 367.2h3M115.2 369.1h3M118.6 371.8h3M122.0 374.5h3M125.3 377.4h3M128.7 380.4h3M132.1 383.5h3M135.4 386.7h3M138.8 389.9h3M142.2 393.1h3M145.6 396.3h3M148.9 398.8h3M51.1 453.6h3M54.5 443.5h3M57.8 433.3h3M61.2 423.4h3M64.6 414.0h3M68.0 404.7h3M71.3 395.4h3M74.7 387.1h3M78.1 379.4h3M81.5 372.3h3M84.8 365.6h3M88.2 359.8h3M91.6 354.9h3M95.0 351.9h3M98.3 349.6h3M101.7 348.1h3M105.1 347.9h3M108.5 349.3h3M111.8 351.6h3M115.2 354.4h3M118.6 358.2h3M122.0 361.5h3M125.3 364.7h3M128.7 367.9h3M132.1 371.2h3M135.4 374.7h3M138.8 378.4h3M142.2 382.0h3M145.6 385.2h3M148.9 388.0h3M51.1 451.2h3M54.5 439.0h3M57.8 426.7h3M61.2 414.6h3M64.6 403.1h3M68.0 392.0h3M71.3 381.0h3M74.7 372.0h3M78.1 363.7h3M81.5 356.0h3M84.8 348.1h3M88.2 341.1h3M91.6 336.9h3M95.0 333.6h3M98.3 331.1h3M101.7 330.1h3M105.1 330.9h3M108.5 333.0h3M111.8 335.8h3M115.2 339.0h3M118.6 343.2h3M122.0 346.9h3M125.3 350.5h3M128.7 354.2h3M132.1 358.0h3M135.4 362.3h3M138.8 366.7h3M142.2 371.0h3M145.6 374.9h3M148.9 378.2h3M51.1 453.1h3M54.5 442.6h3M57.8 432.1h3M61.2 421.8h3M64.6 412.0h3M68.0 402.4h3M71.3 392.7h3M74.7 384.0h3M78.1 376.1h3M81.5 368.7h3M84.8 361.7h3M88.2 355.7h3M91.6 350.6h3M95.0 347.5h3M98.3 345.1h3M101.7 343.5h3M105.1 343.3h3M108.5 344.8h3M111.8 347.2h3M115.2 350.1h3M118.6 354.0h3M122.0 357.4h3M125.3 360.7h3M128.7 364.0h3M132.1 367.5h3M135.4 371.2h3M138.8 375.0h3M142.2 378.7h3M145.6 382.1h3M148.9 385.0h3M51.1 447.5h3M54.5 431.9h3M57.8 416.3h3M61.2 400.9h3M64.6 386.3h3M68.0 372.2h3M71.3 358.8h3M74.7 348.2h3M78.1 338.6h3M81.5 329.8h3M84.8 322.2h3M88.2 315.4h3M91.6 310.4h3M95.0 306.8h3M98.3 304.3h3M101.7 304.3h3M105.1 306.4h3M108.5 309.6h3M111.8 313.3h3M115.2 316.8h3M118.6 321.0h3M122.0 325.7h3M125.3 330.7h3M128.7 335.5h3M132.1 340.2h3M135.4 345.3h3M138.8 350.4h3M142.2 355.4h3M145.6 360.0h3M148.9 363.7h3" stroke="#222" stroke-opacity="0.62" stroke-width="1" fill="none"/>
<path d="M182.7 415.5h3M216.4 427.1h3M250.2 434.6h3M283.9 439.8h3M317.7 443.6h3M182.7 407.8h3M216.4 420.5h3M250.2 429.9h3M283.9 436.2h3M317.7 440.3h3M182.7 400.1h3M216.4 414.5h3M250.2 424.3h3M283.9 431.3h3M317.7 436.9h3M182.7 405.6h3M216.4 418.8h3M250.2 428.6h3M283.9 435.0h3M317.7 439.4h3M182.7 389.4h3M216.4 406.6h3M250.2 417.6h3M283.9 425.6h3M317.7 432.2h3" stroke="#222" stroke-opacity="0.25" stroke-width="1" fill="none"/>
<path d="M227.60 291.60H241.20" stroke="#70AD47" stroke-width="1.15"/>
<text x="242.40" y="294.40" class="l" textLength="67.4" lengthAdjust="spacingAndGlyphs">Ciliated/Pre-ciliated</text>
<path d="M227.60 312.30H241.20" stroke="#2F5597" stroke-width="1.15"/>
<text x="242.40" y="315.10" class="l" textLength="22.5" lengthAdjust="spacingAndGlyphs">Goblet</text>
<path d="M227.60 333.30H241.20" stroke="#C55A11" stroke-width="1.15"/>
<text x="242.40" y="336.10" class="l" textLength="17.5" lengthAdjust="spacingAndGlyphs">Basal</text>
<path d="M227.60 354.30H241.20" stroke="#9DC3E6" stroke-width="1.15"/>
<text x="242.40" y="357.10" class="l" textLength="32.9" lengthAdjust="spacingAndGlyphs">Secretory</text>
<path d="M227.60 374.80H241.20" stroke="#FFD04A" stroke-width="1.15"/>
<text x="242.40" y="377.60" class="l" textLength="46.5" lengthAdjust="spacingAndGlyphs">Indetermined</text>
<text transform="translate(22.80,434.40) rotate(-90)" x="0" y="0" class="yt" textLength="133.5" lengthAdjust="spacingAndGlyphs">Number of DSB clusters/ hit</text>
<text x="133.70" y="489.90" class="xt" textLength="89.1" lengthAdjust="spacingAndGlyphs">Alpha Energy (MeV)</text>
<text x="9.40" y="266.60" class="pl">(c)</text>
<path d="M381.30 282.20V464.40H651.30" stroke="#D9D9D9" stroke-width="1" fill="none"/>
<path d="M378.80 464.40H381.30M378.80 459.19H381.30M378.80 453.99H381.30M378.80 448.78H381.30M378.80 443.58H381.30M378.80 438.37H381.30M378.80 433.17H381.30M378.80 427.96H381.30M378.80 422.76H381.30M378.80 417.55H381.30M378.80 412.34H381.30M378.80 407.14H381.30M378.80 401.93H381.30M378.80 396.73H381.30M378.80 391.52H381.30M378.80 386.32H381.30M378.80 381.11H381.30M378.80 375.90H381.30M378.80 370.70H381.30M378.80 365.49H381.30M378.80 360.29H381.30M378.80 355.08H381.30M378.80 349.88H381.30M378.80 344.67H381.30M378.80 339.47H381.30M378.80 334.26H381.30M378.80 329.05H381.30M378.80 323.85H381.30M378.80 318.64H381.30M378.80 313.44H381.30M378.80 308.23H381.30M378.80 303.03H381.30M378.80 297.82H381.30M378.80 292.62H381.30M378.80 287.41H381.30M378.80 282.20H381.30M381.30 464.40V466.90M388.05 464.40V466.90M394.80 464.40V466.90M401.55 464.40V466.90M408.30 464.40V466.90M415.05 464.40V466.90M421.80 464.40V466.90M428.55 464.40V466.90M435.30 464.40V466.90M442.05 464.40V466.90M448.80 464.40V466.90M455.55 464.40V466.90M462.30 464.40V466.90M469.05 464.40V466.90M475.80 464.40V466.90M482.55 464.40V466.90M489.30 464.40V466.90M496.05 464.40V466.90M502.80 464.40V466.90M509.55 464.40V466.90M516.30 464.40V466.90M523.05 464.40V466.90M529.80 464.40V466.90M536.55 464.40V466.90M543.30 464.40V466.90M550.05 464.40V466.90M556.80 464.40V466.90M563.55 464.40V466.90M570.30 464.40V466.90M577.05 464.40V466.90M583.80 464.40V466.90M590.55 464.40V466.90M597.30 464.40V466.90M604.05 464.40V466.90M610.80 464.40V466.90M617.55 464.40V466.90M624.30 464.40V466.90M631.05 464.40V466.90M637.80 464.40V466.90M644.55 464.40V466.90M651.30 464.40V466.90" stroke="#D9D9D9" stroke-width="1" fill="none"/>
<text x="369.10" y="467.20" class="t" textLength="4.1" lengthAdjust="spacingAndGlyphs">0</text>
<text x="365.00" y="441.17" class="t" textLength="8.2" lengthAdjust="spacingAndGlyphs">20</text>
<text x="365.00" y="415.14" class="t" textLength="8.2" lengthAdjust="spacingAndGlyphs">40</text>
<text x="365.00" y="389.12" class="t" textLength="8.2" lengthAdjust="spacingAndGlyphs">60</text>
<text x="365.00" y="363.09" class="t" textLength="8.2" lengthAdjust="spacingAndGlyphs">80</text>
<text x="360.90" y="337.06" class="t" textLength="12.3" lengthAdjust="spacingAndGlyphs">100</text>
<text x="360.90" y="311.03" class="t" textLength="12.3" lengthAdjust="spacingAndGlyphs">120</text>
<text x="360.90" y="285.00" class="t" textLength="12.3" lengthAdjust="spacingAndGlyphs">140</text>
<text x="379.25" y="478.70" class="t" textLength="4.1" lengthAdjust="spacingAndGlyphs">0</text>
<text x="413.00" y="478.70" class="t" textLength="4.1" lengthAdjust="spacingAndGlyphs">1</text>
<text x="446.75" y="478.70" class="t" textLength="4.1" lengthAdjust="spacingAndGlyphs">2</text>
<text x="480.50" y="478.70" class="t" textLength="4.1" lengthAdjust="spacingAndGlyphs">3</text>
<text x="514.25" y="478.70" class="t" textLength="4.1" lengthAdjust="spacingAndGlyphs">4</text>
<text x="548.00" y="478.70" class="t" textLength="4.1" lengthAdjust="spacingAndGlyphs">5</text>
<text x="581.75" y="478.70" class="t" textLength="4.1" lengthAdjust="spacingAndGlyphs">6</text>
<text x="615.50" y="478.70" class="t" textLength="4.1" lengthAdjust="spacingAndGlyphs">7</text>
<text x="649.25" y="478.70" class="t" textLength="4.1" lengthAdjust="spacingAndGlyphs">8</text>
<polyline points="381.3,464.4 381.6,463.8 382.0,463.2 382.3,462.6 382.7,462.0 383.0,461.3 383.3,460.7 383.7,460.1 384.0,459.5 384.3,458.9 384.7,458.3 385.0,457.6 385.4,457.0 385.7,456.4 386.0,455.8 386.4,455.2 386.7,454.6 387.0,454.0 387.4,453.3 387.7,452.7 388.1,452.1 388.4,451.4 388.7,450.8 389.1,450.1 389.4,449.5 389.7,448.8 390.1,448.1 390.4,447.4 390.8,446.8 391.1,446.1 391.4,445.4 391.8,444.7 392.1,444.0 392.4,443.3 392.8,442.6 393.1,441.9 393.4,441.2 393.8,440.5 394.1,439.8 394.5,439.1 394.8,438.3 395.1,437.6 395.5,436.9 395.8,436.2 396.2,435.5 396.5,434.8 396.8,434.1 397.2,433.4 397.5,432.6 397.8,431.9 398.2,431.2 398.5,430.5 398.9,429.8 399.2,429.1 399.5,428.4 399.9,427.7 400.2,427.0 400.5,426.4 400.9,425.7 401.2,425.0 401.6,424.3 401.9,423.7 402.2,423.0 402.6,422.3 402.9,421.6 403.2,420.9 403.6,420.3 403.9,419.6 404.2,418.9 404.6,418.3 404.9,417.6 405.3,416.9 405.6,416.3 405.9,415.6 406.3,415.0 406.6,414.4 406.9,413.7 407.3,413.1 407.6,412.5 408.0,411.8 408.3,411.2 408.6,410.5 409.0,409.9 409.3,409.2 409.7,408.6 410.0,407.9 410.3,407.3 410.7,406.7 411.0,406.0 411.3,405.4 411.7,404.8 412.0,404.2 412.4,403.6 412.7,403.0 413.0,402.5 413.4,401.9 413.7,401.4 414.0,400.8 414.4,400.3 414.7,399.7 415.1,399.2 415.4,398.7 415.7,398.2 416.1,397.7 416.4,397.2 416.7,396.8 417.1,396.3 417.4,395.9 417.8,395.5 418.1,395.2 418.4,394.8 418.8,394.4 419.1,394.1 419.4,393.8 419.8,393.5 420.1,393.2 420.4,392.9 420.8,392.6 421.1,392.3 421.5,392.1 421.8,391.8 422.1,391.5 422.5,391.2 422.8,391.0 423.2,390.7 423.5,390.5 423.8,390.2 424.2,390.0 424.5,389.7 424.8,389.5 425.2,389.3 425.5,389.0 425.9,388.8 426.2,388.6 426.5,388.4 426.9,388.2 427.2,388.0 427.5,387.8 427.9,387.7 428.2,387.5 428.6,387.4 428.9,387.2 429.2,387.1 429.6,386.9 429.9,386.8 430.2,386.7 430.6,386.6 430.9,386.4 431.2,386.3 431.6,386.2 431.9,386.1 432.3,386.0 432.6,386.0 432.9,385.9 433.3,385.8 433.6,385.8 433.9,385.7 434.3,385.7 434.6,385.6 435.0,385.6 435.3,385.6 435.6,385.6 436.0,385.6 436.3,385.6 436.7,385.6 437.0,385.7 437.3,385.7 437.7,385.7 438.0,385.7 438.3,385.7 438.7,385.8 439.0,385.8 439.4,385.9 439.7,385.9 440.0,386.0 440.4,386.1 440.7,386.2 441.0,386.3 441.4,386.4 441.7,386.5 442.1,386.7 442.4,386.8 442.7,386.9 443.1,387.1 443.4,387.2 443.7,387.4 444.1,387.6 444.4,387.7 444.8,387.9 445.1,388.0 445.4,388.2 445.8,388.4 446.1,388.6 446.4,388.8 446.8,389.0 447.1,389.2 447.5,389.5 447.8,389.8 448.1,390.0 448.5,390.3 448.8,390.6 449.1,390.9 449.5,391.2 449.8,391.5 450.1,391.8 450.5,392.1 450.8,392.4 451.2,392.7 451.5,393.0 451.8,393.3 452.2,393.6 452.5,393.8 452.9,394.1 453.2,394.4 453.5,394.7 453.9,395.0 454.2,395.3 454.5,395.6 454.9,395.9 455.2,396.2 455.6,396.5 455.9,396.8 456.2,397.1 456.6,397.4 456.9,397.7 457.2,398.0 457.6,398.4 457.9,398.7 458.2,399.0 458.6,399.3 458.9,399.6 459.3,399.9 459.6,400.2 459.9,400.5 460.3,400.8 460.6,401.2 460.9,401.5 461.3,401.8 461.6,402.1 462.0,402.4 462.3,402.7 462.6,403.0 463.0,403.4 463.3,403.7 463.6,404.0 464.0,404.3 464.3,404.6 464.7,405.0 465.0,405.3 465.3,405.6 465.7,405.9 466.0,406.2 466.4,406.6 466.7,406.9 467.0,407.2 467.4,407.5 467.7,407.9 468.0,408.2 468.4,408.5 468.7,408.9 469.1,409.2 469.4,409.5 469.7,409.9 470.1,410.2 470.4,410.5 470.7,410.9 471.1,411.2 471.4,411.5 471.8,411.8 472.1,412.2 472.4,412.5 472.8,412.8 473.1,413.1 473.4,413.5 473.8,413.8 474.1,414.1 474.5,414.4 474.8,414.7 475.1,415.1 475.5,415.4 475.8,415.7 476.1,416.0 476.5,416.3 476.8,416.6 477.1,417.0 477.5,417.3 477.8,417.6 478.2,417.9 478.5,418.2 478.8,418.4 479.2,418.7 479.5,419.0 479.9,419.3 480.2,419.6 480.5,419.8 480.9,420.1 481.2,420.3 481.5,420.6 481.9,420.8 482.2,421.1 482.6,421.3 483.2,421.7 483.9,422.2 484.6,422.6 485.2,423.0 485.9,423.4 486.6,423.8 487.3,424.2 488.0,424.6 488.6,425.0 489.3,425.4 490.0,425.7 490.7,426.1 491.3,426.5 492.0,426.8 492.7,427.2 493.4,427.5 494.0,427.9 494.7,428.2 495.4,428.5 496.1,428.9 496.7,429.2 497.4,429.5 498.1,429.9 498.8,430.2 499.4,430.5 500.1,430.8 500.8,431.2 501.5,431.5 502.1,431.8 502.8,432.1 503.5,432.4 504.2,432.7 504.8,432.9 505.5,433.2 506.2,433.5 506.9,433.8 507.5,434.1 508.2,434.3 508.9,434.6 509.6,434.9 510.2,435.1 510.9,435.4 511.6,435.6 512.2,435.9 512.9,436.1 513.6,436.3 514.3,436.6 515.0,436.8 515.6,437.0 516.3,437.3 517.0,437.5 517.6,437.7 518.3,437.9 519.0,438.2 519.7,438.4 520.4,438.6 521.0,438.8 521.7,439.0 522.4,439.2 523.0,439.4 523.7,439.6 524.4,439.8 525.1,439.9 525.8,440.1 526.4,440.3 527.1,440.5 527.8,440.7 528.5,440.9 529.1,441.0 529.8,441.2 530.5,441.4 531.1,441.5 531.8,441.7 532.5,441.9 533.2,442.0 533.9,442.2 534.5,442.3 535.2,442.5 535.9,442.7 536.5,442.8 537.2,443.0 537.9,443.1 538.6,443.3 539.2,443.4 539.9,443.5 540.6,443.7 541.3,443.8 542.0,444.0 542.6,444.1 543.3,444.3 544.0,444.4 544.6,444.5 545.3,444.7 546.0,444.8 546.7,444.9 547.4,445.1 548.0,445.2 548.7,445.3 549.4,445.5 550.0,445.6 550.7,445.7 551.4,445.8 552.1,446.0 552.8,446.1 553.4,446.2 554.1,446.3 554.8,446.5 555.5,446.6 556.1,446.7 556.8,446.8 557.5,446.9 558.1,447.1 558.8,447.2 559.5,447.3 560.2,447.4 560.9,447.5 561.5,447.7 562.2,447.8 562.9,447.9 563.5,448.0 564.2,448.1 564.9,448.2 565.6,448.3 566.2,448.4 566.9,448.5 567.6,448.6 568.3,448.7 569.0,448.8 569.6,448.9 570.3,449.0 571.0,449.1 571.7,449.2 572.3,449.3 573.0,449.4 573.7,449.5 574.4,449.6 575.0,449.7 575.7,449.8 576.4,449.9 577.1,450.0 577.7,450.1 578.4,450.2 579.1,450.3 579.8,450.3 580.4,450.4 581.1,450.5 581.8,450.6 582.5,450.7 583.1,450.8 583.8,450.8 584.5,450.9 585.1,451.0 585.8,451.1 586.5,451.1 587.2,451.2 587.9,451.3 588.5,451.4 589.2,451.4 589.9,451.5 590.5,451.6 591.2,451.6 591.9,451.7 592.6,451.8 593.2,451.9 593.9,451.9 594.6,452.0 595.3,452.0 596.0,452.1 596.6,452.2 597.3,452.2 598.0,452.3 598.6,452.4 599.3,452.4 600.0,452.5 600.7,452.6 601.4,452.6 602.0,452.7 602.7,452.7 603.4,452.8 604.0,452.8 604.7,452.9 605.4,453.0 606.1,453.0 606.8,453.1 607.4,453.1 608.1,453.2 608.8,453.2 609.5,453.3 610.1,453.3 610.8,453.4 611.5,453.5 612.1,453.5 612.8,453.6 613.5,453.6 614.2,453.7 614.9,453.7 615.5,453.8 616.2,453.8 616.9,453.9 617.5,453.9 618.2,454.0 618.9,454.0 619.6,454.1 620.2,454.1 620.9,454.2 621.6,454.2 622.3,454.2 623.0,454.3 623.6,454.3 624.3,454.4 625.0,454.4 625.6,454.5 626.3,454.5 627.0,454.6 627.7,454.6 628.4,454.7 629.0,454.7 629.7,454.7 630.4,454.8 631.0,454.8 631.7,454.9 632.4,454.9 633.1,455.0 633.8,455.0 634.4,455.0 635.1,455.1 635.8,455.1 636.5,455.2 637.1,455.2 637.8,455.2 638.5,455.3 639.2,455.3 639.8,455.4 640.5,455.4 641.2,455.4 641.9,455.5 642.5,455.5 643.2,455.5 643.9,455.6 644.5,455.6 645.2,455.7 645.9,455.7 646.6,455.7 647.2,455.8 647.9,455.8 648.6,455.8 649.3,455.9 650.0,455.9 650.6,455.9 651.3,456.0" fill="none" stroke="#70AD47" stroke-width="1.4" stroke-linejoin="round"/>
<polyline points="381.3,464.4 381.6,463.6 382.0,462.9 382.3,462.1 382.7,461.3 383.0,460.5 383.3,459.8 383.7,459.0 384.0,458.2 384.3,457.4 384.7,456.6 385.0,455.8 385.4,455.1 385.7,454.3 386.0,453.5 386.4,452.7 386.7,452.0 387.0,451.2 387.4,450.4 387.7,449.6 388.1,448.8 388.4,448.0 388.7,447.1 389.1,446.3 389.4,445.5 389.7,444.6 390.1,443.8 390.4,442.9 390.8,442.1 391.1,441.2 391.4,440.3 391.8,439.5 392.1,438.6 392.4,437.7 392.8,436.8 393.1,435.9 393.4,435.0 393.8,434.1 394.1,433.2 394.5,432.3 394.8,431.4 395.1,430.5 395.5,429.6 395.8,428.7 396.2,427.8 396.5,426.9 396.8,426.0 397.2,425.0 397.5,424.1 397.8,423.2 398.2,422.4 398.5,421.5 398.9,420.6 399.2,419.7 399.5,418.8 399.9,417.9 400.2,417.0 400.5,416.2 400.9,415.3 401.2,414.5 401.6,413.6 401.9,412.8 402.2,411.9 402.6,411.1 402.9,410.2 403.2,409.3 403.6,408.5 403.9,407.6 404.2,406.8 404.6,406.0 404.9,405.2 405.3,404.4 405.6,403.6 405.9,402.8 406.3,402.0 406.6,401.3 406.9,400.5 407.3,399.8 407.6,399.0 408.0,398.3 408.3,397.6 408.6,396.9 409.0,396.2 409.3,395.4 409.7,394.7 410.0,394.0 410.3,393.4 410.7,392.7 411.0,392.0 411.3,391.3 411.7,390.7 412.0,390.0 412.4,389.3 412.7,388.7 413.0,388.1 413.4,387.4 413.7,386.8 414.0,386.2 414.4,385.6 414.7,385.0 415.1,384.4 415.4,383.8 415.7,383.2 416.1,382.6 416.4,382.1 416.7,381.5 417.1,381.0 417.4,380.5 417.8,380.0 418.1,379.6 418.4,379.1 418.8,378.7 419.1,378.3 419.4,377.9 419.8,377.5 420.1,377.2 420.4,376.8 420.8,376.5 421.1,376.2 421.5,375.9 421.8,375.6 422.1,375.3 422.5,375.0 422.8,374.7 423.2,374.4 423.5,374.1 423.8,373.9 424.2,373.6 424.5,373.3 424.8,373.1 425.2,372.9 425.5,372.6 425.9,372.4 426.2,372.2 426.5,372.1 426.9,372.0 427.2,371.8 427.5,371.7 427.9,371.6 428.2,371.5 428.6,371.4 428.9,371.3 429.2,371.2 429.6,371.1 429.9,371.0 430.2,371.0 430.6,370.9 430.9,370.8 431.2,370.7 431.6,370.7 431.9,370.6 432.3,370.5 432.6,370.5 432.9,370.5 433.3,370.4 433.6,370.4 433.9,370.4 434.3,370.4 434.6,370.4 435.0,370.4 435.3,370.4 435.6,370.5 436.0,370.5 436.3,370.5 436.7,370.6 437.0,370.7 437.3,370.8 437.7,370.9 438.0,371.0 438.3,371.1 438.7,371.3 439.0,371.4 439.4,371.6 439.7,371.8 440.0,372.0 440.4,372.2 440.7,372.4 441.0,372.6 441.4,372.8 441.7,373.1 442.1,373.3 442.4,373.6 442.7,373.8 443.1,374.1 443.4,374.4 443.7,374.6 444.1,374.9 444.4,375.2 444.8,375.5 445.1,375.8 445.4,376.0 445.8,376.3 446.1,376.6 446.4,376.9 446.8,377.2 447.1,377.5 447.5,377.8 447.8,378.1 448.1,378.4 448.5,378.8 448.8,379.2 449.1,379.6 449.5,380.0 449.8,380.3 450.1,380.8 450.5,381.2 450.8,381.6 451.2,381.9 451.5,382.3 451.8,382.7 452.2,383.1 452.5,383.4 452.9,383.8 453.2,384.2 453.5,384.5 453.9,384.9 454.2,385.2 454.5,385.6 454.9,385.9 455.2,386.3 455.6,386.6 455.9,387.0 456.2,387.3 456.6,387.7 456.9,388.0 457.2,388.4 457.6,388.7 457.9,389.0 458.2,389.4 458.6,389.7 458.9,390.1 459.3,390.4 459.6,390.8 459.9,391.1 460.3,391.5 460.6,391.8 460.9,392.1 461.3,392.5 461.6,392.8 462.0,393.2 462.3,393.5 462.6,393.9 463.0,394.2 463.3,394.6 463.6,394.9 464.0,395.3 464.3,395.6 464.7,396.0 465.0,396.3 465.3,396.7 465.7,397.0 466.0,397.4 466.4,397.8 466.7,398.1 467.0,398.5 467.4,398.9 467.7,399.2 468.0,399.6 468.4,400.0 468.7,400.3 469.1,400.7 469.4,401.1 469.7,401.5 470.1,401.8 470.4,402.2 470.7,402.6 471.1,403.0 471.4,403.3 471.8,403.7 472.1,404.1 472.4,404.5 472.8,404.8 473.1,405.2 473.4,405.6 473.8,405.9 474.1,406.3 474.5,406.6 474.8,407.0 475.1,407.4 475.5,407.7 475.8,408.1 476.1,408.4 476.5,408.7 476.8,409.1 477.1,409.4 477.5,409.8 477.8,410.1 478.2,410.4 478.5,410.7 478.8,411.0 479.2,411.4 479.5,411.7 479.9,412.0 480.2,412.3 480.5,412.5 480.9,412.8 481.2,413.1 481.5,413.4 481.9,413.7 482.2,413.9 482.6,414.2 483.2,414.7 483.9,415.2 484.6,415.7 485.2,416.2 485.9,416.6 486.6,417.1 487.3,417.6 488.0,418.0 488.6,418.5 489.3,418.9 490.0,419.3 490.7,419.8 491.3,420.2 492.0,420.6 492.7,421.0 493.4,421.5 494.0,421.9 494.7,422.3 495.4,422.7 496.1,423.1 496.7,423.5 497.4,423.9 498.1,424.3 498.8,424.7 499.4,425.0 500.1,425.4 500.8,425.8 501.5,426.2 502.1,426.5 502.8,426.9 503.5,427.2 504.2,427.6 504.8,427.9 505.5,428.3 506.2,428.6 506.9,428.9 507.5,429.3 508.2,429.6 508.9,429.9 509.6,430.2 510.2,430.5 510.9,430.8 511.6,431.1 512.2,431.4 512.9,431.7 513.6,431.9 514.3,432.2 515.0,432.5 515.6,432.7 516.3,433.0 517.0,433.3 517.6,433.5 518.3,433.7 519.0,434.0 519.7,434.2 520.4,434.5 521.0,434.7 521.7,434.9 522.4,435.1 523.0,435.4 523.7,435.6 524.4,435.8 525.1,436.0 525.8,436.2 526.4,436.4 527.1,436.6 527.8,436.8 528.5,437.0 529.1,437.2 529.8,437.4 530.5,437.5 531.1,437.7 531.8,437.9 532.5,438.1 533.2,438.3 533.9,438.4 534.5,438.6 535.2,438.8 535.9,439.0 536.5,439.1 537.2,439.3 537.9,439.5 538.6,439.6 539.2,439.8 539.9,439.9 540.6,440.1 541.3,440.3 542.0,440.4 542.6,440.6 543.3,440.7 544.0,440.9 544.6,441.0 545.3,441.2 546.0,441.3 546.7,441.5 547.4,441.7 548.0,441.8 548.7,442.0 549.4,442.1 550.0,442.3 550.7,442.4 551.4,442.6 552.1,442.7 552.8,442.9 553.4,443.0 554.1,443.2 554.8,443.3 555.5,443.5 556.1,443.6 556.8,443.8 557.5,443.9 558.1,444.1 558.8,444.2 559.5,444.3 560.2,444.5 560.9,444.6 561.5,444.8 562.2,444.9 562.9,445.0 563.5,445.2 564.2,445.3 564.9,445.5 565.6,445.6 566.2,445.7 566.9,445.9 567.6,446.0 568.3,446.1 569.0,446.2 569.6,446.4 570.3,446.5 571.0,446.6 571.7,446.7 572.3,446.9 573.0,447.0 573.7,447.1 574.4,447.2 575.0,447.3 575.7,447.4 576.4,447.6 577.1,447.7 577.7,447.8 578.4,447.9 579.1,448.0 579.8,448.1 580.4,448.2 581.1,448.3 581.8,448.4 582.5,448.5 583.1,448.6 583.8,448.7 584.5,448.8 585.1,448.9 585.8,449.0 586.5,449.1 587.2,449.1 587.9,449.2 588.5,449.3 589.2,449.4 589.9,449.5 590.5,449.6 591.2,449.7 591.9,449.7 592.6,449.8 593.2,449.9 593.9,450.0 594.6,450.1 595.3,450.1 596.0,450.2 596.6,450.3 597.3,450.4 598.0,450.4 598.6,450.5 599.3,450.6 600.0,450.7 600.7,450.7 601.4,450.8 602.0,450.9 602.7,451.0 603.4,451.0 604.0,451.1 604.7,451.2 605.4,451.2 606.1,451.3 606.8,451.4 607.4,451.4 608.1,451.5 608.8,451.6 609.5,451.6 610.1,451.7 610.8,451.7 611.5,451.8 612.1,451.9 612.8,451.9 613.5,452.0 614.2,452.0 614.9,452.1 615.5,452.2 616.2,452.2 616.9,452.3 617.5,452.3 618.2,452.4 618.9,452.5 619.6,452.5 620.2,452.6 620.9,452.6 621.6,452.7 622.3,452.7 623.0,452.8 623.6,452.8 624.3,452.9 625.0,452.9 625.6,453.0 626.3,453.0 627.0,453.1 627.7,453.1 628.4,453.2 629.0,453.2 629.7,453.3 630.4,453.3 631.0,453.4 631.7,453.4 632.4,453.5 633.1,453.5 633.8,453.6 634.4,453.6 635.1,453.7 635.8,453.7 636.5,453.8 637.1,453.8 637.8,453.9 638.5,453.9 639.2,453.9 639.8,454.0 640.5,454.0 641.2,454.1 641.9,454.1 642.5,454.2 643.2,454.2 643.9,454.2 644.5,454.3 645.2,454.3 645.9,454.3 646.6,454.4 647.2,454.4 647.9,454.5 648.6,454.5 649.3,454.5 650.0,454.6 650.6,454.6 651.3,454.6" fill="none" stroke="#2F5597" stroke-width="1.4" stroke-linejoin="round"/>
<polyline points="381.3,464.4 381.6,463.5 382.0,462.5 382.3,461.6 382.7,460.6 383.0,459.7 383.3,458.8 383.7,457.8 384.0,456.9 384.3,455.9 384.7,455.0 385.0,454.0 385.4,453.1 385.7,452.1 386.0,451.2 386.4,450.2 386.7,449.3 387.0,448.3 387.4,447.4 387.7,446.4 388.1,445.4 388.4,444.4 388.7,443.4 389.1,442.4 389.4,441.4 389.7,440.4 390.1,439.4 390.4,438.3 390.8,437.3 391.1,436.2 391.4,435.2 391.8,434.1 392.1,433.0 392.4,432.0 392.8,430.9 393.1,429.8 393.4,428.7 393.8,427.6 394.1,426.5 394.5,425.4 394.8,424.3 395.1,423.2 395.5,422.1 395.8,421.0 396.2,419.9 396.5,418.8 396.8,417.7 397.2,416.6 397.5,415.5 397.8,414.4 398.2,413.3 398.5,412.2 398.9,411.1 399.2,410.1 399.5,409.0 399.9,407.9 400.2,406.9 400.5,405.8 400.9,404.8 401.2,403.8 401.6,402.8 401.9,401.7 402.2,400.7 402.6,399.7 402.9,398.7 403.2,397.7 403.6,396.7 403.9,395.7 404.2,394.7 404.6,393.8 404.9,392.8 405.3,391.9 405.6,391.1 405.9,390.2 406.3,389.4 406.6,388.6 406.9,387.7 407.3,386.9 407.6,386.1 408.0,385.4 408.3,384.6 408.6,383.8 409.0,383.0 409.3,382.2 409.7,381.5 410.0,380.7 410.3,380.0 410.7,379.2 411.0,378.5 411.3,377.8 411.7,377.0 412.0,376.3 412.4,375.6 412.7,374.9 413.0,374.2 413.4,373.5 413.7,372.8 414.0,372.2 414.4,371.5 414.7,370.8 415.1,370.2 415.4,369.5 415.7,368.9 416.1,368.3 416.4,367.6 416.7,367.0 417.1,366.4 417.4,365.8 417.8,365.2 418.1,364.6 418.4,364.1 418.8,363.5 419.1,363.0 419.4,362.5 419.8,362.0 420.1,361.6 420.4,361.2 420.8,360.8 421.1,360.4 421.5,360.0 421.8,359.7 422.1,359.4 422.5,359.2 422.8,358.9 423.2,358.7 423.5,358.6 423.8,358.4 424.2,358.3 424.5,358.1 424.8,357.9 425.2,357.8 425.5,357.6 425.9,357.4 426.2,357.3 426.5,357.1 426.9,357.0 427.2,356.8 427.5,356.7 427.9,356.5 428.2,356.4 428.6,356.3 428.9,356.2 429.2,356.0 429.6,355.9 429.9,355.8 430.2,355.8 430.6,355.7 430.9,355.6 431.2,355.6 431.6,355.5 431.9,355.5 432.3,355.5 432.6,355.5 432.9,355.5 433.3,355.5 433.6,355.5 433.9,355.6 434.3,355.6 434.6,355.7 435.0,355.8 435.3,355.9 435.6,356.0 436.0,356.1 436.3,356.3 436.7,356.4 437.0,356.6 437.3,356.8 437.7,357.0 438.0,357.2 438.3,357.4 438.7,357.6 439.0,357.9 439.4,358.1 439.7,358.4 440.0,358.7 440.4,358.9 440.7,359.2 441.0,359.5 441.4,359.8 441.7,360.1 442.1,360.4 442.4,360.7 442.7,361.0 443.1,361.4 443.4,361.7 443.7,362.0 444.1,362.3 444.4,362.7 444.8,363.0 445.1,363.3 445.4,363.7 445.8,364.0 446.1,364.3 446.4,364.7 446.8,365.0 447.1,365.3 447.5,365.7 447.8,366.1 448.1,366.4 448.5,366.8 448.8,367.3 449.1,367.7 449.5,368.1 449.8,368.6 450.1,369.0 450.5,369.5 450.8,369.9 451.2,370.4 451.5,370.8 451.8,371.2 452.2,371.6 452.5,372.0 452.9,372.4 453.2,372.8 453.5,373.2 453.9,373.6 454.2,374.0 454.5,374.4 454.9,374.8 455.2,375.2 455.6,375.6 455.9,376.0 456.2,376.4 456.6,376.8 456.9,377.2 457.2,377.6 457.6,378.0 457.9,378.4 458.2,378.8 458.6,379.1 458.9,379.5 459.3,379.9 459.6,380.3 459.9,380.7 460.3,381.1 460.6,381.5 460.9,381.9 461.3,382.3 461.6,382.7 462.0,383.1 462.3,383.5 462.6,383.9 463.0,384.3 463.3,384.7 463.6,385.1 464.0,385.5 464.3,385.9 464.7,386.3 465.0,386.7 465.3,387.1 465.7,387.6 466.0,388.0 466.4,388.4 466.7,388.8 467.0,389.3 467.4,389.7 467.7,390.1 468.0,390.6 468.4,391.0 468.7,391.4 469.1,391.9 469.4,392.3 469.7,392.8 470.1,393.2 470.4,393.7 470.7,394.1 471.1,394.6 471.4,395.0 471.8,395.4 472.1,395.9 472.4,396.3 472.8,396.8 473.1,397.2 473.4,397.6 473.8,398.1 474.1,398.5 474.5,398.9 474.8,399.3 475.1,399.8 475.5,400.2 475.8,400.6 476.1,401.0 476.5,401.4 476.8,401.8 477.1,402.2 477.5,402.6 477.8,403.0 478.2,403.3 478.5,403.7 478.8,404.1 479.2,404.4 479.5,404.8 479.9,405.1 480.2,405.5 480.5,405.8 480.9,406.2 481.2,406.5 481.5,406.8 481.9,407.1 482.2,407.4 482.6,407.7 483.2,408.3 483.9,408.8 484.6,409.4 485.2,409.9 485.9,410.5 486.6,411.0 487.3,411.5 488.0,412.0 488.6,412.5 489.3,413.0 490.0,413.5 490.7,414.0 491.3,414.5 492.0,415.0 492.7,415.4 493.4,415.9 494.0,416.4 494.7,416.8 495.4,417.3 496.1,417.7 496.7,418.1 497.4,418.6 498.1,419.0 498.8,419.5 499.4,419.9 500.1,420.3 500.8,420.7 501.5,421.1 502.1,421.5 502.8,421.9 503.5,422.3 504.2,422.7 504.8,423.1 505.5,423.5 506.2,423.8 506.9,424.2 507.5,424.6 508.2,424.9 508.9,425.3 509.6,425.6 510.2,425.9 510.9,426.3 511.6,426.6 512.2,426.9 512.9,427.2 513.6,427.5 514.3,427.8 515.0,428.1 515.6,428.4 516.3,428.7 517.0,429.0 517.6,429.3 518.3,429.6 519.0,429.9 519.7,430.1 520.4,430.4 521.0,430.6 521.7,430.9 522.4,431.2 523.0,431.4 523.7,431.6 524.4,431.9 525.1,432.1 525.8,432.4 526.4,432.6 527.1,432.8 527.8,433.0 528.5,433.3 529.1,433.5 529.8,433.7 530.5,433.9 531.1,434.1 531.8,434.3 532.5,434.5 533.2,434.7 533.9,434.9 534.5,435.1 535.2,435.3 535.9,435.5 536.5,435.7 537.2,435.9 537.9,436.1 538.6,436.3 539.2,436.4 539.9,436.6 540.6,436.8 541.3,437.0 542.0,437.2 542.6,437.3 543.3,437.5 544.0,437.7 544.6,437.9 545.3,438.0 546.0,438.2 546.7,438.4 547.4,438.5 548.0,438.7 548.7,438.9 549.4,439.0 550.0,439.2 550.7,439.4 551.4,439.5 552.1,439.7 552.8,439.9 553.4,440.0 554.1,440.2 554.8,440.3 555.5,440.5 556.1,440.7 556.8,440.8 557.5,441.0 558.1,441.1 558.8,441.3 559.5,441.4 560.2,441.6 560.9,441.7 561.5,441.9 562.2,442.0 562.9,442.2 563.5,442.3 564.2,442.5 564.9,442.6 565.6,442.8 566.2,442.9 566.9,443.0 567.6,443.2 568.3,443.3 569.0,443.5 569.6,443.6 570.3,443.7 571.0,443.9 571.7,444.0 572.3,444.1 573.0,444.2 573.7,444.4 574.4,444.5 575.0,444.6 575.7,444.7 576.4,444.9 577.1,445.0 577.7,445.1 578.4,445.2 579.1,445.3 579.8,445.4 580.4,445.6 581.1,445.7 581.8,445.8 582.5,445.9 583.1,446.0 583.8,446.1 584.5,446.2 585.1,446.3 585.8,446.4 586.5,446.5 587.2,446.6 587.9,446.7 588.5,446.8 589.2,446.9 589.9,447.0 590.5,447.1 591.2,447.2 591.9,447.3 592.6,447.4 593.2,447.5 593.9,447.5 594.6,447.6 595.3,447.7 596.0,447.8 596.6,447.9 597.3,448.0 598.0,448.1 598.6,448.1 599.3,448.2 600.0,448.3 600.7,448.4 601.4,448.5 602.0,448.6 602.7,448.6 603.4,448.7 604.0,448.8 604.7,448.9 605.4,449.0 606.1,449.0 606.8,449.1 607.4,449.2 608.1,449.3 608.8,449.3 609.5,449.4 610.1,449.5 610.8,449.6 611.5,449.6 612.1,449.7 612.8,449.8 613.5,449.8 614.2,449.9 614.9,450.0 615.5,450.1 616.2,450.1 616.9,450.2 617.5,450.3 618.2,450.3 618.9,450.4 619.6,450.5 620.2,450.5 620.9,450.6 621.6,450.7 622.3,450.7 623.0,450.8 623.6,450.9 624.3,450.9 625.0,451.0 625.6,451.1 626.3,451.1 627.0,451.2 627.7,451.3 628.4,451.3 629.0,451.4 629.7,451.5 630.4,451.5 631.0,451.6 631.7,451.6 632.4,451.7 633.1,451.8 633.8,451.8 634.4,451.9 635.1,451.9 635.8,452.0 636.5,452.1 637.1,452.1 637.8,452.2 638.5,452.2 639.2,452.3 639.8,452.3 640.5,452.4 641.2,452.5 641.9,452.5 642.5,452.6 643.2,452.6 643.9,452.7 644.5,452.7 645.2,452.8 645.9,452.8 646.6,452.9 647.2,452.9 647.9,453.0 648.6,453.0 649.3,453.1 650.0,453.1 650.6,453.2 651.3,453.2" fill="none" stroke="#C55A11" stroke-width="1.4" stroke-linejoin="round"/>
<polyline points="381.3,464.4 381.6,463.6 382.0,462.8 382.3,462.0 382.7,461.2 383.0,460.4 383.3,459.6 383.7,458.8 384.0,457.9 384.3,457.1 384.7,456.3 385.0,455.5 385.4,454.7 385.7,453.9 386.0,453.1 386.4,452.3 386.7,451.5 387.0,450.6 387.4,449.8 387.7,449.0 388.1,448.2 388.4,447.3 388.7,446.4 389.1,445.6 389.4,444.7 389.7,443.8 390.1,443.0 390.4,442.1 390.8,441.2 391.1,440.3 391.4,439.4 391.8,438.5 392.1,437.6 392.4,436.6 392.8,435.7 393.1,434.8 393.4,433.8 393.8,432.9 394.1,432.0 394.5,431.0 394.8,430.1 395.1,429.1 395.5,428.2 395.8,427.3 396.2,426.3 396.5,425.4 396.8,424.4 397.2,423.5 397.5,422.6 397.8,421.6 398.2,420.7 398.5,419.8 398.9,418.8 399.2,417.9 399.5,417.0 399.9,416.1 400.2,415.2 400.5,414.3 400.9,413.4 401.2,412.5 401.6,411.6 401.9,410.7 402.2,409.8 402.6,409.0 402.9,408.1 403.2,407.2 403.6,406.3 403.9,405.4 404.2,404.5 404.6,403.7 404.9,402.8 405.3,402.0 405.6,401.2 405.9,400.4 406.3,399.6 406.6,398.8 406.9,398.0 407.3,397.2 407.6,396.5 408.0,395.7 408.3,395.0 408.6,394.2 409.0,393.5 409.3,392.7 409.7,392.0 410.0,391.3 410.3,390.6 410.7,389.8 411.0,389.1 411.3,388.4 411.7,387.7 412.0,387.1 412.4,386.4 412.7,385.7 413.0,385.1 413.4,384.4 413.7,383.8 414.0,383.1 414.4,382.5 414.7,381.8 415.1,381.2 415.4,380.6 415.7,380.0 416.1,379.4 416.4,378.8 416.7,378.3 417.1,377.7 417.4,377.2 417.8,376.7 418.1,376.2 418.4,375.8 418.8,375.3 419.1,374.9 419.4,374.5 419.8,374.1 420.1,373.7 420.4,373.4 420.8,373.0 421.1,372.7 421.5,372.4 421.8,372.1 422.1,371.8 422.5,371.5 422.8,371.2 423.2,370.9 423.5,370.6 423.8,370.3 424.2,370.0 424.5,369.7 424.8,369.5 425.2,369.2 425.5,369.0 425.9,368.8 426.2,368.6 426.5,368.4 426.9,368.3 427.2,368.2 427.5,368.1 427.9,368.0 428.2,367.9 428.6,367.8 428.9,367.7 429.2,367.6 429.6,367.5 429.9,367.4 430.2,367.3 430.6,367.2 430.9,367.1 431.2,367.0 431.6,367.0 431.9,366.9 432.3,366.8 432.6,366.8 432.9,366.8 433.3,366.7 433.6,366.7 433.9,366.7 434.3,366.7 434.6,366.7 435.0,366.7 435.3,366.7 435.6,366.7 436.0,366.8 436.3,366.8 436.7,366.9 437.0,367.0 437.3,367.1 437.7,367.2 438.0,367.3 438.3,367.4 438.7,367.6 439.0,367.8 439.4,367.9 439.7,368.1 440.0,368.3 440.4,368.5 440.7,368.8 441.0,369.0 441.4,369.2 441.7,369.5 442.1,369.7 442.4,370.0 442.7,370.3 443.1,370.5 443.4,370.8 443.7,371.1 444.1,371.4 444.4,371.7 444.8,372.0 445.1,372.3 445.4,372.6 445.8,372.9 446.1,373.2 446.4,373.5 446.8,373.7 447.1,374.0 447.5,374.4 447.8,374.7 448.1,375.1 448.5,375.4 448.8,375.8 449.1,376.2 449.5,376.6 449.8,377.0 450.1,377.5 450.5,377.9 450.8,378.3 451.2,378.7 451.5,379.1 451.8,379.5 452.2,379.9 452.5,380.3 452.9,380.6 453.2,381.0 453.5,381.4 453.9,381.7 454.2,382.1 454.5,382.5 454.9,382.8 455.2,383.2 455.6,383.6 455.9,383.9 456.2,384.3 456.6,384.6 456.9,385.0 457.2,385.4 457.6,385.7 457.9,386.1 458.2,386.4 458.6,386.8 458.9,387.1 459.3,387.5 459.6,387.9 459.9,388.2 460.3,388.6 460.6,388.9 460.9,389.3 461.3,389.6 461.6,390.0 462.0,390.4 462.3,390.7 462.6,391.1 463.0,391.4 463.3,391.8 463.6,392.2 464.0,392.5 464.3,392.9 464.7,393.3 465.0,393.6 465.3,394.0 465.7,394.4 466.0,394.8 466.4,395.1 466.7,395.5 467.0,395.9 467.4,396.3 467.7,396.7 468.0,397.0 468.4,397.4 468.7,397.8 469.1,398.2 469.4,398.6 469.7,399.0 470.1,399.4 470.4,399.8 470.7,400.2 471.1,400.5 471.4,400.9 471.8,401.3 472.1,401.7 472.4,402.1 472.8,402.5 473.1,402.9 473.4,403.2 473.8,403.6 474.1,404.0 474.5,404.4 474.8,404.7 475.1,405.1 475.5,405.5 475.8,405.8 476.1,406.2 476.5,406.6 476.8,406.9 477.1,407.3 477.5,407.6 477.8,407.9 478.2,408.3 478.5,408.6 478.8,408.9 479.2,409.3 479.5,409.6 479.9,409.9 480.2,410.2 480.5,410.5 480.9,410.8 481.2,411.1 481.5,411.4 481.9,411.7 482.2,411.9 482.6,412.2 483.2,412.7 483.9,413.2 484.6,413.7 485.2,414.2 485.9,414.7 486.6,415.2 487.3,415.7 488.0,416.2 488.6,416.6 489.3,417.1 490.0,417.6 490.7,418.0 491.3,418.5 492.0,418.9 492.7,419.3 493.4,419.8 494.0,420.2 494.7,420.6 495.4,421.0 496.1,421.5 496.7,421.9 497.4,422.3 498.1,422.7 498.8,423.1 499.4,423.5 500.1,423.9 500.8,424.3 501.5,424.7 502.1,425.0 502.8,425.4 503.5,425.8 504.2,426.1 504.8,426.5 505.5,426.9 506.2,427.2 506.9,427.5 507.5,427.9 508.2,428.2 508.9,428.5 509.6,428.8 510.2,429.2 510.9,429.5 511.6,429.8 512.2,430.1 512.9,430.4 513.6,430.7 514.3,430.9 515.0,431.2 515.6,431.5 516.3,431.8 517.0,432.0 517.6,432.3 518.3,432.5 519.0,432.8 519.7,433.0 520.4,433.3 521.0,433.5 521.7,433.7 522.4,434.0 523.0,434.2 523.7,434.4 524.4,434.6 525.1,434.9 525.8,435.1 526.4,435.3 527.1,435.5 527.8,435.7 528.5,435.9 529.1,436.1 529.8,436.3 530.5,436.5 531.1,436.7 531.8,436.9 532.5,437.0 533.2,437.2 533.9,437.4 534.5,437.6 535.2,437.8 535.9,437.9 536.5,438.1 537.2,438.3 537.9,438.5 538.6,438.6 539.2,438.8 539.9,439.0 540.6,439.1 541.3,439.3 542.0,439.5 542.6,439.6 543.3,439.8 544.0,440.0 544.6,440.1 545.3,440.3 546.0,440.4 546.7,440.6 547.4,440.8 548.0,440.9 548.7,441.1 549.4,441.2 550.0,441.4 550.7,441.6 551.4,441.7 552.1,441.9 552.8,442.0 553.4,442.2 554.1,442.3 554.8,442.5 555.5,442.6 556.1,442.8 556.8,443.0 557.5,443.1 558.1,443.3 558.8,443.4 559.5,443.6 560.2,443.7 560.9,443.8 561.5,444.0 562.2,444.1 562.9,444.3 563.5,444.4 564.2,444.6 564.9,444.7 565.6,444.8 566.2,445.0 566.9,445.1 567.6,445.3 568.3,445.4 569.0,445.5 569.6,445.7 570.3,445.8 571.0,445.9 571.7,446.0 572.3,446.2 573.0,446.3 573.7,446.4 574.4,446.5 575.0,446.7 575.7,446.8 576.4,446.9 577.1,447.0 577.7,447.1 578.4,447.2 579.1,447.3 579.8,447.5 580.4,447.6 581.1,447.7 581.8,447.8 582.5,447.9 583.1,448.0 583.8,448.1 584.5,448.2 585.1,448.3 585.8,448.4 586.5,448.4 587.2,448.5 587.9,448.6 588.5,448.7 589.2,448.8 589.9,448.9 590.5,449.0 591.2,449.1 591.9,449.2 592.6,449.2 593.2,449.3 593.9,449.4 594.6,449.5 595.3,449.6 596.0,449.7 596.6,449.7 597.3,449.8 598.0,449.9 598.6,450.0 599.3,450.1 600.0,450.1 600.7,450.2 601.4,450.3 602.0,450.4 602.7,450.4 603.4,450.5 604.0,450.6 604.7,450.6 605.4,450.7 606.1,450.8 606.8,450.8 607.4,450.9 608.1,451.0 608.8,451.1 609.5,451.1 610.1,451.2 610.8,451.2 611.5,451.3 612.1,451.4 612.8,451.4 613.5,451.5 614.2,451.6 614.9,451.6 615.5,451.7 616.2,451.7 616.9,451.8 617.5,451.9 618.2,451.9 618.9,452.0 619.6,452.0 620.2,452.1 620.9,452.2 621.6,452.2 622.3,452.3 623.0,452.3 623.6,452.4 624.3,452.4 625.0,452.5 625.6,452.5 626.3,452.6 627.0,452.6 627.7,452.7 628.4,452.8 629.0,452.8 629.7,452.9 630.4,452.9 631.0,453.0 631.7,453.0 632.4,453.1 633.1,453.1 633.8,453.2 634.4,453.2 635.1,453.3 635.8,453.3 636.5,453.3 637.1,453.4 637.8,453.4 638.5,453.5 639.2,453.5 639.8,453.6 640.5,453.6 641.2,453.7 641.9,453.7 642.5,453.7 643.2,453.8 643.9,453.8 644.5,453.9 645.2,453.9 645.9,454.0 646.6,454.0 647.2,454.0 647.9,454.1 648.6,454.1 649.3,454.1 650.0,454.2 650.6,454.2 651.3,454.3" fill="none" stroke="#9DC3E6" stroke-width="1.4" stroke-linejoin="round"/>
<polyline points="381.3,464.4 381.6,463.2 382.0,462.0 382.3,460.8 382.7,459.6 383.0,458.3 383.3,457.1 383.7,455.9 384.0,454.7 384.3,453.5 384.7,452.3 385.0,451.1 385.4,449.9 385.7,448.7 386.0,447.5 386.4,446.3 386.7,445.1 387.0,443.8 387.4,442.6 387.7,441.4 388.1,440.1 388.4,438.9 388.7,437.6 389.1,436.3 389.4,435.0 389.7,433.7 390.1,432.4 390.4,431.1 390.8,429.8 391.1,428.4 391.4,427.1 391.8,425.8 392.1,424.4 392.4,423.0 392.8,421.7 393.1,420.3 393.4,418.9 393.8,417.5 394.1,416.1 394.5,414.7 394.8,413.3 395.1,411.9 395.5,410.5 395.8,409.1 396.2,407.7 396.5,406.3 396.8,404.9 397.2,403.5 397.5,402.0 397.8,400.6 398.2,399.3 398.5,397.9 398.9,396.5 399.2,395.1 399.5,393.7 399.9,392.4 400.2,391.1 400.5,389.7 400.9,388.4 401.2,387.2 401.6,385.9 401.9,384.6 402.2,383.4 402.6,382.1 402.9,380.9 403.2,379.6 403.6,378.4 403.9,377.2 404.2,376.0 404.6,374.9 404.9,373.8 405.3,372.7 405.6,371.6 405.9,370.6 406.3,369.6 406.6,368.7 406.9,367.7 407.3,366.8 407.6,365.8 408.0,364.9 408.3,364.0 408.6,363.1 409.0,362.2 409.3,361.3 409.7,360.5 410.0,359.6 410.3,358.7 410.7,357.8 411.0,357.0 411.3,356.1 411.7,355.3 412.0,354.4 412.4,353.6 412.7,352.8 413.0,352.0 413.4,351.2 413.7,350.4 414.0,349.6 414.4,348.9 414.7,348.1 415.1,347.4 415.4,346.7 415.7,346.0 416.1,345.4 416.4,344.8 416.7,344.2 417.1,343.7 417.4,343.2 417.8,342.7 418.1,342.2 418.4,341.7 418.8,341.3 419.1,340.8 419.4,340.4 419.8,340.0 420.1,339.6 420.4,339.2 420.8,338.8 421.1,338.5 421.5,338.2 421.8,337.9 422.1,337.6 422.5,337.3 422.8,337.0 423.2,336.8 423.5,336.5 423.8,336.3 424.2,336.1 424.5,335.9 424.8,335.8 425.2,335.6 425.5,335.4 425.9,335.3 426.2,335.1 426.5,335.0 426.9,334.8 427.2,334.7 427.5,334.5 427.9,334.4 428.2,334.3 428.6,334.1 428.9,334.0 429.2,333.9 429.6,333.8 429.9,333.8 430.2,333.7 430.6,333.6 430.9,333.6 431.2,333.6 431.6,333.6 431.9,333.6 432.3,333.7 432.6,333.7 432.9,333.8 433.3,333.9 433.6,334.1 433.9,334.2 434.3,334.4 434.6,334.6 435.0,334.8 435.3,335.0 435.6,335.3 436.0,335.5 436.3,335.8 436.7,336.1 437.0,336.4 437.3,336.7 437.7,337.0 438.0,337.4 438.3,337.7 438.7,338.0 439.0,338.4 439.4,338.8 439.7,339.1 440.0,339.5 440.4,339.9 440.7,340.3 441.0,340.7 441.4,341.1 441.7,341.5 442.1,341.9 442.4,342.3 442.7,342.7 443.1,343.1 443.4,343.6 443.7,344.0 444.1,344.4 444.4,344.8 444.8,345.2 445.1,345.6 445.4,346.0 445.8,346.5 446.1,346.9 446.4,347.3 446.8,347.7 447.1,348.0 447.5,348.4 447.8,348.8 448.1,349.3 448.5,349.7 448.8,350.1 449.1,350.5 449.5,351.0 449.8,351.4 450.1,351.8 450.5,352.3 450.8,352.8 451.2,353.2 451.5,353.7 451.8,354.2 452.2,354.7 452.5,355.1 452.9,355.6 453.2,356.1 453.5,356.6 453.9,357.1 454.2,357.6 454.5,358.1 454.9,358.6 455.2,359.1 455.6,359.6 455.9,360.1 456.2,360.7 456.6,361.2 456.9,361.7 457.2,362.2 457.6,362.7 457.9,363.2 458.2,363.7 458.6,364.2 458.9,364.8 459.3,365.3 459.6,365.8 459.9,366.3 460.3,366.8 460.6,367.3 460.9,367.8 461.3,368.3 461.6,368.8 462.0,369.3 462.3,369.8 462.6,370.3 463.0,370.8 463.3,371.3 463.6,371.7 464.0,372.2 464.3,372.7 464.7,373.2 465.0,373.7 465.3,374.2 465.7,374.7 466.0,375.2 466.4,375.7 466.7,376.2 467.0,376.7 467.4,377.2 467.7,377.7 468.0,378.2 468.4,378.8 468.7,379.3 469.1,379.8 469.4,380.3 469.7,380.8 470.1,381.4 470.4,381.9 470.7,382.4 471.1,382.9 471.4,383.4 471.8,384.0 472.1,384.5 472.4,385.0 472.8,385.5 473.1,386.0 473.4,386.5 473.8,387.0 474.1,387.5 474.5,388.0 474.8,388.5 475.1,389.0 475.5,389.5 475.8,389.9 476.1,390.4 476.5,390.9 476.8,391.3 477.1,391.8 477.5,392.3 477.8,392.7 478.2,393.1 478.5,393.6 478.8,394.0 479.2,394.4 479.5,394.8 479.9,395.2 480.2,395.6 480.5,396.0 480.9,396.4 481.2,396.8 481.5,397.2 481.9,397.5 482.2,397.9 482.6,398.2 483.2,398.9 483.9,399.5 484.6,400.2 485.2,400.8 485.9,401.5 486.6,402.1 487.3,402.7 488.0,403.3 488.6,403.9 489.3,404.4 490.0,405.0 490.7,405.6 491.3,406.1 492.0,406.7 492.7,407.2 493.4,407.8 494.0,408.3 494.7,408.8 495.4,409.4 496.1,409.9 496.7,410.4 497.4,410.9 498.1,411.4 498.8,411.9 499.4,412.4 500.1,412.9 500.8,413.4 501.5,413.9 502.1,414.3 502.8,414.8 503.5,415.3 504.2,415.7 504.8,416.2 505.5,416.6 506.2,417.0 506.9,417.5 507.5,417.9 508.2,418.3 508.9,418.7 509.6,419.1 510.2,419.5 510.9,419.9 511.6,420.3 512.2,420.6 512.9,421.0 513.6,421.4 514.3,421.7 515.0,422.1 515.6,422.4 516.3,422.8 517.0,423.1 517.6,423.4 518.3,423.8 519.0,424.1 519.7,424.4 520.4,424.7 521.0,425.0 521.7,425.3 522.4,425.6 523.0,425.9 523.7,426.2 524.4,426.5 525.1,426.8 525.8,427.1 526.4,427.4 527.1,427.6 527.8,427.9 528.5,428.2 529.1,428.4 529.8,428.7 530.5,428.9 531.1,429.2 531.8,429.4 532.5,429.7 533.2,429.9 533.9,430.2 534.5,430.4 535.2,430.6 535.9,430.9 536.5,431.1 537.2,431.3 537.9,431.5 538.6,431.7 539.2,432.0 539.9,432.2 540.6,432.4 541.3,432.6 542.0,432.8 542.6,433.0 543.3,433.2 544.0,433.4 544.6,433.6 545.3,433.8 546.0,434.0 546.7,434.2 547.4,434.4 548.0,434.6 548.7,434.8 549.4,435.0 550.0,435.2 550.7,435.4 551.4,435.6 552.1,435.8 552.8,436.0 553.4,436.2 554.1,436.3 554.8,436.5 555.5,436.7 556.1,436.9 556.8,437.1 557.5,437.3 558.1,437.4 558.8,437.6 559.5,437.8 560.2,438.0 560.9,438.1 561.5,438.3 562.2,438.5 562.9,438.6 563.5,438.8 564.2,439.0 564.9,439.1 565.6,439.3 566.2,439.4 566.9,439.6 567.6,439.8 568.3,439.9 569.0,440.1 569.6,440.2 570.3,440.4 571.0,440.5 571.7,440.7 572.3,440.8 573.0,441.0 573.7,441.1 574.4,441.2 575.0,441.4 575.7,441.5 576.4,441.7 577.1,441.8 577.7,441.9 578.4,442.1 579.1,442.2 579.8,442.3 580.4,442.4 581.1,442.6 581.8,442.7 582.5,442.8 583.1,442.9 583.8,443.1 584.5,443.2 585.1,443.3 585.8,443.4 586.5,443.5 587.2,443.6 587.9,443.8 588.5,443.9 589.2,444.0 589.9,444.1 590.5,444.2 591.2,444.3 591.9,444.4 592.6,444.5 593.2,444.6 593.9,444.7 594.6,444.8 595.3,444.9 596.0,445.0 596.6,445.1 597.3,445.2 598.0,445.3 598.6,445.4 599.3,445.5 600.0,445.6 600.7,445.7 601.4,445.8 602.0,445.9 602.7,446.0 603.4,446.0 604.0,446.1 604.7,446.2 605.4,446.3 606.1,446.4 606.8,446.5 607.4,446.6 608.1,446.7 608.8,446.8 609.5,446.8 610.1,446.9 610.8,447.0 611.5,447.1 612.1,447.2 612.8,447.3 613.5,447.3 614.2,447.4 614.9,447.5 615.5,447.6 616.2,447.7 616.9,447.8 617.5,447.8 618.2,447.9 618.9,448.0 619.6,448.1 620.2,448.2 620.9,448.2 621.6,448.3 622.3,448.4 623.0,448.5 623.6,448.5 624.3,448.6 625.0,448.7 625.6,448.8 626.3,448.9 627.0,448.9 627.7,449.0 628.4,449.1 629.0,449.1 629.7,449.2 630.4,449.3 631.0,449.4 631.7,449.4 632.4,449.5 633.1,449.6 633.8,449.7 634.4,449.7 635.1,449.8 635.8,449.9 636.5,449.9 637.1,450.0 637.8,450.1 638.5,450.1 639.2,450.2 639.8,450.3 640.5,450.3 641.2,450.4 641.9,450.5 642.5,450.5 643.2,450.6 643.9,450.7 644.5,450.7 645.2,450.8 645.9,450.9 646.6,450.9 647.2,451.0 647.9,451.0 648.6,451.1 649.3,451.2 650.0,451.2 650.6,451.3 651.3,451.3" fill="none" stroke="#FFD04A" stroke-width="1.4" stroke-linejoin="round"/>
<path d="M383.2 458.3h3M386.6 452.1h3M389.9 445.4h3M393.3 438.3h3M396.7 431.2h3M400.1 424.3h3M403.4 417.6h3M406.8 411.2h3M410.2 404.8h3M413.6 399.2h3M416.9 394.8h3M420.3 391.8h3M423.7 389.3h3M427.1 387.4h3M430.4 386.1h3M433.8 385.6h3M437.2 385.8h3M440.6 386.7h3M443.9 388.2h3M447.3 390.6h3M450.7 393.6h3M454.1 396.5h3M457.4 399.6h3M460.8 402.7h3M464.2 405.9h3M467.6 409.2h3M470.9 412.5h3M474.3 415.7h3M477.7 418.7h3M481.1 421.3h3M383.2 456.6h3M386.6 448.8h3M389.9 440.3h3M393.3 431.4h3M396.7 422.4h3M400.1 413.6h3M403.4 405.2h3M406.8 397.6h3M410.2 390.7h3M413.6 384.4h3M416.9 379.1h3M420.3 375.6h3M423.7 372.9h3M427.1 371.4h3M430.4 370.6h3M433.8 370.4h3M437.2 371.3h3M440.6 373.3h3M443.9 376.0h3M447.3 379.2h3M450.7 383.1h3M454.1 386.6h3M457.4 390.1h3M460.8 393.5h3M464.2 397.0h3M467.6 400.7h3M470.9 404.5h3M474.3 408.1h3M477.7 411.4h3M481.1 414.2h3M383.2 455.0h3M386.6 445.4h3M389.9 435.2h3M393.3 424.3h3M396.7 413.3h3M400.1 402.8h3M403.4 392.8h3M406.8 384.6h3M410.2 377.0h3M413.6 370.2h3M416.9 364.1h3M420.3 359.7h3M423.7 357.8h3M427.1 356.3h3M430.4 355.5h3M433.8 355.9h3M437.2 357.6h3M440.6 360.4h3M443.9 363.7h3M447.3 367.3h3M450.7 371.6h3M454.1 375.6h3M457.4 379.5h3M460.8 383.5h3M464.2 387.6h3M467.6 391.9h3M470.9 396.3h3M474.3 400.6h3M477.7 404.4h3M481.1 407.7h3M383.2 456.3h3M386.6 448.2h3M389.9 439.4h3M393.3 430.1h3M396.7 420.7h3M400.1 411.6h3M403.4 402.8h3M406.8 395.0h3M410.2 387.7h3M413.6 381.2h3M416.9 375.8h3M420.3 372.1h3M423.7 369.2h3M427.1 367.8h3M430.4 366.9h3M433.8 366.7h3M437.2 367.6h3M440.6 369.7h3M443.9 372.6h3M447.3 375.8h3M450.7 379.9h3M454.1 383.6h3M457.4 387.1h3M460.8 390.7h3M464.2 394.4h3M467.6 398.2h3M470.9 402.1h3M474.3 405.8h3M477.7 409.3h3M481.1 412.2h3M383.2 452.3h3M386.6 440.1h3M389.9 427.1h3M393.3 413.3h3M396.7 399.3h3M400.1 385.9h3M403.4 373.8h3M406.8 364.0h3M410.2 355.3h3M413.6 347.4h3M416.9 341.7h3M420.3 337.9h3M423.7 335.6h3M427.1 334.1h3M430.4 333.6h3M433.8 335.0h3M437.2 338.0h3M440.6 341.9h3M443.9 346.0h3M447.3 350.1h3M450.7 354.7h3M454.1 359.6h3M457.4 364.8h3M460.8 369.8h3M464.2 374.7h3M467.6 379.8h3M470.9 385.0h3M474.3 389.9h3M477.7 394.4h3M481.1 398.2h3" stroke="#222" stroke-opacity="0.62" stroke-width="1" fill="none"/>
<path d="M514.8 437.3h3M548.5 445.6h3M582.3 450.8h3M616.0 453.9h3M649.8 456.0h3M514.8 433.0h3M548.5 442.3h3M582.3 448.7h3M616.0 452.3h3M649.8 454.6h3M514.8 428.7h3M548.5 439.2h3M582.3 446.1h3M616.0 450.3h3M649.8 453.2h3M514.8 431.8h3M548.5 441.4h3M582.3 448.1h3M616.0 451.9h3M649.8 454.3h3M514.8 422.8h3M548.5 435.2h3M582.3 443.1h3M616.0 447.8h3M649.8 451.3h3" stroke="#222" stroke-opacity="0.25" stroke-width="1" fill="none"/>
<path d="M559.00 291.60H572.60" stroke="#70AD47" stroke-width="1.15"/>
<text x="574.60" y="294.40" class="l" textLength="68.2" lengthAdjust="spacingAndGlyphs">Ciliated/Pre-ciliated</text>
<path d="M559.00 312.30H572.60" stroke="#2F5597" stroke-width="1.15"/>
<text x="574.60" y="315.10" class="l" textLength="23.3" lengthAdjust="spacingAndGlyphs">Goblet</text>
<path d="M559.00 333.30H572.60" stroke="#C55A11" stroke-width="1.15"/>
<text x="574.60" y="336.10" class="l" textLength="18.3" lengthAdjust="spacingAndGlyphs">Basal</text>
<path d="M559.00 354.30H572.60" stroke="#9DC3E6" stroke-width="1.15"/>
<text x="574.60" y="357.10" class="l" textLength="55.3" lengthAdjust="spacingAndGlyphs">Other Secretory</text>
<path d="M559.00 374.80H572.60" stroke="#FFD04A" stroke-width="1.15"/>
<text x="574.60" y="377.60" class="l" textLength="46.9" lengthAdjust="spacingAndGlyphs">Indetermined</text>
<text transform="translate(354.80,446.90) rotate(-90)" x="0" y="0" class="yt" textLength="146.0" lengthAdjust="spacingAndGlyphs">Number of complex DSBs / hit</text>
<text x="465.80" y="489.90" class="xt" textLength="89.9" lengthAdjust="spacingAndGlyphs">Alpha Energy (MeV)</text>
<text x="341.10" y="266.60" class="pl">(d)</text>
<rect x="0" y="0" width="667" height="1" fill="#d0d0d0"/>
<path d="M1 1.5H667M1.5 1V500M1 499.5H666" stroke="#333" stroke-width="1" fill="none"/>
<rect x="665" y="1" width="2" height="499" fill="#8a8a8a"/>
<path d="M333.5 1V500" stroke="#666" stroke-width="1"/>
<path d="M1 250.5H666" stroke="#333" stroke-width="1"/>
</g></svg>
</body></html>
